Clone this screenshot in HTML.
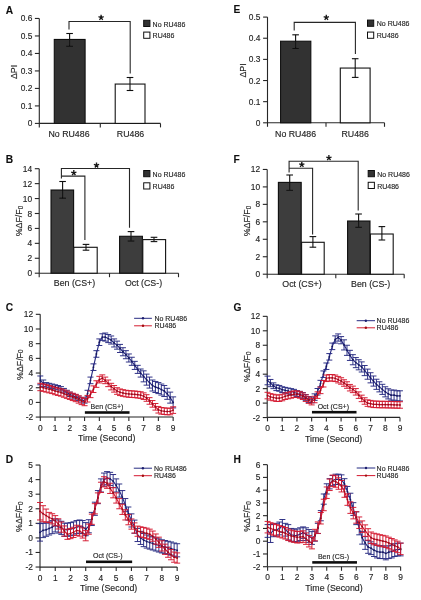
<!DOCTYPE html>
<html><head><meta charset="utf-8"><style>
html,body{margin:0;padding:0;background:#fff;}
svg{display:block;}
text{font-family:"Liberation Sans", sans-serif;stroke:#333;stroke-width:0.15px;}
</style></head><body>
<svg width="421" height="600" viewBox="0 0 421 600">
<defs><filter id="bl" x="0" y="0" width="421" height="600" filterUnits="userSpaceOnUse"><feGaussianBlur stdDeviation="0.32"/></filter></defs>
<rect width="421" height="600" fill="#fff"/>
<g filter="url(#bl)">
<text x="5.8" y="13.6" font-size="10.2" text-anchor="start" font-weight="bold" fill="#111">A</text>
<line x1="39.3" y1="18.46" x2="39.3" y2="127.4" stroke="#262626" stroke-width="1.1"/>
<line x1="34.9" y1="123.4" x2="39.3" y2="123.4" stroke="#262626" stroke-width="1.1"/>
<text x="32.3" y="126.42" font-size="8.4" text-anchor="end" font-weight="normal" fill="#1a1a1a">0</text>
<line x1="34.9" y1="105.91" x2="39.3" y2="105.91" stroke="#262626" stroke-width="1.1"/>
<text x="32.3" y="108.93" font-size="8.4" text-anchor="end" font-weight="normal" fill="#1a1a1a">0.1</text>
<line x1="34.9" y1="88.42" x2="39.3" y2="88.42" stroke="#262626" stroke-width="1.1"/>
<text x="32.3" y="91.44" font-size="8.4" text-anchor="end" font-weight="normal" fill="#1a1a1a">0.2</text>
<line x1="34.9" y1="70.93" x2="39.3" y2="70.93" stroke="#262626" stroke-width="1.1"/>
<text x="32.3" y="73.95" font-size="8.4" text-anchor="end" font-weight="normal" fill="#1a1a1a">0.3</text>
<line x1="34.9" y1="53.44" x2="39.3" y2="53.44" stroke="#262626" stroke-width="1.1"/>
<text x="32.3" y="56.46" font-size="8.4" text-anchor="end" font-weight="normal" fill="#1a1a1a">0.4</text>
<line x1="34.9" y1="35.95" x2="39.3" y2="35.95" stroke="#262626" stroke-width="1.1"/>
<text x="32.3" y="38.97" font-size="8.4" text-anchor="end" font-weight="normal" fill="#1a1a1a">0.5</text>
<line x1="34.9" y1="18.46" x2="39.3" y2="18.46" stroke="#262626" stroke-width="1.1"/>
<text x="32.3" y="21.48" font-size="8.4" text-anchor="end" font-weight="normal" fill="#1a1a1a">0.6</text>
<line x1="39.3" y1="123.4" x2="160.5" y2="123.4" stroke="#262626" stroke-width="1.1"/>
<line x1="100.3" y1="123.4" x2="100.3" y2="127.4" stroke="#262626" stroke-width="1.1"/>
<line x1="160.5" y1="123.4" x2="160.5" y2="127.4" stroke="#262626" stroke-width="1.1"/>
<rect x="54.3" y="39.45" width="30.8" height="83.95" fill="#333333" stroke="#111" stroke-width="1.1"/>
<rect x="115.2" y="84.05" width="29.8" height="39.35" fill="#fff" stroke="#111" stroke-width="1.1"/>
<line x1="69.6" y1="33.5" x2="69.6" y2="46.3" stroke="#111" stroke-width="1.1"/>
<line x1="66.3" y1="33.5" x2="72.9" y2="33.5" stroke="#111" stroke-width="1.1"/>
<line x1="66.3" y1="46.3" x2="72.9" y2="46.3" stroke="#111" stroke-width="1.1"/>
<line x1="130" y1="77.5" x2="130" y2="90.5" stroke="#111" stroke-width="1.1"/>
<line x1="126.7" y1="77.5" x2="133.3" y2="77.5" stroke="#111" stroke-width="1.1"/>
<line x1="126.7" y1="90.5" x2="133.3" y2="90.5" stroke="#111" stroke-width="1.1"/>
<polyline points="69,29.5 69,21.5 130.2,21.5 130.2,73.5" fill="none" stroke="#262626" stroke-width="1.1"/>
<path d="M101.1,17.57L101.1,14.82M101.1,17.57L103.72,16.72M101.1,17.57L102.72,19.79M101.1,17.57L99.48,19.79M101.1,17.57L98.48,16.72" stroke="#1a1a1a" stroke-width="1.35" fill="none"/>
<circle cx="101.1" cy="17.57" r="0.9" fill="#1a1a1a"/>
<rect x="143.7" y="20.3" width="6.2" height="6.2" fill="#333" stroke="#111" stroke-width="1.0"/>
<rect x="143.7" y="32.1" width="6.2" height="6.2" fill="#fff" stroke="#111" stroke-width="1.0"/>
<text x="152.6" y="26.6" font-size="7.0" text-anchor="start" font-weight="normal" fill="#1a1a1a">No RU486</text>
<text x="152.6" y="38.4" font-size="7.0" text-anchor="start" font-weight="normal" fill="#1a1a1a">RU486</text>
<text x="69" y="136.5" font-size="8.8" text-anchor="middle" font-weight="normal" fill="#1a1a1a">No RU486</text>
<text x="130.5" y="136.5" font-size="8.8" text-anchor="middle" font-weight="normal" fill="#1a1a1a">RU486</text>
<text transform="translate(16.9,72) rotate(-90)" x="0" y="0" font-size="8.8" text-anchor="middle" fill="#1a1a1a">ΔPI</text>
<text x="233.4" y="13.1" font-size="10.2" text-anchor="start" font-weight="bold" fill="#111">E</text>
<line x1="267.5" y1="17.1" x2="267.5" y2="126.8" stroke="#262626" stroke-width="1.1"/>
<line x1="263.1" y1="122.8" x2="267.5" y2="122.8" stroke="#262626" stroke-width="1.1"/>
<text x="260.5" y="125.82" font-size="8.4" text-anchor="end" font-weight="normal" fill="#1a1a1a">0</text>
<line x1="263.1" y1="101.66" x2="267.5" y2="101.66" stroke="#262626" stroke-width="1.1"/>
<text x="260.5" y="104.68" font-size="8.4" text-anchor="end" font-weight="normal" fill="#1a1a1a">0.1</text>
<line x1="263.1" y1="80.52" x2="267.5" y2="80.52" stroke="#262626" stroke-width="1.1"/>
<text x="260.5" y="83.54" font-size="8.4" text-anchor="end" font-weight="normal" fill="#1a1a1a">0.2</text>
<line x1="263.1" y1="59.38" x2="267.5" y2="59.38" stroke="#262626" stroke-width="1.1"/>
<text x="260.5" y="62.4" font-size="8.4" text-anchor="end" font-weight="normal" fill="#1a1a1a">0.3</text>
<line x1="263.1" y1="38.24" x2="267.5" y2="38.24" stroke="#262626" stroke-width="1.1"/>
<text x="260.5" y="41.26" font-size="8.4" text-anchor="end" font-weight="normal" fill="#1a1a1a">0.4</text>
<line x1="263.1" y1="17.1" x2="267.5" y2="17.1" stroke="#262626" stroke-width="1.1"/>
<text x="260.5" y="20.12" font-size="8.4" text-anchor="end" font-weight="normal" fill="#1a1a1a">0.5</text>
<line x1="267.5" y1="122.8" x2="384.5" y2="122.8" stroke="#262626" stroke-width="1.1"/>
<line x1="326" y1="122.8" x2="326" y2="126.8" stroke="#262626" stroke-width="1.1"/>
<line x1="384.5" y1="122.8" x2="384.5" y2="126.8" stroke="#262626" stroke-width="1.1"/>
<rect x="280.6" y="41.2" width="30.2" height="81.6" fill="#333333" stroke="#111" stroke-width="1.1"/>
<rect x="340.3" y="68.05" width="29.8" height="54.75" fill="#fff" stroke="#111" stroke-width="1.1"/>
<line x1="295.6" y1="34.8" x2="295.6" y2="48.5" stroke="#111" stroke-width="1.1"/>
<line x1="292.3" y1="34.8" x2="298.9" y2="34.8" stroke="#111" stroke-width="1.1"/>
<line x1="292.3" y1="48.5" x2="298.9" y2="48.5" stroke="#111" stroke-width="1.1"/>
<line x1="355.2" y1="58.7" x2="355.2" y2="77.4" stroke="#111" stroke-width="1.1"/>
<line x1="351.9" y1="58.7" x2="358.5" y2="58.7" stroke="#111" stroke-width="1.1"/>
<line x1="351.9" y1="77.4" x2="358.5" y2="77.4" stroke="#111" stroke-width="1.1"/>
<polyline points="294.2,30.5 294.2,22.4 355.4,22.4 355.4,54" fill="none" stroke="#262626" stroke-width="1.1"/>
<path d="M326.3,17.57L326.3,14.82M326.3,17.57L328.92,16.72M326.3,17.57L327.92,19.79M326.3,17.57L324.68,19.79M326.3,17.57L323.68,16.72" stroke="#1a1a1a" stroke-width="1.35" fill="none"/>
<circle cx="326.3" cy="17.57" r="0.9" fill="#1a1a1a"/>
<rect x="367.5" y="20.1" width="6.2" height="6.2" fill="#333" stroke="#111" stroke-width="1.0"/>
<rect x="367.5" y="32.1" width="6.2" height="6.2" fill="#fff" stroke="#111" stroke-width="1.0"/>
<text x="376.8" y="26.4" font-size="7.0" text-anchor="start" font-weight="normal" fill="#1a1a1a">No RU486</text>
<text x="376.8" y="38.4" font-size="7.0" text-anchor="start" font-weight="normal" fill="#1a1a1a">RU486</text>
<text x="295.6" y="136.6" font-size="8.8" text-anchor="middle" font-weight="normal" fill="#1a1a1a">No RU486</text>
<text x="355.2" y="136.6" font-size="8.8" text-anchor="middle" font-weight="normal" fill="#1a1a1a">RU486</text>
<text transform="translate(246,70.5) rotate(-90)" x="0" y="0" font-size="8.8" text-anchor="middle" fill="#1a1a1a">ΔPI</text>
<text x="5.8" y="163.2" font-size="10.2" text-anchor="start" font-weight="bold" fill="#111">B</text>
<line x1="39.2" y1="168.7" x2="39.2" y2="277.2" stroke="#262626" stroke-width="1.1"/>
<line x1="34.8" y1="273.2" x2="39.2" y2="273.2" stroke="#262626" stroke-width="1.1"/>
<text x="32.2" y="276.22" font-size="8.4" text-anchor="end" font-weight="normal" fill="#1a1a1a">0</text>
<line x1="34.8" y1="258.27" x2="39.2" y2="258.27" stroke="#262626" stroke-width="1.1"/>
<text x="32.2" y="261.3" font-size="8.4" text-anchor="end" font-weight="normal" fill="#1a1a1a">2</text>
<line x1="34.8" y1="243.34" x2="39.2" y2="243.34" stroke="#262626" stroke-width="1.1"/>
<text x="32.2" y="246.37" font-size="8.4" text-anchor="end" font-weight="normal" fill="#1a1a1a">4</text>
<line x1="34.8" y1="228.42" x2="39.2" y2="228.42" stroke="#262626" stroke-width="1.1"/>
<text x="32.2" y="231.44" font-size="8.4" text-anchor="end" font-weight="normal" fill="#1a1a1a">6</text>
<line x1="34.8" y1="213.49" x2="39.2" y2="213.49" stroke="#262626" stroke-width="1.1"/>
<text x="32.2" y="216.51" font-size="8.4" text-anchor="end" font-weight="normal" fill="#1a1a1a">8</text>
<line x1="34.8" y1="198.56" x2="39.2" y2="198.56" stroke="#262626" stroke-width="1.1"/>
<text x="32.2" y="201.58" font-size="8.4" text-anchor="end" font-weight="normal" fill="#1a1a1a">10</text>
<line x1="34.8" y1="183.63" x2="39.2" y2="183.63" stroke="#262626" stroke-width="1.1"/>
<text x="32.2" y="186.66" font-size="8.4" text-anchor="end" font-weight="normal" fill="#1a1a1a">12</text>
<line x1="34.8" y1="168.7" x2="39.2" y2="168.7" stroke="#262626" stroke-width="1.1"/>
<text x="32.2" y="171.73" font-size="8.4" text-anchor="end" font-weight="normal" fill="#1a1a1a">14</text>
<line x1="39.2" y1="273.2" x2="178.5" y2="273.2" stroke="#262626" stroke-width="1.1"/>
<line x1="109.5" y1="273.2" x2="109.5" y2="277.2" stroke="#262626" stroke-width="1.1"/>
<line x1="178.5" y1="273.2" x2="178.5" y2="277.2" stroke="#262626" stroke-width="1.1"/>
<rect x="51" y="190" width="22.6" height="83.2" fill="#3d3d3d" stroke="#111" stroke-width="1.1"/>
<rect x="73.8" y="247.3" width="23.4" height="25.9" fill="#fff" stroke="#111" stroke-width="1.1"/>
<rect x="119.6" y="236.3" width="22.8" height="36.9" fill="#3d3d3d" stroke="#111" stroke-width="1.1"/>
<rect x="142.8" y="239.6" width="22.8" height="33.6" fill="#fff" stroke="#111" stroke-width="1.1"/>
<line x1="62.6" y1="181.5" x2="62.6" y2="198.2" stroke="#111" stroke-width="1.1"/>
<line x1="59.3" y1="181.5" x2="65.9" y2="181.5" stroke="#111" stroke-width="1.1"/>
<line x1="59.3" y1="198.2" x2="65.9" y2="198.2" stroke="#111" stroke-width="1.1"/>
<line x1="86" y1="244.4" x2="86" y2="250.2" stroke="#111" stroke-width="1.1"/>
<line x1="82.7" y1="244.4" x2="89.3" y2="244.4" stroke="#111" stroke-width="1.1"/>
<line x1="82.7" y1="250.2" x2="89.3" y2="250.2" stroke="#111" stroke-width="1.1"/>
<line x1="131" y1="231.6" x2="131" y2="241.1" stroke="#111" stroke-width="1.1"/>
<line x1="127.7" y1="231.6" x2="134.3" y2="231.6" stroke="#111" stroke-width="1.1"/>
<line x1="127.7" y1="241.1" x2="134.3" y2="241.1" stroke="#111" stroke-width="1.1"/>
<line x1="154" y1="237.3" x2="154" y2="241.6" stroke="#111" stroke-width="1.1"/>
<line x1="150.7" y1="237.3" x2="157.3" y2="237.3" stroke="#111" stroke-width="1.1"/>
<line x1="150.7" y1="241.6" x2="157.3" y2="241.6" stroke="#111" stroke-width="1.1"/>
<polyline points="61.4,178.5 61.4,168.5 129.5,168.5 129.5,227.7" fill="none" stroke="#262626" stroke-width="1.1"/>
<polyline points="61.4,176.1 84.9,176.1 84.9,240" fill="none" stroke="#262626" stroke-width="1.1"/>
<path d="M73.8,172.87L73.8,170.12M73.8,172.87L76.42,172.02M73.8,172.87L75.42,175.09M73.8,172.87L72.18,175.09M73.8,172.87L71.18,172.02" stroke="#1a1a1a" stroke-width="1.35" fill="none"/>
<circle cx="73.8" cy="172.87" r="0.9" fill="#1a1a1a"/>
<path d="M96.5,165.27L96.5,162.52M96.5,165.27L99.12,164.42M96.5,165.27L98.12,167.49M96.5,165.27L94.88,167.49M96.5,165.27L93.88,164.42" stroke="#1a1a1a" stroke-width="1.35" fill="none"/>
<circle cx="96.5" cy="165.27" r="0.9" fill="#1a1a1a"/>
<rect x="143.7" y="170.5" width="6.2" height="6.2" fill="#333" stroke="#111" stroke-width="1.0"/>
<rect x="143.7" y="182.8" width="6.2" height="6.2" fill="#fff" stroke="#111" stroke-width="1.0"/>
<text x="152.6" y="176.8" font-size="7.0" text-anchor="start" font-weight="normal" fill="#1a1a1a">No RU486</text>
<text x="152.6" y="189.1" font-size="7.0" text-anchor="start" font-weight="normal" fill="#1a1a1a">RU486</text>
<text x="74.5" y="286.4" font-size="8.8" text-anchor="middle" font-weight="normal" fill="#1a1a1a">Ben (CS+)</text>
<text x="143.5" y="286.4" font-size="8.8" text-anchor="middle" font-weight="normal" fill="#1a1a1a">Oct (CS-)</text>
<text transform="translate(22.3,221) rotate(-90)" x="0" y="0" font-size="8.8" text-anchor="middle" fill="#1a1a1a">%ΔF/F<tspan font-size="6.3" dy="0.5">0</tspan></text>
<text x="233.4" y="163.2" font-size="10.2" text-anchor="start" font-weight="bold" fill="#111">F</text>
<line x1="267.2" y1="169.44" x2="267.2" y2="278.2" stroke="#262626" stroke-width="1.1"/>
<line x1="262.8" y1="274.2" x2="267.2" y2="274.2" stroke="#262626" stroke-width="1.1"/>
<text x="260.2" y="277.22" font-size="8.4" text-anchor="end" font-weight="normal" fill="#1a1a1a">0</text>
<line x1="262.8" y1="256.74" x2="267.2" y2="256.74" stroke="#262626" stroke-width="1.1"/>
<text x="260.2" y="259.76" font-size="8.4" text-anchor="end" font-weight="normal" fill="#1a1a1a">2</text>
<line x1="262.8" y1="239.28" x2="267.2" y2="239.28" stroke="#262626" stroke-width="1.1"/>
<text x="260.2" y="242.3" font-size="8.4" text-anchor="end" font-weight="normal" fill="#1a1a1a">4</text>
<line x1="262.8" y1="221.82" x2="267.2" y2="221.82" stroke="#262626" stroke-width="1.1"/>
<text x="260.2" y="224.84" font-size="8.4" text-anchor="end" font-weight="normal" fill="#1a1a1a">6</text>
<line x1="262.8" y1="204.36" x2="267.2" y2="204.36" stroke="#262626" stroke-width="1.1"/>
<text x="260.2" y="207.38" font-size="8.4" text-anchor="end" font-weight="normal" fill="#1a1a1a">8</text>
<line x1="262.8" y1="186.9" x2="267.2" y2="186.9" stroke="#262626" stroke-width="1.1"/>
<text x="260.2" y="189.92" font-size="8.4" text-anchor="end" font-weight="normal" fill="#1a1a1a">10</text>
<line x1="262.8" y1="169.44" x2="267.2" y2="169.44" stroke="#262626" stroke-width="1.1"/>
<text x="260.2" y="172.46" font-size="8.4" text-anchor="end" font-weight="normal" fill="#1a1a1a">12</text>
<line x1="267.2" y1="274.2" x2="404.2" y2="274.2" stroke="#262626" stroke-width="1.1"/>
<line x1="335.8" y1="274.2" x2="335.8" y2="278.2" stroke="#262626" stroke-width="1.1"/>
<line x1="404.2" y1="274.2" x2="404.2" y2="278.2" stroke="#262626" stroke-width="1.1"/>
<rect x="278.4" y="182.4" width="22.8" height="91.8" fill="#3d3d3d" stroke="#111" stroke-width="1.1"/>
<rect x="301.6" y="242.3" width="22.6" height="31.9" fill="#fff" stroke="#111" stroke-width="1.1"/>
<rect x="347.6" y="221" width="22.4" height="53.2" fill="#3d3d3d" stroke="#111" stroke-width="1.1"/>
<rect x="370.4" y="234" width="22.8" height="40.2" fill="#fff" stroke="#111" stroke-width="1.1"/>
<line x1="289.7" y1="175" x2="289.7" y2="190.4" stroke="#111" stroke-width="1.1"/>
<line x1="286.4" y1="175" x2="293" y2="175" stroke="#111" stroke-width="1.1"/>
<line x1="286.4" y1="190.4" x2="293" y2="190.4" stroke="#111" stroke-width="1.1"/>
<line x1="312.9" y1="236.6" x2="312.9" y2="247.2" stroke="#111" stroke-width="1.1"/>
<line x1="309.6" y1="236.6" x2="316.2" y2="236.6" stroke="#111" stroke-width="1.1"/>
<line x1="309.6" y1="247.2" x2="316.2" y2="247.2" stroke="#111" stroke-width="1.1"/>
<line x1="358.6" y1="214" x2="358.6" y2="227.3" stroke="#111" stroke-width="1.1"/>
<line x1="355.3" y1="214" x2="361.9" y2="214" stroke="#111" stroke-width="1.1"/>
<line x1="355.3" y1="227.3" x2="361.9" y2="227.3" stroke="#111" stroke-width="1.1"/>
<line x1="381.9" y1="226.6" x2="381.9" y2="240" stroke="#111" stroke-width="1.1"/>
<line x1="378.6" y1="226.6" x2="385.2" y2="226.6" stroke="#111" stroke-width="1.1"/>
<line x1="378.6" y1="240" x2="385.2" y2="240" stroke="#111" stroke-width="1.1"/>
<polyline points="289.1,172.5 289.1,161.3 358.2,161.3 358.2,210.5" fill="none" stroke="#262626" stroke-width="1.1"/>
<polyline points="289.1,168.3 312.6,168.3 312.6,234.5" fill="none" stroke="#262626" stroke-width="1.1"/>
<path d="M301.8,164.67L301.8,161.92M301.8,164.67L304.42,163.82M301.8,164.67L303.42,166.89M301.8,164.67L300.18,166.89M301.8,164.67L299.18,163.82" stroke="#1a1a1a" stroke-width="1.35" fill="none"/>
<circle cx="301.8" cy="164.67" r="0.9" fill="#1a1a1a"/>
<path d="M328.9,157.87L328.9,155.12M328.9,157.87L331.52,157.02M328.9,157.87L330.52,160.09M328.9,157.87L327.28,160.09M328.9,157.87L326.28,157.02" stroke="#1a1a1a" stroke-width="1.35" fill="none"/>
<circle cx="328.9" cy="157.87" r="0.9" fill="#1a1a1a"/>
<rect x="368.2" y="170.5" width="6.2" height="6.2" fill="#333" stroke="#111" stroke-width="1.0"/>
<rect x="368.2" y="182.3" width="6.2" height="6.2" fill="#fff" stroke="#111" stroke-width="1.0"/>
<text x="377.2" y="176.8" font-size="7.0" text-anchor="start" font-weight="normal" fill="#1a1a1a">No RU486</text>
<text x="377.2" y="188.6" font-size="7.0" text-anchor="start" font-weight="normal" fill="#1a1a1a">RU486</text>
<text x="302" y="287" font-size="8.8" text-anchor="middle" font-weight="normal" fill="#1a1a1a">Oct (CS+)</text>
<text x="370.6" y="287" font-size="8.8" text-anchor="middle" font-weight="normal" fill="#1a1a1a">Ben (CS-)</text>
<text transform="translate(250.2,221) rotate(-90)" x="0" y="0" font-size="8.8" text-anchor="middle" fill="#1a1a1a">%ΔF/F<tspan font-size="6.3" dy="0.5">0</tspan></text>
<text x="5.8" y="311.1" font-size="10.2" text-anchor="start" font-weight="bold" fill="#111">C</text>
<line x1="40.2" y1="314.32" x2="40.2" y2="417" stroke="#262626" stroke-width="1.1"/>
<line x1="35.8" y1="417.08" x2="40.2" y2="417.08" stroke="#262626" stroke-width="1.1"/>
<text x="33.2" y="420.1" font-size="8.4" text-anchor="end" font-weight="normal" fill="#1a1a1a">-2</text>
<line x1="35.8" y1="402.4" x2="40.2" y2="402.4" stroke="#262626" stroke-width="1.1"/>
<text x="33.2" y="405.42" font-size="8.4" text-anchor="end" font-weight="normal" fill="#1a1a1a">0</text>
<line x1="35.8" y1="387.72" x2="40.2" y2="387.72" stroke="#262626" stroke-width="1.1"/>
<text x="33.2" y="390.74" font-size="8.4" text-anchor="end" font-weight="normal" fill="#1a1a1a">2</text>
<line x1="35.8" y1="373.04" x2="40.2" y2="373.04" stroke="#262626" stroke-width="1.1"/>
<text x="33.2" y="376.06" font-size="8.4" text-anchor="end" font-weight="normal" fill="#1a1a1a">4</text>
<line x1="35.8" y1="358.36" x2="40.2" y2="358.36" stroke="#262626" stroke-width="1.1"/>
<text x="33.2" y="361.38" font-size="8.4" text-anchor="end" font-weight="normal" fill="#1a1a1a">6</text>
<line x1="35.8" y1="343.68" x2="40.2" y2="343.68" stroke="#262626" stroke-width="1.1"/>
<text x="33.2" y="346.7" font-size="8.4" text-anchor="end" font-weight="normal" fill="#1a1a1a">8</text>
<line x1="35.8" y1="329" x2="40.2" y2="329" stroke="#262626" stroke-width="1.1"/>
<text x="33.2" y="332.02" font-size="8.4" text-anchor="end" font-weight="normal" fill="#1a1a1a">10</text>
<line x1="35.8" y1="314.32" x2="40.2" y2="314.32" stroke="#262626" stroke-width="1.1"/>
<text x="33.2" y="317.34" font-size="8.4" text-anchor="end" font-weight="normal" fill="#1a1a1a">12</text>
<line x1="40.2" y1="417" x2="173.14" y2="417" stroke="#262626" stroke-width="1.1"/>
<line x1="40.3" y1="417" x2="40.3" y2="421" stroke="#262626" stroke-width="1.1"/>
<line x1="55.06" y1="417" x2="55.06" y2="421" stroke="#262626" stroke-width="1.1"/>
<line x1="69.82" y1="417" x2="69.82" y2="421" stroke="#262626" stroke-width="1.1"/>
<line x1="84.58" y1="417" x2="84.58" y2="421" stroke="#262626" stroke-width="1.1"/>
<line x1="99.34" y1="417" x2="99.34" y2="421" stroke="#262626" stroke-width="1.1"/>
<line x1="114.1" y1="417" x2="114.1" y2="421" stroke="#262626" stroke-width="1.1"/>
<line x1="128.86" y1="417" x2="128.86" y2="421" stroke="#262626" stroke-width="1.1"/>
<line x1="143.62" y1="417" x2="143.62" y2="421" stroke="#262626" stroke-width="1.1"/>
<line x1="158.38" y1="417" x2="158.38" y2="421" stroke="#262626" stroke-width="1.1"/>
<line x1="173.14" y1="417" x2="173.14" y2="421" stroke="#262626" stroke-width="1.1"/>
<text x="40.3" y="430.5" font-size="8.4" text-anchor="middle" font-weight="normal" fill="#1a1a1a">0</text>
<text x="55.06" y="430.5" font-size="8.4" text-anchor="middle" font-weight="normal" fill="#1a1a1a">1</text>
<text x="69.82" y="430.5" font-size="8.4" text-anchor="middle" font-weight="normal" fill="#1a1a1a">2</text>
<text x="84.58" y="430.5" font-size="8.4" text-anchor="middle" font-weight="normal" fill="#1a1a1a">3</text>
<text x="99.34" y="430.5" font-size="8.4" text-anchor="middle" font-weight="normal" fill="#1a1a1a">4</text>
<text x="114.1" y="430.5" font-size="8.4" text-anchor="middle" font-weight="normal" fill="#1a1a1a">5</text>
<text x="128.86" y="430.5" font-size="8.4" text-anchor="middle" font-weight="normal" fill="#1a1a1a">6</text>
<text x="143.62" y="430.5" font-size="8.4" text-anchor="middle" font-weight="normal" fill="#1a1a1a">7</text>
<text x="158.38" y="430.5" font-size="8.4" text-anchor="middle" font-weight="normal" fill="#1a1a1a">8</text>
<text x="173.14" y="430.5" font-size="8.4" text-anchor="middle" font-weight="normal" fill="#1a1a1a">9</text>
<text x="106.67" y="441.2" font-size="8.8" text-anchor="middle" font-weight="normal" fill="#1a1a1a">Time (Second)</text>
<rect x="84.88" y="411.2" width="44.68" height="2.6" fill="#111"/>
<text x="90.58" y="408.8" font-size="7.0" text-anchor="start" font-weight="normal" fill="#1a1a1a">Ben (CS+)</text>
<line x1="134.1" y1="318.3" x2="151.9" y2="318.3" stroke="#272a82" stroke-width="1.0"/>
<line x1="134.1" y1="325.8" x2="151.9" y2="325.8" stroke="#d4172e" stroke-width="1.0"/>
<circle cx="143" cy="318.3" r="1.2" fill="#1c1f6e"/>
<circle cx="143" cy="325.8" r="1.2" fill="#a01010"/>
<text x="154.4" y="320.8" font-size="7.0" text-anchor="start" font-weight="normal" fill="#1a1a1a">No RU486</text>
<text x="154.4" y="328.3" font-size="7.0" text-anchor="start" font-weight="normal" fill="#1a1a1a">RU486</text>
<text transform="translate(22.5,364.7) rotate(-90)" x="0" y="0" font-size="8.8" text-anchor="middle" fill="#1a1a1a">%ΔF/F<tspan font-size="6.3" dy="0.5">0</tspan></text>
<line x1="40.3" y1="375.98" x2="40.3" y2="384.78" stroke="#272a82" stroke-width="0.95"/>
<line x1="37.3" y1="375.98" x2="43.3" y2="375.98" stroke="#272a82" stroke-width="0.95"/>
<line x1="37.3" y1="384.78" x2="43.3" y2="384.78" stroke="#272a82" stroke-width="0.95"/>
<line x1="43.25" y1="380.01" x2="43.25" y2="386.62" stroke="#272a82" stroke-width="0.95"/>
<line x1="40.25" y1="380.01" x2="46.25" y2="380.01" stroke="#272a82" stroke-width="0.95"/>
<line x1="40.25" y1="386.62" x2="46.25" y2="386.62" stroke="#272a82" stroke-width="0.95"/>
<line x1="46.2" y1="382.58" x2="46.2" y2="386.99" stroke="#272a82" stroke-width="0.95"/>
<line x1="43.2" y1="382.58" x2="49.2" y2="382.58" stroke="#272a82" stroke-width="0.95"/>
<line x1="43.2" y1="386.99" x2="49.2" y2="386.99" stroke="#272a82" stroke-width="0.95"/>
<line x1="49.16" y1="383.32" x2="49.16" y2="387.72" stroke="#272a82" stroke-width="0.95"/>
<line x1="46.16" y1="383.32" x2="52.16" y2="383.32" stroke="#272a82" stroke-width="0.95"/>
<line x1="46.16" y1="387.72" x2="52.16" y2="387.72" stroke="#272a82" stroke-width="0.95"/>
<line x1="52.11" y1="384.05" x2="52.11" y2="388.45" stroke="#272a82" stroke-width="0.95"/>
<line x1="49.11" y1="384.05" x2="55.11" y2="384.05" stroke="#272a82" stroke-width="0.95"/>
<line x1="49.11" y1="388.45" x2="55.11" y2="388.45" stroke="#272a82" stroke-width="0.95"/>
<line x1="55.06" y1="384.78" x2="55.06" y2="389.19" stroke="#272a82" stroke-width="0.95"/>
<line x1="52.06" y1="384.78" x2="58.06" y2="384.78" stroke="#272a82" stroke-width="0.95"/>
<line x1="52.06" y1="389.19" x2="58.06" y2="389.19" stroke="#272a82" stroke-width="0.95"/>
<line x1="58.01" y1="385.52" x2="58.01" y2="389.92" stroke="#272a82" stroke-width="0.95"/>
<line x1="55.01" y1="385.52" x2="61.01" y2="385.52" stroke="#272a82" stroke-width="0.95"/>
<line x1="55.01" y1="389.92" x2="61.01" y2="389.92" stroke="#272a82" stroke-width="0.95"/>
<line x1="60.96" y1="386.62" x2="60.96" y2="391.02" stroke="#272a82" stroke-width="0.95"/>
<line x1="57.96" y1="386.62" x2="63.96" y2="386.62" stroke="#272a82" stroke-width="0.95"/>
<line x1="57.96" y1="391.02" x2="63.96" y2="391.02" stroke="#272a82" stroke-width="0.95"/>
<line x1="63.92" y1="388.45" x2="63.92" y2="392.86" stroke="#272a82" stroke-width="0.95"/>
<line x1="60.92" y1="388.45" x2="66.92" y2="388.45" stroke="#272a82" stroke-width="0.95"/>
<line x1="60.92" y1="392.86" x2="66.92" y2="392.86" stroke="#272a82" stroke-width="0.95"/>
<line x1="66.87" y1="390.29" x2="66.87" y2="394.69" stroke="#272a82" stroke-width="0.95"/>
<line x1="63.87" y1="390.29" x2="69.87" y2="390.29" stroke="#272a82" stroke-width="0.95"/>
<line x1="63.87" y1="394.69" x2="69.87" y2="394.69" stroke="#272a82" stroke-width="0.95"/>
<line x1="69.82" y1="392.12" x2="69.82" y2="396.53" stroke="#272a82" stroke-width="0.95"/>
<line x1="66.82" y1="392.12" x2="72.82" y2="392.12" stroke="#272a82" stroke-width="0.95"/>
<line x1="66.82" y1="396.53" x2="72.82" y2="396.53" stroke="#272a82" stroke-width="0.95"/>
<line x1="72.77" y1="393.59" x2="72.77" y2="398" stroke="#272a82" stroke-width="0.95"/>
<line x1="69.77" y1="393.59" x2="75.77" y2="393.59" stroke="#272a82" stroke-width="0.95"/>
<line x1="69.77" y1="398" x2="75.77" y2="398" stroke="#272a82" stroke-width="0.95"/>
<line x1="75.72" y1="394.69" x2="75.72" y2="399.1" stroke="#272a82" stroke-width="0.95"/>
<line x1="72.72" y1="394.69" x2="78.72" y2="394.69" stroke="#272a82" stroke-width="0.95"/>
<line x1="72.72" y1="399.1" x2="78.72" y2="399.1" stroke="#272a82" stroke-width="0.95"/>
<line x1="78.68" y1="396.16" x2="78.68" y2="400.56" stroke="#272a82" stroke-width="0.95"/>
<line x1="75.68" y1="396.16" x2="81.68" y2="396.16" stroke="#272a82" stroke-width="0.95"/>
<line x1="75.68" y1="400.56" x2="81.68" y2="400.56" stroke="#272a82" stroke-width="0.95"/>
<line x1="81.63" y1="397.63" x2="81.63" y2="402.03" stroke="#272a82" stroke-width="0.95"/>
<line x1="78.63" y1="397.63" x2="84.63" y2="397.63" stroke="#272a82" stroke-width="0.95"/>
<line x1="78.63" y1="402.03" x2="84.63" y2="402.03" stroke="#272a82" stroke-width="0.95"/>
<line x1="84.58" y1="398.73" x2="84.58" y2="403.13" stroke="#272a82" stroke-width="0.95"/>
<line x1="81.58" y1="398.73" x2="87.58" y2="398.73" stroke="#272a82" stroke-width="0.95"/>
<line x1="81.58" y1="403.13" x2="87.58" y2="403.13" stroke="#272a82" stroke-width="0.95"/>
<line x1="87.53" y1="390.29" x2="87.53" y2="396.89" stroke="#272a82" stroke-width="0.95"/>
<line x1="84.53" y1="390.29" x2="90.53" y2="390.29" stroke="#272a82" stroke-width="0.95"/>
<line x1="84.53" y1="396.89" x2="90.53" y2="396.89" stroke="#272a82" stroke-width="0.95"/>
<line x1="90.48" y1="377.08" x2="90.48" y2="383.68" stroke="#272a82" stroke-width="0.95"/>
<line x1="87.48" y1="377.08" x2="93.48" y2="377.08" stroke="#272a82" stroke-width="0.95"/>
<line x1="87.48" y1="383.68" x2="93.48" y2="383.68" stroke="#272a82" stroke-width="0.95"/>
<line x1="93.44" y1="363.87" x2="93.44" y2="370.47" stroke="#272a82" stroke-width="0.95"/>
<line x1="90.44" y1="363.87" x2="96.44" y2="363.87" stroke="#272a82" stroke-width="0.95"/>
<line x1="90.44" y1="370.47" x2="96.44" y2="370.47" stroke="#272a82" stroke-width="0.95"/>
<line x1="96.39" y1="350.65" x2="96.39" y2="357.26" stroke="#272a82" stroke-width="0.95"/>
<line x1="93.39" y1="350.65" x2="99.39" y2="350.65" stroke="#272a82" stroke-width="0.95"/>
<line x1="93.39" y1="357.26" x2="99.39" y2="357.26" stroke="#272a82" stroke-width="0.95"/>
<line x1="99.34" y1="338.91" x2="99.34" y2="345.51" stroke="#272a82" stroke-width="0.95"/>
<line x1="96.34" y1="338.91" x2="102.34" y2="338.91" stroke="#272a82" stroke-width="0.95"/>
<line x1="96.34" y1="345.51" x2="102.34" y2="345.51" stroke="#272a82" stroke-width="0.95"/>
<line x1="102.29" y1="333.77" x2="102.29" y2="340.38" stroke="#272a82" stroke-width="0.95"/>
<line x1="99.29" y1="333.77" x2="105.29" y2="333.77" stroke="#272a82" stroke-width="0.95"/>
<line x1="99.29" y1="340.38" x2="105.29" y2="340.38" stroke="#272a82" stroke-width="0.95"/>
<line x1="105.24" y1="333.04" x2="105.24" y2="341.11" stroke="#272a82" stroke-width="0.95"/>
<line x1="102.24" y1="333.04" x2="108.24" y2="333.04" stroke="#272a82" stroke-width="0.95"/>
<line x1="102.24" y1="341.11" x2="108.24" y2="341.11" stroke="#272a82" stroke-width="0.95"/>
<line x1="108.2" y1="334.5" x2="108.2" y2="342.58" stroke="#272a82" stroke-width="0.95"/>
<line x1="105.2" y1="334.5" x2="111.2" y2="334.5" stroke="#272a82" stroke-width="0.95"/>
<line x1="105.2" y1="342.58" x2="111.2" y2="342.58" stroke="#272a82" stroke-width="0.95"/>
<line x1="111.15" y1="335.97" x2="111.15" y2="344.05" stroke="#272a82" stroke-width="0.95"/>
<line x1="108.15" y1="335.97" x2="114.15" y2="335.97" stroke="#272a82" stroke-width="0.95"/>
<line x1="108.15" y1="344.05" x2="114.15" y2="344.05" stroke="#272a82" stroke-width="0.95"/>
<line x1="114.1" y1="338.91" x2="114.1" y2="346.98" stroke="#272a82" stroke-width="0.95"/>
<line x1="111.1" y1="338.91" x2="117.1" y2="338.91" stroke="#272a82" stroke-width="0.95"/>
<line x1="111.1" y1="346.98" x2="117.1" y2="346.98" stroke="#272a82" stroke-width="0.95"/>
<line x1="117.05" y1="341.11" x2="117.05" y2="349.18" stroke="#272a82" stroke-width="0.95"/>
<line x1="114.05" y1="341.11" x2="120.05" y2="341.11" stroke="#272a82" stroke-width="0.95"/>
<line x1="114.05" y1="349.18" x2="120.05" y2="349.18" stroke="#272a82" stroke-width="0.95"/>
<line x1="120" y1="344.41" x2="120" y2="352.49" stroke="#272a82" stroke-width="0.95"/>
<line x1="117" y1="344.41" x2="123" y2="344.41" stroke="#272a82" stroke-width="0.95"/>
<line x1="117" y1="352.49" x2="123" y2="352.49" stroke="#272a82" stroke-width="0.95"/>
<line x1="122.96" y1="347.72" x2="122.96" y2="355.79" stroke="#272a82" stroke-width="0.95"/>
<line x1="119.96" y1="347.72" x2="125.96" y2="347.72" stroke="#272a82" stroke-width="0.95"/>
<line x1="119.96" y1="355.79" x2="125.96" y2="355.79" stroke="#272a82" stroke-width="0.95"/>
<line x1="125.91" y1="350.65" x2="125.91" y2="358.73" stroke="#272a82" stroke-width="0.95"/>
<line x1="122.91" y1="350.65" x2="128.91" y2="350.65" stroke="#272a82" stroke-width="0.95"/>
<line x1="122.91" y1="358.73" x2="128.91" y2="358.73" stroke="#272a82" stroke-width="0.95"/>
<line x1="128.86" y1="353.96" x2="128.86" y2="362.03" stroke="#272a82" stroke-width="0.95"/>
<line x1="125.86" y1="353.96" x2="131.86" y2="353.96" stroke="#272a82" stroke-width="0.95"/>
<line x1="125.86" y1="362.03" x2="131.86" y2="362.03" stroke="#272a82" stroke-width="0.95"/>
<line x1="131.81" y1="357.26" x2="131.81" y2="365.33" stroke="#272a82" stroke-width="0.95"/>
<line x1="128.81" y1="357.26" x2="134.81" y2="357.26" stroke="#272a82" stroke-width="0.95"/>
<line x1="128.81" y1="365.33" x2="134.81" y2="365.33" stroke="#272a82" stroke-width="0.95"/>
<line x1="134.76" y1="361.37" x2="134.76" y2="369.44" stroke="#272a82" stroke-width="0.95"/>
<line x1="131.76" y1="361.37" x2="137.76" y2="361.37" stroke="#272a82" stroke-width="0.95"/>
<line x1="131.76" y1="369.44" x2="137.76" y2="369.44" stroke="#272a82" stroke-width="0.95"/>
<line x1="137.72" y1="365.33" x2="137.72" y2="373.41" stroke="#272a82" stroke-width="0.95"/>
<line x1="134.72" y1="365.33" x2="140.72" y2="365.33" stroke="#272a82" stroke-width="0.95"/>
<line x1="134.72" y1="373.41" x2="140.72" y2="373.41" stroke="#272a82" stroke-width="0.95"/>
<line x1="140.67" y1="369" x2="140.67" y2="377.08" stroke="#272a82" stroke-width="0.95"/>
<line x1="137.67" y1="369" x2="143.67" y2="369" stroke="#272a82" stroke-width="0.95"/>
<line x1="137.67" y1="377.08" x2="143.67" y2="377.08" stroke="#272a82" stroke-width="0.95"/>
<line x1="143.62" y1="370.84" x2="143.62" y2="381.85" stroke="#272a82" stroke-width="0.95"/>
<line x1="140.62" y1="370.84" x2="146.62" y2="370.84" stroke="#272a82" stroke-width="0.95"/>
<line x1="140.62" y1="381.85" x2="146.62" y2="381.85" stroke="#272a82" stroke-width="0.95"/>
<line x1="146.57" y1="374.14" x2="146.57" y2="385.15" stroke="#272a82" stroke-width="0.95"/>
<line x1="143.57" y1="374.14" x2="149.57" y2="374.14" stroke="#272a82" stroke-width="0.95"/>
<line x1="143.57" y1="385.15" x2="149.57" y2="385.15" stroke="#272a82" stroke-width="0.95"/>
<line x1="149.52" y1="377.08" x2="149.52" y2="388.09" stroke="#272a82" stroke-width="0.95"/>
<line x1="146.52" y1="377.08" x2="152.52" y2="377.08" stroke="#272a82" stroke-width="0.95"/>
<line x1="146.52" y1="388.09" x2="152.52" y2="388.09" stroke="#272a82" stroke-width="0.95"/>
<line x1="152.48" y1="380.01" x2="152.48" y2="391.02" stroke="#272a82" stroke-width="0.95"/>
<line x1="149.48" y1="380.01" x2="155.48" y2="380.01" stroke="#272a82" stroke-width="0.95"/>
<line x1="149.48" y1="391.02" x2="155.48" y2="391.02" stroke="#272a82" stroke-width="0.95"/>
<line x1="155.43" y1="381.48" x2="155.43" y2="392.49" stroke="#272a82" stroke-width="0.95"/>
<line x1="152.43" y1="381.48" x2="158.43" y2="381.48" stroke="#272a82" stroke-width="0.95"/>
<line x1="152.43" y1="392.49" x2="158.43" y2="392.49" stroke="#272a82" stroke-width="0.95"/>
<line x1="158.38" y1="382.58" x2="158.38" y2="393.59" stroke="#272a82" stroke-width="0.95"/>
<line x1="155.38" y1="382.58" x2="161.38" y2="382.58" stroke="#272a82" stroke-width="0.95"/>
<line x1="155.38" y1="393.59" x2="161.38" y2="393.59" stroke="#272a82" stroke-width="0.95"/>
<line x1="161.33" y1="384.05" x2="161.33" y2="395.06" stroke="#272a82" stroke-width="0.95"/>
<line x1="158.33" y1="384.05" x2="164.33" y2="384.05" stroke="#272a82" stroke-width="0.95"/>
<line x1="158.33" y1="395.06" x2="164.33" y2="395.06" stroke="#272a82" stroke-width="0.95"/>
<line x1="164.28" y1="385.52" x2="164.28" y2="396.53" stroke="#272a82" stroke-width="0.95"/>
<line x1="161.28" y1="385.52" x2="167.28" y2="385.52" stroke="#272a82" stroke-width="0.95"/>
<line x1="161.28" y1="396.53" x2="167.28" y2="396.53" stroke="#272a82" stroke-width="0.95"/>
<line x1="167.24" y1="388.31" x2="167.24" y2="399.32" stroke="#272a82" stroke-width="0.95"/>
<line x1="164.24" y1="388.31" x2="170.24" y2="388.31" stroke="#272a82" stroke-width="0.95"/>
<line x1="164.24" y1="399.32" x2="170.24" y2="399.32" stroke="#272a82" stroke-width="0.95"/>
<line x1="170.19" y1="392.12" x2="170.19" y2="403.13" stroke="#272a82" stroke-width="0.95"/>
<line x1="167.19" y1="392.12" x2="173.19" y2="392.12" stroke="#272a82" stroke-width="0.95"/>
<line x1="167.19" y1="403.13" x2="173.19" y2="403.13" stroke="#272a82" stroke-width="0.95"/>
<line x1="173.14" y1="396.89" x2="173.14" y2="407.9" stroke="#272a82" stroke-width="0.95"/>
<line x1="170.14" y1="396.89" x2="176.14" y2="396.89" stroke="#272a82" stroke-width="0.95"/>
<line x1="170.14" y1="407.9" x2="176.14" y2="407.9" stroke="#272a82" stroke-width="0.95"/>
<polyline points="40.3,380.38 43.25,383.32 46.2,384.78 49.16,385.52 52.11,386.25 55.06,386.99 58.01,387.72 60.96,388.82 63.92,390.66 66.87,392.49 69.82,394.33 72.77,395.79 75.72,396.89 78.68,398.36 81.63,399.83 84.58,400.93 87.53,393.59 90.48,380.38 93.44,367.17 96.39,353.96 99.34,342.21 102.29,337.07 105.24,337.07 108.2,338.54 111.15,340.01 114.1,342.95 117.05,345.15 120,348.45 122.96,351.75 125.91,354.69 128.86,357.99 131.81,361.3 134.76,365.41 137.72,369.37 140.67,373.04 143.62,376.34 146.57,379.65 149.52,382.58 152.48,385.52 155.43,386.99 158.38,388.09 161.33,389.55 164.28,391.02 167.24,393.81 170.19,397.63 173.14,402.4" fill="none" stroke="#272a82" stroke-width="1.15"/>
<circle cx="40.3" cy="380.38" r="0.9" fill="#16185a"/>
<circle cx="43.25" cy="383.32" r="0.9" fill="#16185a"/>
<circle cx="46.2" cy="384.78" r="0.9" fill="#16185a"/>
<circle cx="49.16" cy="385.52" r="0.9" fill="#16185a"/>
<circle cx="52.11" cy="386.25" r="0.9" fill="#16185a"/>
<circle cx="55.06" cy="386.99" r="0.9" fill="#16185a"/>
<circle cx="58.01" cy="387.72" r="0.9" fill="#16185a"/>
<circle cx="60.96" cy="388.82" r="0.9" fill="#16185a"/>
<circle cx="63.92" cy="390.66" r="0.9" fill="#16185a"/>
<circle cx="66.87" cy="392.49" r="0.9" fill="#16185a"/>
<circle cx="69.82" cy="394.33" r="0.9" fill="#16185a"/>
<circle cx="72.77" cy="395.79" r="0.9" fill="#16185a"/>
<circle cx="75.72" cy="396.89" r="0.9" fill="#16185a"/>
<circle cx="78.68" cy="398.36" r="0.9" fill="#16185a"/>
<circle cx="81.63" cy="399.83" r="0.9" fill="#16185a"/>
<circle cx="84.58" cy="400.93" r="0.9" fill="#16185a"/>
<circle cx="87.53" cy="393.59" r="0.9" fill="#16185a"/>
<circle cx="90.48" cy="380.38" r="0.9" fill="#16185a"/>
<circle cx="93.44" cy="367.17" r="0.9" fill="#16185a"/>
<circle cx="96.39" cy="353.96" r="0.9" fill="#16185a"/>
<circle cx="99.34" cy="342.21" r="0.9" fill="#16185a"/>
<circle cx="102.29" cy="337.07" r="0.9" fill="#16185a"/>
<circle cx="105.24" cy="337.07" r="0.9" fill="#16185a"/>
<circle cx="108.2" cy="338.54" r="0.9" fill="#16185a"/>
<circle cx="111.15" cy="340.01" r="0.9" fill="#16185a"/>
<circle cx="114.1" cy="342.95" r="0.9" fill="#16185a"/>
<circle cx="117.05" cy="345.15" r="0.9" fill="#16185a"/>
<circle cx="120" cy="348.45" r="0.9" fill="#16185a"/>
<circle cx="122.96" cy="351.75" r="0.9" fill="#16185a"/>
<circle cx="125.91" cy="354.69" r="0.9" fill="#16185a"/>
<circle cx="128.86" cy="357.99" r="0.9" fill="#16185a"/>
<circle cx="131.81" cy="361.3" r="0.9" fill="#16185a"/>
<circle cx="134.76" cy="365.41" r="0.9" fill="#16185a"/>
<circle cx="137.72" cy="369.37" r="0.9" fill="#16185a"/>
<circle cx="140.67" cy="373.04" r="0.9" fill="#16185a"/>
<circle cx="143.62" cy="376.34" r="0.9" fill="#16185a"/>
<circle cx="146.57" cy="379.65" r="0.9" fill="#16185a"/>
<circle cx="149.52" cy="382.58" r="0.9" fill="#16185a"/>
<circle cx="152.48" cy="385.52" r="0.9" fill="#16185a"/>
<circle cx="155.43" cy="386.99" r="0.9" fill="#16185a"/>
<circle cx="158.38" cy="388.09" r="0.9" fill="#16185a"/>
<circle cx="161.33" cy="389.55" r="0.9" fill="#16185a"/>
<circle cx="164.28" cy="391.02" r="0.9" fill="#16185a"/>
<circle cx="167.24" cy="393.81" r="0.9" fill="#16185a"/>
<circle cx="170.19" cy="397.63" r="0.9" fill="#16185a"/>
<circle cx="173.14" cy="402.4" r="0.9" fill="#16185a"/>
<line x1="40.3" y1="383.32" x2="40.3" y2="390.66" stroke="#d4172e" stroke-width="0.95"/>
<line x1="37.3" y1="383.32" x2="43.3" y2="383.32" stroke="#d4172e" stroke-width="0.95"/>
<line x1="37.3" y1="390.66" x2="43.3" y2="390.66" stroke="#d4172e" stroke-width="0.95"/>
<line x1="43.25" y1="384.05" x2="43.25" y2="391.39" stroke="#d4172e" stroke-width="0.95"/>
<line x1="40.25" y1="384.05" x2="46.25" y2="384.05" stroke="#d4172e" stroke-width="0.95"/>
<line x1="40.25" y1="391.39" x2="46.25" y2="391.39" stroke="#d4172e" stroke-width="0.95"/>
<line x1="46.2" y1="384.78" x2="46.2" y2="392.12" stroke="#d4172e" stroke-width="0.95"/>
<line x1="43.2" y1="384.78" x2="49.2" y2="384.78" stroke="#d4172e" stroke-width="0.95"/>
<line x1="43.2" y1="392.12" x2="49.2" y2="392.12" stroke="#d4172e" stroke-width="0.95"/>
<line x1="49.16" y1="385.52" x2="49.16" y2="392.86" stroke="#d4172e" stroke-width="0.95"/>
<line x1="46.16" y1="385.52" x2="52.16" y2="385.52" stroke="#d4172e" stroke-width="0.95"/>
<line x1="46.16" y1="392.86" x2="52.16" y2="392.86" stroke="#d4172e" stroke-width="0.95"/>
<line x1="52.11" y1="386.25" x2="52.11" y2="393.59" stroke="#d4172e" stroke-width="0.95"/>
<line x1="49.11" y1="386.25" x2="55.11" y2="386.25" stroke="#d4172e" stroke-width="0.95"/>
<line x1="49.11" y1="393.59" x2="55.11" y2="393.59" stroke="#d4172e" stroke-width="0.95"/>
<line x1="55.06" y1="387.35" x2="55.06" y2="394.69" stroke="#d4172e" stroke-width="0.95"/>
<line x1="52.06" y1="387.35" x2="58.06" y2="387.35" stroke="#d4172e" stroke-width="0.95"/>
<line x1="52.06" y1="394.69" x2="58.06" y2="394.69" stroke="#d4172e" stroke-width="0.95"/>
<line x1="58.01" y1="388.09" x2="58.01" y2="395.43" stroke="#d4172e" stroke-width="0.95"/>
<line x1="55.01" y1="388.09" x2="61.01" y2="388.09" stroke="#d4172e" stroke-width="0.95"/>
<line x1="55.01" y1="395.43" x2="61.01" y2="395.43" stroke="#d4172e" stroke-width="0.95"/>
<line x1="60.96" y1="388.82" x2="60.96" y2="396.16" stroke="#d4172e" stroke-width="0.95"/>
<line x1="57.96" y1="388.82" x2="63.96" y2="388.82" stroke="#d4172e" stroke-width="0.95"/>
<line x1="57.96" y1="396.16" x2="63.96" y2="396.16" stroke="#d4172e" stroke-width="0.95"/>
<line x1="63.92" y1="389.92" x2="63.92" y2="397.26" stroke="#d4172e" stroke-width="0.95"/>
<line x1="60.92" y1="389.92" x2="66.92" y2="389.92" stroke="#d4172e" stroke-width="0.95"/>
<line x1="60.92" y1="397.26" x2="66.92" y2="397.26" stroke="#d4172e" stroke-width="0.95"/>
<line x1="66.87" y1="391.02" x2="66.87" y2="398.36" stroke="#d4172e" stroke-width="0.95"/>
<line x1="63.87" y1="391.02" x2="69.87" y2="391.02" stroke="#d4172e" stroke-width="0.95"/>
<line x1="63.87" y1="398.36" x2="69.87" y2="398.36" stroke="#d4172e" stroke-width="0.95"/>
<line x1="69.82" y1="392.12" x2="69.82" y2="399.46" stroke="#d4172e" stroke-width="0.95"/>
<line x1="66.82" y1="392.12" x2="72.82" y2="392.12" stroke="#d4172e" stroke-width="0.95"/>
<line x1="66.82" y1="399.46" x2="72.82" y2="399.46" stroke="#d4172e" stroke-width="0.95"/>
<line x1="72.77" y1="393.22" x2="72.77" y2="400.56" stroke="#d4172e" stroke-width="0.95"/>
<line x1="69.77" y1="393.22" x2="75.77" y2="393.22" stroke="#d4172e" stroke-width="0.95"/>
<line x1="69.77" y1="400.56" x2="75.77" y2="400.56" stroke="#d4172e" stroke-width="0.95"/>
<line x1="75.72" y1="394.33" x2="75.72" y2="401.67" stroke="#d4172e" stroke-width="0.95"/>
<line x1="72.72" y1="394.33" x2="78.72" y2="394.33" stroke="#d4172e" stroke-width="0.95"/>
<line x1="72.72" y1="401.67" x2="78.72" y2="401.67" stroke="#d4172e" stroke-width="0.95"/>
<line x1="78.68" y1="395.79" x2="78.68" y2="403.13" stroke="#d4172e" stroke-width="0.95"/>
<line x1="75.68" y1="395.79" x2="81.68" y2="395.79" stroke="#d4172e" stroke-width="0.95"/>
<line x1="75.68" y1="403.13" x2="81.68" y2="403.13" stroke="#d4172e" stroke-width="0.95"/>
<line x1="81.63" y1="397.26" x2="81.63" y2="404.6" stroke="#d4172e" stroke-width="0.95"/>
<line x1="78.63" y1="397.26" x2="84.63" y2="397.26" stroke="#d4172e" stroke-width="0.95"/>
<line x1="78.63" y1="404.6" x2="84.63" y2="404.6" stroke="#d4172e" stroke-width="0.95"/>
<line x1="84.58" y1="398.36" x2="84.58" y2="405.7" stroke="#d4172e" stroke-width="0.95"/>
<line x1="81.58" y1="398.36" x2="87.58" y2="398.36" stroke="#d4172e" stroke-width="0.95"/>
<line x1="81.58" y1="405.7" x2="87.58" y2="405.7" stroke="#d4172e" stroke-width="0.95"/>
<line x1="87.53" y1="395.43" x2="87.53" y2="402.03" stroke="#d4172e" stroke-width="0.95"/>
<line x1="84.53" y1="395.43" x2="90.53" y2="395.43" stroke="#d4172e" stroke-width="0.95"/>
<line x1="84.53" y1="402.03" x2="90.53" y2="402.03" stroke="#d4172e" stroke-width="0.95"/>
<line x1="90.48" y1="391.02" x2="90.48" y2="397.63" stroke="#d4172e" stroke-width="0.95"/>
<line x1="87.48" y1="391.02" x2="93.48" y2="391.02" stroke="#d4172e" stroke-width="0.95"/>
<line x1="87.48" y1="397.63" x2="93.48" y2="397.63" stroke="#d4172e" stroke-width="0.95"/>
<line x1="93.44" y1="385.88" x2="93.44" y2="392.49" stroke="#d4172e" stroke-width="0.95"/>
<line x1="90.44" y1="385.88" x2="96.44" y2="385.88" stroke="#d4172e" stroke-width="0.95"/>
<line x1="90.44" y1="392.49" x2="96.44" y2="392.49" stroke="#d4172e" stroke-width="0.95"/>
<line x1="96.39" y1="380.75" x2="96.39" y2="387.35" stroke="#d4172e" stroke-width="0.95"/>
<line x1="93.39" y1="380.75" x2="99.39" y2="380.75" stroke="#d4172e" stroke-width="0.95"/>
<line x1="93.39" y1="387.35" x2="99.39" y2="387.35" stroke="#d4172e" stroke-width="0.95"/>
<line x1="99.34" y1="376.34" x2="99.34" y2="382.95" stroke="#d4172e" stroke-width="0.95"/>
<line x1="96.34" y1="376.34" x2="102.34" y2="376.34" stroke="#d4172e" stroke-width="0.95"/>
<line x1="96.34" y1="382.95" x2="102.34" y2="382.95" stroke="#d4172e" stroke-width="0.95"/>
<line x1="102.29" y1="374.88" x2="102.29" y2="381.48" stroke="#d4172e" stroke-width="0.95"/>
<line x1="99.29" y1="374.88" x2="105.29" y2="374.88" stroke="#d4172e" stroke-width="0.95"/>
<line x1="99.29" y1="381.48" x2="105.29" y2="381.48" stroke="#d4172e" stroke-width="0.95"/>
<line x1="105.24" y1="377.08" x2="105.24" y2="383.68" stroke="#d4172e" stroke-width="0.95"/>
<line x1="102.24" y1="377.08" x2="108.24" y2="377.08" stroke="#d4172e" stroke-width="0.95"/>
<line x1="102.24" y1="383.68" x2="108.24" y2="383.68" stroke="#d4172e" stroke-width="0.95"/>
<line x1="108.2" y1="380.01" x2="108.2" y2="386.62" stroke="#d4172e" stroke-width="0.95"/>
<line x1="105.2" y1="380.01" x2="111.2" y2="380.01" stroke="#d4172e" stroke-width="0.95"/>
<line x1="105.2" y1="386.62" x2="111.2" y2="386.62" stroke="#d4172e" stroke-width="0.95"/>
<line x1="111.15" y1="383.32" x2="111.15" y2="389.92" stroke="#d4172e" stroke-width="0.95"/>
<line x1="108.15" y1="383.32" x2="114.15" y2="383.32" stroke="#d4172e" stroke-width="0.95"/>
<line x1="108.15" y1="389.92" x2="114.15" y2="389.92" stroke="#d4172e" stroke-width="0.95"/>
<line x1="114.1" y1="385.52" x2="114.1" y2="392.12" stroke="#d4172e" stroke-width="0.95"/>
<line x1="111.1" y1="385.52" x2="117.1" y2="385.52" stroke="#d4172e" stroke-width="0.95"/>
<line x1="111.1" y1="392.12" x2="117.1" y2="392.12" stroke="#d4172e" stroke-width="0.95"/>
<line x1="117.05" y1="387.72" x2="117.05" y2="394.33" stroke="#d4172e" stroke-width="0.95"/>
<line x1="114.05" y1="387.72" x2="120.05" y2="387.72" stroke="#d4172e" stroke-width="0.95"/>
<line x1="114.05" y1="394.33" x2="120.05" y2="394.33" stroke="#d4172e" stroke-width="0.95"/>
<line x1="120" y1="388.97" x2="120" y2="395.57" stroke="#d4172e" stroke-width="0.95"/>
<line x1="117" y1="388.97" x2="123" y2="388.97" stroke="#d4172e" stroke-width="0.95"/>
<line x1="117" y1="395.57" x2="123" y2="395.57" stroke="#d4172e" stroke-width="0.95"/>
<line x1="122.96" y1="389.7" x2="122.96" y2="396.31" stroke="#d4172e" stroke-width="0.95"/>
<line x1="119.96" y1="389.7" x2="125.96" y2="389.7" stroke="#d4172e" stroke-width="0.95"/>
<line x1="119.96" y1="396.31" x2="125.96" y2="396.31" stroke="#d4172e" stroke-width="0.95"/>
<line x1="125.91" y1="390.29" x2="125.91" y2="396.89" stroke="#d4172e" stroke-width="0.95"/>
<line x1="122.91" y1="390.29" x2="128.91" y2="390.29" stroke="#d4172e" stroke-width="0.95"/>
<line x1="122.91" y1="396.89" x2="128.91" y2="396.89" stroke="#d4172e" stroke-width="0.95"/>
<line x1="128.86" y1="390.66" x2="128.86" y2="397.26" stroke="#d4172e" stroke-width="0.95"/>
<line x1="125.86" y1="390.66" x2="131.86" y2="390.66" stroke="#d4172e" stroke-width="0.95"/>
<line x1="125.86" y1="397.26" x2="131.86" y2="397.26" stroke="#d4172e" stroke-width="0.95"/>
<line x1="131.81" y1="390.88" x2="131.81" y2="397.48" stroke="#d4172e" stroke-width="0.95"/>
<line x1="128.81" y1="390.88" x2="134.81" y2="390.88" stroke="#d4172e" stroke-width="0.95"/>
<line x1="128.81" y1="397.48" x2="134.81" y2="397.48" stroke="#d4172e" stroke-width="0.95"/>
<line x1="134.76" y1="391.02" x2="134.76" y2="397.63" stroke="#d4172e" stroke-width="0.95"/>
<line x1="131.76" y1="391.02" x2="137.76" y2="391.02" stroke="#d4172e" stroke-width="0.95"/>
<line x1="131.76" y1="397.63" x2="137.76" y2="397.63" stroke="#d4172e" stroke-width="0.95"/>
<line x1="137.72" y1="391.39" x2="137.72" y2="398" stroke="#d4172e" stroke-width="0.95"/>
<line x1="134.72" y1="391.39" x2="140.72" y2="391.39" stroke="#d4172e" stroke-width="0.95"/>
<line x1="134.72" y1="398" x2="140.72" y2="398" stroke="#d4172e" stroke-width="0.95"/>
<line x1="140.67" y1="391.76" x2="140.67" y2="398.36" stroke="#d4172e" stroke-width="0.95"/>
<line x1="137.67" y1="391.76" x2="143.67" y2="391.76" stroke="#d4172e" stroke-width="0.95"/>
<line x1="137.67" y1="398.36" x2="143.67" y2="398.36" stroke="#d4172e" stroke-width="0.95"/>
<line x1="143.62" y1="392.86" x2="143.62" y2="399.46" stroke="#d4172e" stroke-width="0.95"/>
<line x1="140.62" y1="392.86" x2="146.62" y2="392.86" stroke="#d4172e" stroke-width="0.95"/>
<line x1="140.62" y1="399.46" x2="146.62" y2="399.46" stroke="#d4172e" stroke-width="0.95"/>
<line x1="146.57" y1="394.69" x2="146.57" y2="401.3" stroke="#d4172e" stroke-width="0.95"/>
<line x1="143.57" y1="394.69" x2="149.57" y2="394.69" stroke="#d4172e" stroke-width="0.95"/>
<line x1="143.57" y1="401.3" x2="149.57" y2="401.3" stroke="#d4172e" stroke-width="0.95"/>
<line x1="149.52" y1="397.63" x2="149.52" y2="404.23" stroke="#d4172e" stroke-width="0.95"/>
<line x1="146.52" y1="397.63" x2="152.52" y2="397.63" stroke="#d4172e" stroke-width="0.95"/>
<line x1="146.52" y1="404.23" x2="152.52" y2="404.23" stroke="#d4172e" stroke-width="0.95"/>
<line x1="152.48" y1="400.56" x2="152.48" y2="407.17" stroke="#d4172e" stroke-width="0.95"/>
<line x1="149.48" y1="400.56" x2="155.48" y2="400.56" stroke="#d4172e" stroke-width="0.95"/>
<line x1="149.48" y1="407.17" x2="155.48" y2="407.17" stroke="#d4172e" stroke-width="0.95"/>
<line x1="155.43" y1="403.5" x2="155.43" y2="410.11" stroke="#d4172e" stroke-width="0.95"/>
<line x1="152.43" y1="403.5" x2="158.43" y2="403.5" stroke="#d4172e" stroke-width="0.95"/>
<line x1="152.43" y1="410.11" x2="158.43" y2="410.11" stroke="#d4172e" stroke-width="0.95"/>
<line x1="158.38" y1="406.44" x2="158.38" y2="413.04" stroke="#d4172e" stroke-width="0.95"/>
<line x1="155.38" y1="406.44" x2="161.38" y2="406.44" stroke="#d4172e" stroke-width="0.95"/>
<line x1="155.38" y1="413.04" x2="161.38" y2="413.04" stroke="#d4172e" stroke-width="0.95"/>
<line x1="161.33" y1="407.54" x2="161.33" y2="414.14" stroke="#d4172e" stroke-width="0.95"/>
<line x1="158.33" y1="407.54" x2="164.33" y2="407.54" stroke="#d4172e" stroke-width="0.95"/>
<line x1="158.33" y1="414.14" x2="164.33" y2="414.14" stroke="#d4172e" stroke-width="0.95"/>
<line x1="164.28" y1="407.9" x2="164.28" y2="414.51" stroke="#d4172e" stroke-width="0.95"/>
<line x1="161.28" y1="407.9" x2="167.28" y2="407.9" stroke="#d4172e" stroke-width="0.95"/>
<line x1="161.28" y1="414.51" x2="167.28" y2="414.51" stroke="#d4172e" stroke-width="0.95"/>
<line x1="167.24" y1="408.2" x2="167.24" y2="414.8" stroke="#d4172e" stroke-width="0.95"/>
<line x1="164.24" y1="408.2" x2="170.24" y2="408.2" stroke="#d4172e" stroke-width="0.95"/>
<line x1="164.24" y1="414.8" x2="170.24" y2="414.8" stroke="#d4172e" stroke-width="0.95"/>
<line x1="170.19" y1="408.2" x2="170.19" y2="414.8" stroke="#d4172e" stroke-width="0.95"/>
<line x1="167.19" y1="408.2" x2="173.19" y2="408.2" stroke="#d4172e" stroke-width="0.95"/>
<line x1="167.19" y1="414.8" x2="173.19" y2="414.8" stroke="#d4172e" stroke-width="0.95"/>
<line x1="173.14" y1="406.8" x2="173.14" y2="413.41" stroke="#d4172e" stroke-width="0.95"/>
<line x1="170.14" y1="406.8" x2="176.14" y2="406.8" stroke="#d4172e" stroke-width="0.95"/>
<line x1="170.14" y1="413.41" x2="176.14" y2="413.41" stroke="#d4172e" stroke-width="0.95"/>
<polyline points="40.3,386.99 43.25,387.72 46.2,388.45 49.16,389.19 52.11,389.92 55.06,391.02 58.01,391.76 60.96,392.49 63.92,393.59 66.87,394.69 69.82,395.79 72.77,396.89 75.72,398 78.68,399.46 81.63,400.93 84.58,402.03 87.53,398.73 90.48,394.33 93.44,389.19 96.39,384.05 99.34,379.65 102.29,378.18 105.24,380.38 108.2,383.32 111.15,386.62 114.1,388.82 117.05,391.02 120,392.27 122.96,393 125.91,393.59 128.86,393.96 131.81,394.18 134.76,394.33 137.72,394.69 140.67,395.06 143.62,396.16 146.57,398 149.52,400.93 152.48,403.87 155.43,406.8 158.38,409.74 161.33,410.84 164.28,411.21 167.24,411.5 170.19,411.5 173.14,410.11" fill="none" stroke="#d4172e" stroke-width="1.15"/>
<circle cx="40.3" cy="386.99" r="0.9" fill="#8c0a1c"/>
<circle cx="43.25" cy="387.72" r="0.9" fill="#8c0a1c"/>
<circle cx="46.2" cy="388.45" r="0.9" fill="#8c0a1c"/>
<circle cx="49.16" cy="389.19" r="0.9" fill="#8c0a1c"/>
<circle cx="52.11" cy="389.92" r="0.9" fill="#8c0a1c"/>
<circle cx="55.06" cy="391.02" r="0.9" fill="#8c0a1c"/>
<circle cx="58.01" cy="391.76" r="0.9" fill="#8c0a1c"/>
<circle cx="60.96" cy="392.49" r="0.9" fill="#8c0a1c"/>
<circle cx="63.92" cy="393.59" r="0.9" fill="#8c0a1c"/>
<circle cx="66.87" cy="394.69" r="0.9" fill="#8c0a1c"/>
<circle cx="69.82" cy="395.79" r="0.9" fill="#8c0a1c"/>
<circle cx="72.77" cy="396.89" r="0.9" fill="#8c0a1c"/>
<circle cx="75.72" cy="398" r="0.9" fill="#8c0a1c"/>
<circle cx="78.68" cy="399.46" r="0.9" fill="#8c0a1c"/>
<circle cx="81.63" cy="400.93" r="0.9" fill="#8c0a1c"/>
<circle cx="84.58" cy="402.03" r="0.9" fill="#8c0a1c"/>
<circle cx="87.53" cy="398.73" r="0.9" fill="#8c0a1c"/>
<circle cx="90.48" cy="394.33" r="0.9" fill="#8c0a1c"/>
<circle cx="93.44" cy="389.19" r="0.9" fill="#8c0a1c"/>
<circle cx="96.39" cy="384.05" r="0.9" fill="#8c0a1c"/>
<circle cx="99.34" cy="379.65" r="0.9" fill="#8c0a1c"/>
<circle cx="102.29" cy="378.18" r="0.9" fill="#8c0a1c"/>
<circle cx="105.24" cy="380.38" r="0.9" fill="#8c0a1c"/>
<circle cx="108.2" cy="383.32" r="0.9" fill="#8c0a1c"/>
<circle cx="111.15" cy="386.62" r="0.9" fill="#8c0a1c"/>
<circle cx="114.1" cy="388.82" r="0.9" fill="#8c0a1c"/>
<circle cx="117.05" cy="391.02" r="0.9" fill="#8c0a1c"/>
<circle cx="120" cy="392.27" r="0.9" fill="#8c0a1c"/>
<circle cx="122.96" cy="393" r="0.9" fill="#8c0a1c"/>
<circle cx="125.91" cy="393.59" r="0.9" fill="#8c0a1c"/>
<circle cx="128.86" cy="393.96" r="0.9" fill="#8c0a1c"/>
<circle cx="131.81" cy="394.18" r="0.9" fill="#8c0a1c"/>
<circle cx="134.76" cy="394.33" r="0.9" fill="#8c0a1c"/>
<circle cx="137.72" cy="394.69" r="0.9" fill="#8c0a1c"/>
<circle cx="140.67" cy="395.06" r="0.9" fill="#8c0a1c"/>
<circle cx="143.62" cy="396.16" r="0.9" fill="#8c0a1c"/>
<circle cx="146.57" cy="398" r="0.9" fill="#8c0a1c"/>
<circle cx="149.52" cy="400.93" r="0.9" fill="#8c0a1c"/>
<circle cx="152.48" cy="403.87" r="0.9" fill="#8c0a1c"/>
<circle cx="155.43" cy="406.8" r="0.9" fill="#8c0a1c"/>
<circle cx="158.38" cy="409.74" r="0.9" fill="#8c0a1c"/>
<circle cx="161.33" cy="410.84" r="0.9" fill="#8c0a1c"/>
<circle cx="164.28" cy="411.21" r="0.9" fill="#8c0a1c"/>
<circle cx="167.24" cy="411.5" r="0.9" fill="#8c0a1c"/>
<circle cx="170.19" cy="411.5" r="0.9" fill="#8c0a1c"/>
<circle cx="173.14" cy="410.11" r="0.9" fill="#8c0a1c"/>
<text x="5.8" y="462.6" font-size="10.2" text-anchor="start" font-weight="bold" fill="#111">D</text>
<line x1="40" y1="465.05" x2="40" y2="567.1" stroke="#262626" stroke-width="1.1"/>
<line x1="35.6" y1="567.04" x2="40" y2="567.04" stroke="#262626" stroke-width="1.1"/>
<text x="33" y="570.06" font-size="8.4" text-anchor="end" font-weight="normal" fill="#1a1a1a">-2</text>
<line x1="35.6" y1="552.47" x2="40" y2="552.47" stroke="#262626" stroke-width="1.1"/>
<text x="33" y="555.49" font-size="8.4" text-anchor="end" font-weight="normal" fill="#1a1a1a">-1</text>
<line x1="35.6" y1="537.9" x2="40" y2="537.9" stroke="#262626" stroke-width="1.1"/>
<text x="33" y="540.92" font-size="8.4" text-anchor="end" font-weight="normal" fill="#1a1a1a">0</text>
<line x1="35.6" y1="523.33" x2="40" y2="523.33" stroke="#262626" stroke-width="1.1"/>
<text x="33" y="526.35" font-size="8.4" text-anchor="end" font-weight="normal" fill="#1a1a1a">1</text>
<line x1="35.6" y1="508.76" x2="40" y2="508.76" stroke="#262626" stroke-width="1.1"/>
<text x="33" y="511.78" font-size="8.4" text-anchor="end" font-weight="normal" fill="#1a1a1a">2</text>
<line x1="35.6" y1="494.19" x2="40" y2="494.19" stroke="#262626" stroke-width="1.1"/>
<text x="33" y="497.21" font-size="8.4" text-anchor="end" font-weight="normal" fill="#1a1a1a">3</text>
<line x1="35.6" y1="479.62" x2="40" y2="479.62" stroke="#262626" stroke-width="1.1"/>
<text x="33" y="482.64" font-size="8.4" text-anchor="end" font-weight="normal" fill="#1a1a1a">4</text>
<line x1="35.6" y1="465.05" x2="40" y2="465.05" stroke="#262626" stroke-width="1.1"/>
<text x="33" y="468.07" font-size="8.4" text-anchor="end" font-weight="normal" fill="#1a1a1a">5</text>
<line x1="40" y1="567.1" x2="177.16" y2="567.1" stroke="#262626" stroke-width="1.1"/>
<line x1="40" y1="567.1" x2="40" y2="571.1" stroke="#262626" stroke-width="1.1"/>
<line x1="55.24" y1="567.1" x2="55.24" y2="571.1" stroke="#262626" stroke-width="1.1"/>
<line x1="70.48" y1="567.1" x2="70.48" y2="571.1" stroke="#262626" stroke-width="1.1"/>
<line x1="85.72" y1="567.1" x2="85.72" y2="571.1" stroke="#262626" stroke-width="1.1"/>
<line x1="100.96" y1="567.1" x2="100.96" y2="571.1" stroke="#262626" stroke-width="1.1"/>
<line x1="116.2" y1="567.1" x2="116.2" y2="571.1" stroke="#262626" stroke-width="1.1"/>
<line x1="131.44" y1="567.1" x2="131.44" y2="571.1" stroke="#262626" stroke-width="1.1"/>
<line x1="146.68" y1="567.1" x2="146.68" y2="571.1" stroke="#262626" stroke-width="1.1"/>
<line x1="161.92" y1="567.1" x2="161.92" y2="571.1" stroke="#262626" stroke-width="1.1"/>
<line x1="177.16" y1="567.1" x2="177.16" y2="571.1" stroke="#262626" stroke-width="1.1"/>
<text x="40" y="580.6" font-size="8.4" text-anchor="middle" font-weight="normal" fill="#1a1a1a">0</text>
<text x="55.24" y="580.6" font-size="8.4" text-anchor="middle" font-weight="normal" fill="#1a1a1a">1</text>
<text x="70.48" y="580.6" font-size="8.4" text-anchor="middle" font-weight="normal" fill="#1a1a1a">2</text>
<text x="85.72" y="580.6" font-size="8.4" text-anchor="middle" font-weight="normal" fill="#1a1a1a">3</text>
<text x="100.96" y="580.6" font-size="8.4" text-anchor="middle" font-weight="normal" fill="#1a1a1a">4</text>
<text x="116.2" y="580.6" font-size="8.4" text-anchor="middle" font-weight="normal" fill="#1a1a1a">5</text>
<text x="131.44" y="580.6" font-size="8.4" text-anchor="middle" font-weight="normal" fill="#1a1a1a">6</text>
<text x="146.68" y="580.6" font-size="8.4" text-anchor="middle" font-weight="normal" fill="#1a1a1a">7</text>
<text x="161.92" y="580.6" font-size="8.4" text-anchor="middle" font-weight="normal" fill="#1a1a1a">8</text>
<text x="177.16" y="580.6" font-size="8.4" text-anchor="middle" font-weight="normal" fill="#1a1a1a">9</text>
<text x="108.58" y="591.3" font-size="8.8" text-anchor="middle" font-weight="normal" fill="#1a1a1a">Time (Second)</text>
<rect x="86.02" y="560.5" width="46.12" height="2.6" fill="#111"/>
<text x="93.12" y="558.1" font-size="7.0" text-anchor="start" font-weight="normal" fill="#1a1a1a">Oct (CS-)</text>
<line x1="133.8" y1="468.2" x2="152" y2="468.2" stroke="#272a82" stroke-width="1.0"/>
<line x1="133.8" y1="475.7" x2="152" y2="475.7" stroke="#d4172e" stroke-width="1.0"/>
<circle cx="142.9" cy="468.2" r="1.2" fill="#1c1f6e"/>
<circle cx="142.9" cy="475.7" r="1.2" fill="#a01010"/>
<text x="154" y="470.7" font-size="7.0" text-anchor="start" font-weight="normal" fill="#1a1a1a">No RU486</text>
<text x="154" y="478.2" font-size="7.0" text-anchor="start" font-weight="normal" fill="#1a1a1a">RU486</text>
<text transform="translate(22.3,516.7) rotate(-90)" x="0" y="0" font-size="8.8" text-anchor="middle" fill="#1a1a1a">%ΔF/F<tspan font-size="6.3" dy="0.5">0</tspan></text>
<line x1="40" y1="523.62" x2="40" y2="541.11" stroke="#272a82" stroke-width="0.95"/>
<line x1="37" y1="523.62" x2="43" y2="523.62" stroke="#272a82" stroke-width="0.95"/>
<line x1="37" y1="541.11" x2="43" y2="541.11" stroke="#272a82" stroke-width="0.95"/>
<line x1="43.05" y1="523.04" x2="43.05" y2="537.61" stroke="#272a82" stroke-width="0.95"/>
<line x1="40.05" y1="523.04" x2="46.05" y2="523.04" stroke="#272a82" stroke-width="0.95"/>
<line x1="40.05" y1="537.61" x2="46.05" y2="537.61" stroke="#272a82" stroke-width="0.95"/>
<line x1="46.1" y1="523.18" x2="46.1" y2="536.3" stroke="#272a82" stroke-width="0.95"/>
<line x1="43.1" y1="523.18" x2="49.1" y2="523.18" stroke="#272a82" stroke-width="0.95"/>
<line x1="43.1" y1="536.3" x2="49.1" y2="536.3" stroke="#272a82" stroke-width="0.95"/>
<line x1="49.14" y1="521.87" x2="49.14" y2="534.99" stroke="#272a82" stroke-width="0.95"/>
<line x1="46.14" y1="521.87" x2="52.14" y2="521.87" stroke="#272a82" stroke-width="0.95"/>
<line x1="46.14" y1="534.99" x2="52.14" y2="534.99" stroke="#272a82" stroke-width="0.95"/>
<line x1="52.19" y1="520.56" x2="52.19" y2="533.67" stroke="#272a82" stroke-width="0.95"/>
<line x1="49.19" y1="520.56" x2="55.19" y2="520.56" stroke="#272a82" stroke-width="0.95"/>
<line x1="49.19" y1="533.67" x2="55.19" y2="533.67" stroke="#272a82" stroke-width="0.95"/>
<line x1="55.24" y1="518.81" x2="55.24" y2="531.93" stroke="#272a82" stroke-width="0.95"/>
<line x1="52.24" y1="518.81" x2="58.24" y2="518.81" stroke="#272a82" stroke-width="0.95"/>
<line x1="52.24" y1="531.93" x2="58.24" y2="531.93" stroke="#272a82" stroke-width="0.95"/>
<line x1="58.29" y1="519.98" x2="58.29" y2="533.09" stroke="#272a82" stroke-width="0.95"/>
<line x1="55.29" y1="519.98" x2="61.29" y2="519.98" stroke="#272a82" stroke-width="0.95"/>
<line x1="55.29" y1="533.09" x2="61.29" y2="533.09" stroke="#272a82" stroke-width="0.95"/>
<line x1="61.34" y1="521.29" x2="61.34" y2="534.4" stroke="#272a82" stroke-width="0.95"/>
<line x1="58.34" y1="521.29" x2="64.34" y2="521.29" stroke="#272a82" stroke-width="0.95"/>
<line x1="58.34" y1="534.4" x2="64.34" y2="534.4" stroke="#272a82" stroke-width="0.95"/>
<line x1="64.38" y1="523.18" x2="64.38" y2="536.3" stroke="#272a82" stroke-width="0.95"/>
<line x1="61.38" y1="523.18" x2="67.38" y2="523.18" stroke="#272a82" stroke-width="0.95"/>
<line x1="61.38" y1="536.3" x2="67.38" y2="536.3" stroke="#272a82" stroke-width="0.95"/>
<line x1="67.43" y1="523.18" x2="67.43" y2="536.3" stroke="#272a82" stroke-width="0.95"/>
<line x1="64.43" y1="523.18" x2="70.43" y2="523.18" stroke="#272a82" stroke-width="0.95"/>
<line x1="64.43" y1="536.3" x2="70.43" y2="536.3" stroke="#272a82" stroke-width="0.95"/>
<line x1="70.48" y1="522.6" x2="70.48" y2="535.71" stroke="#272a82" stroke-width="0.95"/>
<line x1="67.48" y1="522.6" x2="73.48" y2="522.6" stroke="#272a82" stroke-width="0.95"/>
<line x1="67.48" y1="535.71" x2="73.48" y2="535.71" stroke="#272a82" stroke-width="0.95"/>
<line x1="73.53" y1="521.87" x2="73.53" y2="534.99" stroke="#272a82" stroke-width="0.95"/>
<line x1="70.53" y1="521.87" x2="76.53" y2="521.87" stroke="#272a82" stroke-width="0.95"/>
<line x1="70.53" y1="534.99" x2="76.53" y2="534.99" stroke="#272a82" stroke-width="0.95"/>
<line x1="76.58" y1="520.56" x2="76.58" y2="533.67" stroke="#272a82" stroke-width="0.95"/>
<line x1="73.58" y1="520.56" x2="79.58" y2="520.56" stroke="#272a82" stroke-width="0.95"/>
<line x1="73.58" y1="533.67" x2="79.58" y2="533.67" stroke="#272a82" stroke-width="0.95"/>
<line x1="79.62" y1="519.98" x2="79.62" y2="533.09" stroke="#272a82" stroke-width="0.95"/>
<line x1="76.62" y1="519.98" x2="82.62" y2="519.98" stroke="#272a82" stroke-width="0.95"/>
<line x1="76.62" y1="533.09" x2="82.62" y2="533.09" stroke="#272a82" stroke-width="0.95"/>
<line x1="82.67" y1="520.56" x2="82.67" y2="533.67" stroke="#272a82" stroke-width="0.95"/>
<line x1="79.67" y1="520.56" x2="85.67" y2="520.56" stroke="#272a82" stroke-width="0.95"/>
<line x1="79.67" y1="533.67" x2="85.67" y2="533.67" stroke="#272a82" stroke-width="0.95"/>
<line x1="85.72" y1="522.6" x2="85.72" y2="535.71" stroke="#272a82" stroke-width="0.95"/>
<line x1="82.72" y1="522.6" x2="88.72" y2="522.6" stroke="#272a82" stroke-width="0.95"/>
<line x1="82.72" y1="535.71" x2="88.72" y2="535.71" stroke="#272a82" stroke-width="0.95"/>
<line x1="88.77" y1="519.69" x2="88.77" y2="532.8" stroke="#272a82" stroke-width="0.95"/>
<line x1="85.77" y1="519.69" x2="91.77" y2="519.69" stroke="#272a82" stroke-width="0.95"/>
<line x1="85.77" y1="532.8" x2="91.77" y2="532.8" stroke="#272a82" stroke-width="0.95"/>
<line x1="91.82" y1="512.4" x2="91.82" y2="525.52" stroke="#272a82" stroke-width="0.95"/>
<line x1="88.82" y1="512.4" x2="94.82" y2="512.4" stroke="#272a82" stroke-width="0.95"/>
<line x1="88.82" y1="525.52" x2="94.82" y2="525.52" stroke="#272a82" stroke-width="0.95"/>
<line x1="94.86" y1="502.2" x2="94.86" y2="515.32" stroke="#272a82" stroke-width="0.95"/>
<line x1="91.86" y1="502.2" x2="97.86" y2="502.2" stroke="#272a82" stroke-width="0.95"/>
<line x1="91.86" y1="515.32" x2="97.86" y2="515.32" stroke="#272a82" stroke-width="0.95"/>
<line x1="97.91" y1="490.55" x2="97.91" y2="503.66" stroke="#272a82" stroke-width="0.95"/>
<line x1="94.91" y1="490.55" x2="100.91" y2="490.55" stroke="#272a82" stroke-width="0.95"/>
<line x1="94.91" y1="503.66" x2="100.91" y2="503.66" stroke="#272a82" stroke-width="0.95"/>
<line x1="100.96" y1="478.89" x2="100.96" y2="492" stroke="#272a82" stroke-width="0.95"/>
<line x1="97.96" y1="478.89" x2="103.96" y2="478.89" stroke="#272a82" stroke-width="0.95"/>
<line x1="97.96" y1="492" x2="103.96" y2="492" stroke="#272a82" stroke-width="0.95"/>
<line x1="104.01" y1="473.06" x2="104.01" y2="486.18" stroke="#272a82" stroke-width="0.95"/>
<line x1="101.01" y1="473.06" x2="107.01" y2="473.06" stroke="#272a82" stroke-width="0.95"/>
<line x1="101.01" y1="486.18" x2="107.01" y2="486.18" stroke="#272a82" stroke-width="0.95"/>
<line x1="107.06" y1="471.61" x2="107.06" y2="484.72" stroke="#272a82" stroke-width="0.95"/>
<line x1="104.06" y1="471.61" x2="110.06" y2="471.61" stroke="#272a82" stroke-width="0.95"/>
<line x1="104.06" y1="484.72" x2="110.06" y2="484.72" stroke="#272a82" stroke-width="0.95"/>
<line x1="110.1" y1="472.33" x2="110.1" y2="485.45" stroke="#272a82" stroke-width="0.95"/>
<line x1="107.1" y1="472.33" x2="113.1" y2="472.33" stroke="#272a82" stroke-width="0.95"/>
<line x1="107.1" y1="485.45" x2="113.1" y2="485.45" stroke="#272a82" stroke-width="0.95"/>
<line x1="113.15" y1="474.52" x2="113.15" y2="487.63" stroke="#272a82" stroke-width="0.95"/>
<line x1="110.15" y1="474.52" x2="116.15" y2="474.52" stroke="#272a82" stroke-width="0.95"/>
<line x1="110.15" y1="487.63" x2="116.15" y2="487.63" stroke="#272a82" stroke-width="0.95"/>
<line x1="116.2" y1="478.89" x2="116.2" y2="492" stroke="#272a82" stroke-width="0.95"/>
<line x1="113.2" y1="478.89" x2="119.2" y2="478.89" stroke="#272a82" stroke-width="0.95"/>
<line x1="113.2" y1="492" x2="119.2" y2="492" stroke="#272a82" stroke-width="0.95"/>
<line x1="119.25" y1="483.99" x2="119.25" y2="497.1" stroke="#272a82" stroke-width="0.95"/>
<line x1="116.25" y1="483.99" x2="122.25" y2="483.99" stroke="#272a82" stroke-width="0.95"/>
<line x1="116.25" y1="497.1" x2="122.25" y2="497.1" stroke="#272a82" stroke-width="0.95"/>
<line x1="122.3" y1="490.55" x2="122.3" y2="503.66" stroke="#272a82" stroke-width="0.95"/>
<line x1="119.3" y1="490.55" x2="125.3" y2="490.55" stroke="#272a82" stroke-width="0.95"/>
<line x1="119.3" y1="503.66" x2="125.3" y2="503.66" stroke="#272a82" stroke-width="0.95"/>
<line x1="125.34" y1="498.56" x2="125.34" y2="511.67" stroke="#272a82" stroke-width="0.95"/>
<line x1="122.34" y1="498.56" x2="128.34" y2="498.56" stroke="#272a82" stroke-width="0.95"/>
<line x1="122.34" y1="511.67" x2="128.34" y2="511.67" stroke="#272a82" stroke-width="0.95"/>
<line x1="128.39" y1="507.01" x2="128.39" y2="520.12" stroke="#272a82" stroke-width="0.95"/>
<line x1="125.39" y1="507.01" x2="131.39" y2="507.01" stroke="#272a82" stroke-width="0.95"/>
<line x1="125.39" y1="520.12" x2="131.39" y2="520.12" stroke="#272a82" stroke-width="0.95"/>
<line x1="131.44" y1="513.86" x2="131.44" y2="526.97" stroke="#272a82" stroke-width="0.95"/>
<line x1="128.44" y1="513.86" x2="134.44" y2="513.86" stroke="#272a82" stroke-width="0.95"/>
<line x1="128.44" y1="526.97" x2="134.44" y2="526.97" stroke="#272a82" stroke-width="0.95"/>
<line x1="134.49" y1="520.12" x2="134.49" y2="533.24" stroke="#272a82" stroke-width="0.95"/>
<line x1="131.49" y1="520.12" x2="137.49" y2="520.12" stroke="#272a82" stroke-width="0.95"/>
<line x1="131.49" y1="533.24" x2="137.49" y2="533.24" stroke="#272a82" stroke-width="0.95"/>
<line x1="137.54" y1="528.43" x2="137.54" y2="541.54" stroke="#272a82" stroke-width="0.95"/>
<line x1="134.54" y1="528.43" x2="140.54" y2="528.43" stroke="#272a82" stroke-width="0.95"/>
<line x1="134.54" y1="541.54" x2="140.54" y2="541.54" stroke="#272a82" stroke-width="0.95"/>
<line x1="140.58" y1="531.34" x2="140.58" y2="544.46" stroke="#272a82" stroke-width="0.95"/>
<line x1="137.58" y1="531.34" x2="143.58" y2="531.34" stroke="#272a82" stroke-width="0.95"/>
<line x1="137.58" y1="544.46" x2="143.58" y2="544.46" stroke="#272a82" stroke-width="0.95"/>
<line x1="143.63" y1="533.53" x2="143.63" y2="546.64" stroke="#272a82" stroke-width="0.95"/>
<line x1="140.63" y1="533.53" x2="146.63" y2="533.53" stroke="#272a82" stroke-width="0.95"/>
<line x1="140.63" y1="546.64" x2="146.63" y2="546.64" stroke="#272a82" stroke-width="0.95"/>
<line x1="146.68" y1="534.99" x2="146.68" y2="548.1" stroke="#272a82" stroke-width="0.95"/>
<line x1="143.68" y1="534.99" x2="149.68" y2="534.99" stroke="#272a82" stroke-width="0.95"/>
<line x1="143.68" y1="548.1" x2="149.68" y2="548.1" stroke="#272a82" stroke-width="0.95"/>
<line x1="149.73" y1="536.01" x2="149.73" y2="549.12" stroke="#272a82" stroke-width="0.95"/>
<line x1="146.73" y1="536.01" x2="152.73" y2="536.01" stroke="#272a82" stroke-width="0.95"/>
<line x1="146.73" y1="549.12" x2="152.73" y2="549.12" stroke="#272a82" stroke-width="0.95"/>
<line x1="152.78" y1="536.88" x2="152.78" y2="549.99" stroke="#272a82" stroke-width="0.95"/>
<line x1="149.78" y1="536.88" x2="155.78" y2="536.88" stroke="#272a82" stroke-width="0.95"/>
<line x1="149.78" y1="549.99" x2="155.78" y2="549.99" stroke="#272a82" stroke-width="0.95"/>
<line x1="155.82" y1="537.9" x2="155.82" y2="551.01" stroke="#272a82" stroke-width="0.95"/>
<line x1="152.82" y1="537.9" x2="158.82" y2="537.9" stroke="#272a82" stroke-width="0.95"/>
<line x1="152.82" y1="551.01" x2="158.82" y2="551.01" stroke="#272a82" stroke-width="0.95"/>
<line x1="158.87" y1="538.92" x2="158.87" y2="552.03" stroke="#272a82" stroke-width="0.95"/>
<line x1="155.87" y1="538.92" x2="161.87" y2="538.92" stroke="#272a82" stroke-width="0.95"/>
<line x1="155.87" y1="552.03" x2="161.87" y2="552.03" stroke="#272a82" stroke-width="0.95"/>
<line x1="161.92" y1="539.79" x2="161.92" y2="552.91" stroke="#272a82" stroke-width="0.95"/>
<line x1="158.92" y1="539.79" x2="164.92" y2="539.79" stroke="#272a82" stroke-width="0.95"/>
<line x1="158.92" y1="552.91" x2="164.92" y2="552.91" stroke="#272a82" stroke-width="0.95"/>
<line x1="164.97" y1="540.52" x2="164.97" y2="553.64" stroke="#272a82" stroke-width="0.95"/>
<line x1="161.97" y1="540.52" x2="167.97" y2="540.52" stroke="#272a82" stroke-width="0.95"/>
<line x1="161.97" y1="553.64" x2="167.97" y2="553.64" stroke="#272a82" stroke-width="0.95"/>
<line x1="168.02" y1="541.25" x2="168.02" y2="554.36" stroke="#272a82" stroke-width="0.95"/>
<line x1="165.02" y1="541.25" x2="171.02" y2="541.25" stroke="#272a82" stroke-width="0.95"/>
<line x1="165.02" y1="554.36" x2="171.02" y2="554.36" stroke="#272a82" stroke-width="0.95"/>
<line x1="171.06" y1="541.98" x2="171.06" y2="555.09" stroke="#272a82" stroke-width="0.95"/>
<line x1="168.06" y1="541.98" x2="174.06" y2="541.98" stroke="#272a82" stroke-width="0.95"/>
<line x1="168.06" y1="555.09" x2="174.06" y2="555.09" stroke="#272a82" stroke-width="0.95"/>
<line x1="174.11" y1="543" x2="174.11" y2="556.11" stroke="#272a82" stroke-width="0.95"/>
<line x1="171.11" y1="543" x2="177.11" y2="543" stroke="#272a82" stroke-width="0.95"/>
<line x1="171.11" y1="556.11" x2="177.11" y2="556.11" stroke="#272a82" stroke-width="0.95"/>
<line x1="177.16" y1="543.73" x2="177.16" y2="556.84" stroke="#272a82" stroke-width="0.95"/>
<line x1="174.16" y1="543.73" x2="180.16" y2="543.73" stroke="#272a82" stroke-width="0.95"/>
<line x1="174.16" y1="556.84" x2="180.16" y2="556.84" stroke="#272a82" stroke-width="0.95"/>
<polyline points="40,532.36 43.05,530.32 46.1,529.74 49.14,528.43 52.19,527.12 55.24,525.37 58.29,526.54 61.34,527.85 64.38,529.74 67.43,529.74 70.48,529.16 73.53,528.43 76.58,527.12 79.62,526.54 82.67,527.12 85.72,529.16 88.77,526.24 91.82,518.96 94.86,508.76 97.91,497.1 100.96,485.45 104.01,479.62 107.06,478.16 110.1,478.89 113.15,481.08 116.2,485.45 119.25,490.55 122.3,497.1 125.34,505.12 128.39,513.57 131.44,520.42 134.49,526.68 137.54,534.99 140.58,537.9 143.63,540.09 146.68,541.54 149.73,542.56 152.78,543.44 155.82,544.46 158.87,545.48 161.92,546.35 164.97,547.08 168.02,547.81 171.06,548.54 174.11,549.56 177.16,550.28" fill="none" stroke="#272a82" stroke-width="1.15"/>
<circle cx="40" cy="532.36" r="0.9" fill="#16185a"/>
<circle cx="43.05" cy="530.32" r="0.9" fill="#16185a"/>
<circle cx="46.1" cy="529.74" r="0.9" fill="#16185a"/>
<circle cx="49.14" cy="528.43" r="0.9" fill="#16185a"/>
<circle cx="52.19" cy="527.12" r="0.9" fill="#16185a"/>
<circle cx="55.24" cy="525.37" r="0.9" fill="#16185a"/>
<circle cx="58.29" cy="526.54" r="0.9" fill="#16185a"/>
<circle cx="61.34" cy="527.85" r="0.9" fill="#16185a"/>
<circle cx="64.38" cy="529.74" r="0.9" fill="#16185a"/>
<circle cx="67.43" cy="529.74" r="0.9" fill="#16185a"/>
<circle cx="70.48" cy="529.16" r="0.9" fill="#16185a"/>
<circle cx="73.53" cy="528.43" r="0.9" fill="#16185a"/>
<circle cx="76.58" cy="527.12" r="0.9" fill="#16185a"/>
<circle cx="79.62" cy="526.54" r="0.9" fill="#16185a"/>
<circle cx="82.67" cy="527.12" r="0.9" fill="#16185a"/>
<circle cx="85.72" cy="529.16" r="0.9" fill="#16185a"/>
<circle cx="88.77" cy="526.24" r="0.9" fill="#16185a"/>
<circle cx="91.82" cy="518.96" r="0.9" fill="#16185a"/>
<circle cx="94.86" cy="508.76" r="0.9" fill="#16185a"/>
<circle cx="97.91" cy="497.1" r="0.9" fill="#16185a"/>
<circle cx="100.96" cy="485.45" r="0.9" fill="#16185a"/>
<circle cx="104.01" cy="479.62" r="0.9" fill="#16185a"/>
<circle cx="107.06" cy="478.16" r="0.9" fill="#16185a"/>
<circle cx="110.1" cy="478.89" r="0.9" fill="#16185a"/>
<circle cx="113.15" cy="481.08" r="0.9" fill="#16185a"/>
<circle cx="116.2" cy="485.45" r="0.9" fill="#16185a"/>
<circle cx="119.25" cy="490.55" r="0.9" fill="#16185a"/>
<circle cx="122.3" cy="497.1" r="0.9" fill="#16185a"/>
<circle cx="125.34" cy="505.12" r="0.9" fill="#16185a"/>
<circle cx="128.39" cy="513.57" r="0.9" fill="#16185a"/>
<circle cx="131.44" cy="520.42" r="0.9" fill="#16185a"/>
<circle cx="134.49" cy="526.68" r="0.9" fill="#16185a"/>
<circle cx="137.54" cy="534.99" r="0.9" fill="#16185a"/>
<circle cx="140.58" cy="537.9" r="0.9" fill="#16185a"/>
<circle cx="143.63" cy="540.09" r="0.9" fill="#16185a"/>
<circle cx="146.68" cy="541.54" r="0.9" fill="#16185a"/>
<circle cx="149.73" cy="542.56" r="0.9" fill="#16185a"/>
<circle cx="152.78" cy="543.44" r="0.9" fill="#16185a"/>
<circle cx="155.82" cy="544.46" r="0.9" fill="#16185a"/>
<circle cx="158.87" cy="545.48" r="0.9" fill="#16185a"/>
<circle cx="161.92" cy="546.35" r="0.9" fill="#16185a"/>
<circle cx="164.97" cy="547.08" r="0.9" fill="#16185a"/>
<circle cx="168.02" cy="547.81" r="0.9" fill="#16185a"/>
<circle cx="171.06" cy="548.54" r="0.9" fill="#16185a"/>
<circle cx="174.11" cy="549.56" r="0.9" fill="#16185a"/>
<circle cx="177.16" cy="550.28" r="0.9" fill="#16185a"/>
<line x1="40" y1="502.49" x2="40" y2="519.98" stroke="#d4172e" stroke-width="0.95"/>
<line x1="37" y1="502.49" x2="43" y2="502.49" stroke="#d4172e" stroke-width="0.95"/>
<line x1="37" y1="519.98" x2="43" y2="519.98" stroke="#d4172e" stroke-width="0.95"/>
<line x1="43.05" y1="505.7" x2="43.05" y2="521.73" stroke="#d4172e" stroke-width="0.95"/>
<line x1="40.05" y1="505.7" x2="46.05" y2="505.7" stroke="#d4172e" stroke-width="0.95"/>
<line x1="40.05" y1="521.73" x2="46.05" y2="521.73" stroke="#d4172e" stroke-width="0.95"/>
<line x1="46.1" y1="509.05" x2="46.1" y2="522.16" stroke="#d4172e" stroke-width="0.95"/>
<line x1="43.1" y1="509.05" x2="49.1" y2="509.05" stroke="#d4172e" stroke-width="0.95"/>
<line x1="43.1" y1="522.16" x2="49.1" y2="522.16" stroke="#d4172e" stroke-width="0.95"/>
<line x1="49.14" y1="512.4" x2="49.14" y2="522.6" stroke="#d4172e" stroke-width="0.95"/>
<line x1="46.14" y1="512.4" x2="52.14" y2="512.4" stroke="#d4172e" stroke-width="0.95"/>
<line x1="46.14" y1="522.6" x2="52.14" y2="522.6" stroke="#d4172e" stroke-width="0.95"/>
<line x1="52.19" y1="513.71" x2="52.19" y2="523.91" stroke="#d4172e" stroke-width="0.95"/>
<line x1="49.19" y1="513.71" x2="55.19" y2="513.71" stroke="#d4172e" stroke-width="0.95"/>
<line x1="49.19" y1="523.91" x2="55.19" y2="523.91" stroke="#d4172e" stroke-width="0.95"/>
<line x1="55.24" y1="515.61" x2="55.24" y2="525.81" stroke="#d4172e" stroke-width="0.95"/>
<line x1="52.24" y1="515.61" x2="58.24" y2="515.61" stroke="#d4172e" stroke-width="0.95"/>
<line x1="52.24" y1="525.81" x2="58.24" y2="525.81" stroke="#d4172e" stroke-width="0.95"/>
<line x1="58.29" y1="518.81" x2="58.29" y2="529.01" stroke="#d4172e" stroke-width="0.95"/>
<line x1="55.29" y1="518.81" x2="61.29" y2="518.81" stroke="#d4172e" stroke-width="0.95"/>
<line x1="55.29" y1="529.01" x2="61.29" y2="529.01" stroke="#d4172e" stroke-width="0.95"/>
<line x1="61.34" y1="522.02" x2="61.34" y2="532.22" stroke="#d4172e" stroke-width="0.95"/>
<line x1="58.34" y1="522.02" x2="64.34" y2="522.02" stroke="#d4172e" stroke-width="0.95"/>
<line x1="58.34" y1="532.22" x2="64.34" y2="532.22" stroke="#d4172e" stroke-width="0.95"/>
<line x1="64.38" y1="525.95" x2="64.38" y2="536.15" stroke="#d4172e" stroke-width="0.95"/>
<line x1="61.38" y1="525.95" x2="67.38" y2="525.95" stroke="#d4172e" stroke-width="0.95"/>
<line x1="61.38" y1="536.15" x2="67.38" y2="536.15" stroke="#d4172e" stroke-width="0.95"/>
<line x1="67.43" y1="529.16" x2="67.43" y2="539.36" stroke="#d4172e" stroke-width="0.95"/>
<line x1="64.43" y1="529.16" x2="70.43" y2="529.16" stroke="#d4172e" stroke-width="0.95"/>
<line x1="64.43" y1="539.36" x2="70.43" y2="539.36" stroke="#d4172e" stroke-width="0.95"/>
<line x1="70.48" y1="528.43" x2="70.48" y2="538.63" stroke="#d4172e" stroke-width="0.95"/>
<line x1="67.48" y1="528.43" x2="73.48" y2="528.43" stroke="#d4172e" stroke-width="0.95"/>
<line x1="67.48" y1="538.63" x2="73.48" y2="538.63" stroke="#d4172e" stroke-width="0.95"/>
<line x1="73.53" y1="527.26" x2="73.53" y2="537.46" stroke="#d4172e" stroke-width="0.95"/>
<line x1="70.53" y1="527.26" x2="76.53" y2="527.26" stroke="#d4172e" stroke-width="0.95"/>
<line x1="70.53" y1="537.46" x2="76.53" y2="537.46" stroke="#d4172e" stroke-width="0.95"/>
<line x1="76.58" y1="525.22" x2="76.58" y2="535.42" stroke="#d4172e" stroke-width="0.95"/>
<line x1="73.58" y1="525.22" x2="79.58" y2="525.22" stroke="#d4172e" stroke-width="0.95"/>
<line x1="73.58" y1="535.42" x2="79.58" y2="535.42" stroke="#d4172e" stroke-width="0.95"/>
<line x1="79.62" y1="525.95" x2="79.62" y2="536.15" stroke="#d4172e" stroke-width="0.95"/>
<line x1="76.62" y1="525.95" x2="82.62" y2="525.95" stroke="#d4172e" stroke-width="0.95"/>
<line x1="76.62" y1="536.15" x2="82.62" y2="536.15" stroke="#d4172e" stroke-width="0.95"/>
<line x1="82.67" y1="527.85" x2="82.67" y2="538.05" stroke="#d4172e" stroke-width="0.95"/>
<line x1="79.67" y1="527.85" x2="85.67" y2="527.85" stroke="#d4172e" stroke-width="0.95"/>
<line x1="79.67" y1="538.05" x2="85.67" y2="538.05" stroke="#d4172e" stroke-width="0.95"/>
<line x1="85.72" y1="530.61" x2="85.72" y2="540.81" stroke="#d4172e" stroke-width="0.95"/>
<line x1="82.72" y1="530.61" x2="88.72" y2="530.61" stroke="#d4172e" stroke-width="0.95"/>
<line x1="82.72" y1="540.81" x2="88.72" y2="540.81" stroke="#d4172e" stroke-width="0.95"/>
<line x1="88.77" y1="524.06" x2="88.77" y2="534.26" stroke="#d4172e" stroke-width="0.95"/>
<line x1="85.77" y1="524.06" x2="91.77" y2="524.06" stroke="#d4172e" stroke-width="0.95"/>
<line x1="85.77" y1="534.26" x2="91.77" y2="534.26" stroke="#d4172e" stroke-width="0.95"/>
<line x1="91.82" y1="514.15" x2="91.82" y2="524.35" stroke="#d4172e" stroke-width="0.95"/>
<line x1="88.82" y1="514.15" x2="94.82" y2="514.15" stroke="#d4172e" stroke-width="0.95"/>
<line x1="88.82" y1="524.35" x2="94.82" y2="524.35" stroke="#d4172e" stroke-width="0.95"/>
<line x1="94.86" y1="503.66" x2="94.86" y2="513.86" stroke="#d4172e" stroke-width="0.95"/>
<line x1="91.86" y1="503.66" x2="97.86" y2="503.66" stroke="#d4172e" stroke-width="0.95"/>
<line x1="91.86" y1="513.86" x2="97.86" y2="513.86" stroke="#d4172e" stroke-width="0.95"/>
<line x1="97.91" y1="492.88" x2="97.91" y2="503.08" stroke="#d4172e" stroke-width="0.95"/>
<line x1="94.91" y1="492.88" x2="100.91" y2="492.88" stroke="#d4172e" stroke-width="0.95"/>
<line x1="94.91" y1="503.08" x2="100.91" y2="503.08" stroke="#d4172e" stroke-width="0.95"/>
<line x1="100.96" y1="482.24" x2="100.96" y2="492.44" stroke="#d4172e" stroke-width="0.95"/>
<line x1="97.96" y1="482.24" x2="103.96" y2="482.24" stroke="#d4172e" stroke-width="0.95"/>
<line x1="97.96" y1="492.44" x2="103.96" y2="492.44" stroke="#d4172e" stroke-width="0.95"/>
<line x1="104.01" y1="476.71" x2="104.01" y2="486.9" stroke="#d4172e" stroke-width="0.95"/>
<line x1="101.01" y1="476.71" x2="107.01" y2="476.71" stroke="#d4172e" stroke-width="0.95"/>
<line x1="101.01" y1="486.9" x2="107.01" y2="486.9" stroke="#d4172e" stroke-width="0.95"/>
<line x1="107.06" y1="478.16" x2="107.06" y2="488.36" stroke="#d4172e" stroke-width="0.95"/>
<line x1="104.06" y1="478.16" x2="110.06" y2="478.16" stroke="#d4172e" stroke-width="0.95"/>
<line x1="104.06" y1="488.36" x2="110.06" y2="488.36" stroke="#d4172e" stroke-width="0.95"/>
<line x1="110.1" y1="483.26" x2="110.1" y2="493.46" stroke="#d4172e" stroke-width="0.95"/>
<line x1="107.1" y1="483.26" x2="113.1" y2="483.26" stroke="#d4172e" stroke-width="0.95"/>
<line x1="107.1" y1="493.46" x2="113.1" y2="493.46" stroke="#d4172e" stroke-width="0.95"/>
<line x1="113.15" y1="487.63" x2="113.15" y2="497.83" stroke="#d4172e" stroke-width="0.95"/>
<line x1="110.15" y1="487.63" x2="116.15" y2="487.63" stroke="#d4172e" stroke-width="0.95"/>
<line x1="110.15" y1="497.83" x2="116.15" y2="497.83" stroke="#d4172e" stroke-width="0.95"/>
<line x1="116.2" y1="492.88" x2="116.2" y2="503.08" stroke="#d4172e" stroke-width="0.95"/>
<line x1="113.2" y1="492.88" x2="119.2" y2="492.88" stroke="#d4172e" stroke-width="0.95"/>
<line x1="113.2" y1="503.08" x2="119.2" y2="503.08" stroke="#d4172e" stroke-width="0.95"/>
<line x1="119.25" y1="498.56" x2="119.25" y2="508.76" stroke="#d4172e" stroke-width="0.95"/>
<line x1="116.25" y1="498.56" x2="122.25" y2="498.56" stroke="#d4172e" stroke-width="0.95"/>
<line x1="116.25" y1="508.76" x2="122.25" y2="508.76" stroke="#d4172e" stroke-width="0.95"/>
<line x1="122.3" y1="504.24" x2="122.3" y2="514.44" stroke="#d4172e" stroke-width="0.95"/>
<line x1="119.3" y1="504.24" x2="125.3" y2="504.24" stroke="#d4172e" stroke-width="0.95"/>
<line x1="119.3" y1="514.44" x2="125.3" y2="514.44" stroke="#d4172e" stroke-width="0.95"/>
<line x1="125.34" y1="509.78" x2="125.34" y2="519.98" stroke="#d4172e" stroke-width="0.95"/>
<line x1="122.34" y1="509.78" x2="128.34" y2="509.78" stroke="#d4172e" stroke-width="0.95"/>
<line x1="122.34" y1="519.98" x2="128.34" y2="519.98" stroke="#d4172e" stroke-width="0.95"/>
<line x1="128.39" y1="514.59" x2="128.39" y2="524.79" stroke="#d4172e" stroke-width="0.95"/>
<line x1="125.39" y1="514.59" x2="131.39" y2="514.59" stroke="#d4172e" stroke-width="0.95"/>
<line x1="125.39" y1="524.79" x2="131.39" y2="524.79" stroke="#d4172e" stroke-width="0.95"/>
<line x1="131.44" y1="518.96" x2="131.44" y2="529.16" stroke="#d4172e" stroke-width="0.95"/>
<line x1="128.44" y1="518.96" x2="134.44" y2="518.96" stroke="#d4172e" stroke-width="0.95"/>
<line x1="128.44" y1="529.16" x2="134.44" y2="529.16" stroke="#d4172e" stroke-width="0.95"/>
<line x1="134.49" y1="522.89" x2="134.49" y2="533.09" stroke="#d4172e" stroke-width="0.95"/>
<line x1="131.49" y1="522.89" x2="137.49" y2="522.89" stroke="#d4172e" stroke-width="0.95"/>
<line x1="131.49" y1="533.09" x2="137.49" y2="533.09" stroke="#d4172e" stroke-width="0.95"/>
<line x1="137.54" y1="526.1" x2="137.54" y2="536.3" stroke="#d4172e" stroke-width="0.95"/>
<line x1="134.54" y1="526.1" x2="140.54" y2="526.1" stroke="#d4172e" stroke-width="0.95"/>
<line x1="134.54" y1="536.3" x2="140.54" y2="536.3" stroke="#d4172e" stroke-width="0.95"/>
<line x1="140.58" y1="526.83" x2="140.58" y2="537.03" stroke="#d4172e" stroke-width="0.95"/>
<line x1="137.58" y1="526.83" x2="143.58" y2="526.83" stroke="#d4172e" stroke-width="0.95"/>
<line x1="137.58" y1="537.03" x2="143.58" y2="537.03" stroke="#d4172e" stroke-width="0.95"/>
<line x1="143.63" y1="527.41" x2="143.63" y2="537.61" stroke="#d4172e" stroke-width="0.95"/>
<line x1="140.63" y1="527.41" x2="146.63" y2="527.41" stroke="#d4172e" stroke-width="0.95"/>
<line x1="140.63" y1="537.61" x2="146.63" y2="537.61" stroke="#d4172e" stroke-width="0.95"/>
<line x1="146.68" y1="528.14" x2="146.68" y2="538.34" stroke="#d4172e" stroke-width="0.95"/>
<line x1="143.68" y1="528.14" x2="149.68" y2="528.14" stroke="#d4172e" stroke-width="0.95"/>
<line x1="143.68" y1="538.34" x2="149.68" y2="538.34" stroke="#d4172e" stroke-width="0.95"/>
<line x1="149.73" y1="529.16" x2="149.73" y2="539.36" stroke="#d4172e" stroke-width="0.95"/>
<line x1="146.73" y1="529.16" x2="152.73" y2="529.16" stroke="#d4172e" stroke-width="0.95"/>
<line x1="146.73" y1="539.36" x2="152.73" y2="539.36" stroke="#d4172e" stroke-width="0.95"/>
<line x1="152.78" y1="531.05" x2="152.78" y2="541.25" stroke="#d4172e" stroke-width="0.95"/>
<line x1="149.78" y1="531.05" x2="155.78" y2="531.05" stroke="#d4172e" stroke-width="0.95"/>
<line x1="149.78" y1="541.25" x2="155.78" y2="541.25" stroke="#d4172e" stroke-width="0.95"/>
<line x1="155.82" y1="533.97" x2="155.82" y2="544.17" stroke="#d4172e" stroke-width="0.95"/>
<line x1="152.82" y1="533.97" x2="158.82" y2="533.97" stroke="#d4172e" stroke-width="0.95"/>
<line x1="152.82" y1="544.17" x2="158.82" y2="544.17" stroke="#d4172e" stroke-width="0.95"/>
<line x1="158.87" y1="537.17" x2="158.87" y2="547.37" stroke="#d4172e" stroke-width="0.95"/>
<line x1="155.87" y1="537.17" x2="161.87" y2="537.17" stroke="#d4172e" stroke-width="0.95"/>
<line x1="155.87" y1="547.37" x2="161.87" y2="547.37" stroke="#d4172e" stroke-width="0.95"/>
<line x1="161.92" y1="540.81" x2="161.92" y2="551.01" stroke="#d4172e" stroke-width="0.95"/>
<line x1="158.92" y1="540.81" x2="164.92" y2="540.81" stroke="#d4172e" stroke-width="0.95"/>
<line x1="158.92" y1="551.01" x2="164.92" y2="551.01" stroke="#d4172e" stroke-width="0.95"/>
<line x1="164.97" y1="544.17" x2="164.97" y2="554.36" stroke="#d4172e" stroke-width="0.95"/>
<line x1="161.97" y1="544.17" x2="167.97" y2="544.17" stroke="#d4172e" stroke-width="0.95"/>
<line x1="161.97" y1="554.36" x2="167.97" y2="554.36" stroke="#d4172e" stroke-width="0.95"/>
<line x1="168.02" y1="547.08" x2="168.02" y2="557.28" stroke="#d4172e" stroke-width="0.95"/>
<line x1="165.02" y1="547.08" x2="171.02" y2="547.08" stroke="#d4172e" stroke-width="0.95"/>
<line x1="165.02" y1="557.28" x2="171.02" y2="557.28" stroke="#d4172e" stroke-width="0.95"/>
<line x1="171.06" y1="549.56" x2="171.06" y2="559.75" stroke="#d4172e" stroke-width="0.95"/>
<line x1="168.06" y1="549.56" x2="174.06" y2="549.56" stroke="#d4172e" stroke-width="0.95"/>
<line x1="168.06" y1="559.75" x2="174.06" y2="559.75" stroke="#d4172e" stroke-width="0.95"/>
<line x1="174.11" y1="552.03" x2="174.11" y2="562.23" stroke="#d4172e" stroke-width="0.95"/>
<line x1="171.11" y1="552.03" x2="177.11" y2="552.03" stroke="#d4172e" stroke-width="0.95"/>
<line x1="171.11" y1="562.23" x2="177.11" y2="562.23" stroke="#d4172e" stroke-width="0.95"/>
<line x1="177.16" y1="552.91" x2="177.16" y2="563.11" stroke="#d4172e" stroke-width="0.95"/>
<line x1="174.16" y1="552.91" x2="180.16" y2="552.91" stroke="#d4172e" stroke-width="0.95"/>
<line x1="174.16" y1="563.11" x2="180.16" y2="563.11" stroke="#d4172e" stroke-width="0.95"/>
<polyline points="40,511.24 43.05,513.71 46.1,515.61 49.14,517.5 52.19,518.81 55.24,520.71 58.29,523.91 61.34,527.12 64.38,531.05 67.43,534.26 70.48,533.53 73.53,532.36 76.58,530.32 79.62,531.05 82.67,532.95 85.72,535.71 88.77,529.16 91.82,519.25 94.86,508.76 97.91,497.98 100.96,487.34 104.01,481.81 107.06,483.26 110.1,488.36 113.15,492.73 116.2,497.98 119.25,503.66 122.3,509.34 125.34,514.88 128.39,519.69 131.44,524.06 134.49,527.99 137.54,531.2 140.58,531.93 143.63,532.51 146.68,533.24 149.73,534.26 152.78,536.15 155.82,539.07 158.87,542.27 161.92,545.91 164.97,549.26 168.02,552.18 171.06,554.66 174.11,557.13 177.16,558.01" fill="none" stroke="#d4172e" stroke-width="1.15"/>
<circle cx="40" cy="511.24" r="0.9" fill="#8c0a1c"/>
<circle cx="43.05" cy="513.71" r="0.9" fill="#8c0a1c"/>
<circle cx="46.1" cy="515.61" r="0.9" fill="#8c0a1c"/>
<circle cx="49.14" cy="517.5" r="0.9" fill="#8c0a1c"/>
<circle cx="52.19" cy="518.81" r="0.9" fill="#8c0a1c"/>
<circle cx="55.24" cy="520.71" r="0.9" fill="#8c0a1c"/>
<circle cx="58.29" cy="523.91" r="0.9" fill="#8c0a1c"/>
<circle cx="61.34" cy="527.12" r="0.9" fill="#8c0a1c"/>
<circle cx="64.38" cy="531.05" r="0.9" fill="#8c0a1c"/>
<circle cx="67.43" cy="534.26" r="0.9" fill="#8c0a1c"/>
<circle cx="70.48" cy="533.53" r="0.9" fill="#8c0a1c"/>
<circle cx="73.53" cy="532.36" r="0.9" fill="#8c0a1c"/>
<circle cx="76.58" cy="530.32" r="0.9" fill="#8c0a1c"/>
<circle cx="79.62" cy="531.05" r="0.9" fill="#8c0a1c"/>
<circle cx="82.67" cy="532.95" r="0.9" fill="#8c0a1c"/>
<circle cx="85.72" cy="535.71" r="0.9" fill="#8c0a1c"/>
<circle cx="88.77" cy="529.16" r="0.9" fill="#8c0a1c"/>
<circle cx="91.82" cy="519.25" r="0.9" fill="#8c0a1c"/>
<circle cx="94.86" cy="508.76" r="0.9" fill="#8c0a1c"/>
<circle cx="97.91" cy="497.98" r="0.9" fill="#8c0a1c"/>
<circle cx="100.96" cy="487.34" r="0.9" fill="#8c0a1c"/>
<circle cx="104.01" cy="481.81" r="0.9" fill="#8c0a1c"/>
<circle cx="107.06" cy="483.26" r="0.9" fill="#8c0a1c"/>
<circle cx="110.1" cy="488.36" r="0.9" fill="#8c0a1c"/>
<circle cx="113.15" cy="492.73" r="0.9" fill="#8c0a1c"/>
<circle cx="116.2" cy="497.98" r="0.9" fill="#8c0a1c"/>
<circle cx="119.25" cy="503.66" r="0.9" fill="#8c0a1c"/>
<circle cx="122.3" cy="509.34" r="0.9" fill="#8c0a1c"/>
<circle cx="125.34" cy="514.88" r="0.9" fill="#8c0a1c"/>
<circle cx="128.39" cy="519.69" r="0.9" fill="#8c0a1c"/>
<circle cx="131.44" cy="524.06" r="0.9" fill="#8c0a1c"/>
<circle cx="134.49" cy="527.99" r="0.9" fill="#8c0a1c"/>
<circle cx="137.54" cy="531.2" r="0.9" fill="#8c0a1c"/>
<circle cx="140.58" cy="531.93" r="0.9" fill="#8c0a1c"/>
<circle cx="143.63" cy="532.51" r="0.9" fill="#8c0a1c"/>
<circle cx="146.68" cy="533.24" r="0.9" fill="#8c0a1c"/>
<circle cx="149.73" cy="534.26" r="0.9" fill="#8c0a1c"/>
<circle cx="152.78" cy="536.15" r="0.9" fill="#8c0a1c"/>
<circle cx="155.82" cy="539.07" r="0.9" fill="#8c0a1c"/>
<circle cx="158.87" cy="542.27" r="0.9" fill="#8c0a1c"/>
<circle cx="161.92" cy="545.91" r="0.9" fill="#8c0a1c"/>
<circle cx="164.97" cy="549.26" r="0.9" fill="#8c0a1c"/>
<circle cx="168.02" cy="552.18" r="0.9" fill="#8c0a1c"/>
<circle cx="171.06" cy="554.66" r="0.9" fill="#8c0a1c"/>
<circle cx="174.11" cy="557.13" r="0.9" fill="#8c0a1c"/>
<circle cx="177.16" cy="558.01" r="0.9" fill="#8c0a1c"/>
<text x="233.4" y="311.1" font-size="10.2" text-anchor="start" font-weight="bold" fill="#111">G</text>
<line x1="267.2" y1="316.34" x2="267.2" y2="417.4" stroke="#262626" stroke-width="1.1"/>
<line x1="262.8" y1="417.56" x2="267.2" y2="417.56" stroke="#262626" stroke-width="1.1"/>
<text x="260.2" y="420.58" font-size="8.4" text-anchor="end" font-weight="normal" fill="#1a1a1a">-2</text>
<line x1="262.8" y1="403.1" x2="267.2" y2="403.1" stroke="#262626" stroke-width="1.1"/>
<text x="260.2" y="406.12" font-size="8.4" text-anchor="end" font-weight="normal" fill="#1a1a1a">0</text>
<line x1="262.8" y1="388.64" x2="267.2" y2="388.64" stroke="#262626" stroke-width="1.1"/>
<text x="260.2" y="391.66" font-size="8.4" text-anchor="end" font-weight="normal" fill="#1a1a1a">2</text>
<line x1="262.8" y1="374.18" x2="267.2" y2="374.18" stroke="#262626" stroke-width="1.1"/>
<text x="260.2" y="377.2" font-size="8.4" text-anchor="end" font-weight="normal" fill="#1a1a1a">4</text>
<line x1="262.8" y1="359.72" x2="267.2" y2="359.72" stroke="#262626" stroke-width="1.1"/>
<text x="260.2" y="362.74" font-size="8.4" text-anchor="end" font-weight="normal" fill="#1a1a1a">6</text>
<line x1="262.8" y1="345.26" x2="267.2" y2="345.26" stroke="#262626" stroke-width="1.1"/>
<text x="260.2" y="348.28" font-size="8.4" text-anchor="end" font-weight="normal" fill="#1a1a1a">8</text>
<line x1="262.8" y1="330.8" x2="267.2" y2="330.8" stroke="#262626" stroke-width="1.1"/>
<text x="260.2" y="333.82" font-size="8.4" text-anchor="end" font-weight="normal" fill="#1a1a1a">10</text>
<line x1="262.8" y1="316.34" x2="267.2" y2="316.34" stroke="#262626" stroke-width="1.1"/>
<text x="260.2" y="319.36" font-size="8.4" text-anchor="end" font-weight="normal" fill="#1a1a1a">12</text>
<line x1="267.2" y1="417.4" x2="399.98" y2="417.4" stroke="#262626" stroke-width="1.1"/>
<line x1="267.5" y1="417.4" x2="267.5" y2="421.4" stroke="#262626" stroke-width="1.1"/>
<line x1="282.22" y1="417.4" x2="282.22" y2="421.4" stroke="#262626" stroke-width="1.1"/>
<line x1="296.94" y1="417.4" x2="296.94" y2="421.4" stroke="#262626" stroke-width="1.1"/>
<line x1="311.66" y1="417.4" x2="311.66" y2="421.4" stroke="#262626" stroke-width="1.1"/>
<line x1="326.38" y1="417.4" x2="326.38" y2="421.4" stroke="#262626" stroke-width="1.1"/>
<line x1="341.1" y1="417.4" x2="341.1" y2="421.4" stroke="#262626" stroke-width="1.1"/>
<line x1="355.82" y1="417.4" x2="355.82" y2="421.4" stroke="#262626" stroke-width="1.1"/>
<line x1="370.54" y1="417.4" x2="370.54" y2="421.4" stroke="#262626" stroke-width="1.1"/>
<line x1="385.26" y1="417.4" x2="385.26" y2="421.4" stroke="#262626" stroke-width="1.1"/>
<line x1="399.98" y1="417.4" x2="399.98" y2="421.4" stroke="#262626" stroke-width="1.1"/>
<text x="267.5" y="430.9" font-size="8.4" text-anchor="middle" font-weight="normal" fill="#1a1a1a">0</text>
<text x="282.22" y="430.9" font-size="8.4" text-anchor="middle" font-weight="normal" fill="#1a1a1a">1</text>
<text x="296.94" y="430.9" font-size="8.4" text-anchor="middle" font-weight="normal" fill="#1a1a1a">2</text>
<text x="311.66" y="430.9" font-size="8.4" text-anchor="middle" font-weight="normal" fill="#1a1a1a">3</text>
<text x="326.38" y="430.9" font-size="8.4" text-anchor="middle" font-weight="normal" fill="#1a1a1a">4</text>
<text x="341.1" y="430.9" font-size="8.4" text-anchor="middle" font-weight="normal" fill="#1a1a1a">5</text>
<text x="355.82" y="430.9" font-size="8.4" text-anchor="middle" font-weight="normal" fill="#1a1a1a">6</text>
<text x="370.54" y="430.9" font-size="8.4" text-anchor="middle" font-weight="normal" fill="#1a1a1a">7</text>
<text x="385.26" y="430.9" font-size="8.4" text-anchor="middle" font-weight="normal" fill="#1a1a1a">8</text>
<text x="399.98" y="430.9" font-size="8.4" text-anchor="middle" font-weight="normal" fill="#1a1a1a">9</text>
<text x="333.59" y="441.6" font-size="8.8" text-anchor="middle" font-weight="normal" fill="#1a1a1a">Time (Second)</text>
<rect x="311.96" y="410.9" width="44.56" height="2.6" fill="#111"/>
<text x="317.66" y="408.5" font-size="7.0" text-anchor="start" font-weight="normal" fill="#1a1a1a">Oct (CS+)</text>
<line x1="356.7" y1="320.7" x2="375" y2="320.7" stroke="#272a82" stroke-width="1.0"/>
<line x1="356.7" y1="327.8" x2="375" y2="327.8" stroke="#d4172e" stroke-width="1.0"/>
<circle cx="365.85" cy="320.7" r="1.2" fill="#1c1f6e"/>
<circle cx="365.85" cy="327.8" r="1.2" fill="#a01010"/>
<text x="376.6" y="323.2" font-size="7.0" text-anchor="start" font-weight="normal" fill="#1a1a1a">No RU486</text>
<text x="376.6" y="330.3" font-size="7.0" text-anchor="start" font-weight="normal" fill="#1a1a1a">RU486</text>
<text transform="translate(250.2,366.7) rotate(-90)" x="0" y="0" font-size="8.8" text-anchor="middle" fill="#1a1a1a">%ΔF/F<tspan font-size="6.3" dy="0.5">0</tspan></text>
<line x1="267.5" y1="376.13" x2="267.5" y2="384.81" stroke="#272a82" stroke-width="0.95"/>
<line x1="264.5" y1="376.13" x2="270.5" y2="376.13" stroke="#272a82" stroke-width="0.95"/>
<line x1="264.5" y1="384.81" x2="270.5" y2="384.81" stroke="#272a82" stroke-width="0.95"/>
<line x1="270.44" y1="379.46" x2="270.44" y2="386.69" stroke="#272a82" stroke-width="0.95"/>
<line x1="267.44" y1="379.46" x2="273.44" y2="379.46" stroke="#272a82" stroke-width="0.95"/>
<line x1="267.44" y1="386.69" x2="273.44" y2="386.69" stroke="#272a82" stroke-width="0.95"/>
<line x1="273.39" y1="382.86" x2="273.39" y2="388.64" stroke="#272a82" stroke-width="0.95"/>
<line x1="270.39" y1="382.86" x2="276.39" y2="382.86" stroke="#272a82" stroke-width="0.95"/>
<line x1="270.39" y1="388.64" x2="276.39" y2="388.64" stroke="#272a82" stroke-width="0.95"/>
<line x1="276.33" y1="384.81" x2="276.33" y2="390.59" stroke="#272a82" stroke-width="0.95"/>
<line x1="273.33" y1="384.81" x2="279.33" y2="384.81" stroke="#272a82" stroke-width="0.95"/>
<line x1="273.33" y1="390.59" x2="279.33" y2="390.59" stroke="#272a82" stroke-width="0.95"/>
<line x1="279.28" y1="385.46" x2="279.28" y2="391.24" stroke="#272a82" stroke-width="0.95"/>
<line x1="276.28" y1="385.46" x2="282.28" y2="385.46" stroke="#272a82" stroke-width="0.95"/>
<line x1="276.28" y1="391.24" x2="282.28" y2="391.24" stroke="#272a82" stroke-width="0.95"/>
<line x1="282.22" y1="386.76" x2="282.22" y2="392.54" stroke="#272a82" stroke-width="0.95"/>
<line x1="279.22" y1="386.76" x2="285.22" y2="386.76" stroke="#272a82" stroke-width="0.95"/>
<line x1="279.22" y1="392.54" x2="285.22" y2="392.54" stroke="#272a82" stroke-width="0.95"/>
<line x1="285.16" y1="387.41" x2="285.16" y2="393.19" stroke="#272a82" stroke-width="0.95"/>
<line x1="282.16" y1="387.41" x2="288.16" y2="387.41" stroke="#272a82" stroke-width="0.95"/>
<line x1="282.16" y1="393.19" x2="288.16" y2="393.19" stroke="#272a82" stroke-width="0.95"/>
<line x1="288.11" y1="388.06" x2="288.11" y2="393.85" stroke="#272a82" stroke-width="0.95"/>
<line x1="285.11" y1="388.06" x2="291.11" y2="388.06" stroke="#272a82" stroke-width="0.95"/>
<line x1="285.11" y1="393.85" x2="291.11" y2="393.85" stroke="#272a82" stroke-width="0.95"/>
<line x1="291.05" y1="388.64" x2="291.05" y2="394.42" stroke="#272a82" stroke-width="0.95"/>
<line x1="288.05" y1="388.64" x2="294.05" y2="388.64" stroke="#272a82" stroke-width="0.95"/>
<line x1="288.05" y1="394.42" x2="294.05" y2="394.42" stroke="#272a82" stroke-width="0.95"/>
<line x1="294" y1="389.36" x2="294" y2="395.15" stroke="#272a82" stroke-width="0.95"/>
<line x1="291" y1="389.36" x2="297" y2="389.36" stroke="#272a82" stroke-width="0.95"/>
<line x1="291" y1="395.15" x2="297" y2="395.15" stroke="#272a82" stroke-width="0.95"/>
<line x1="296.94" y1="390.66" x2="296.94" y2="396.45" stroke="#272a82" stroke-width="0.95"/>
<line x1="293.94" y1="390.66" x2="299.94" y2="390.66" stroke="#272a82" stroke-width="0.95"/>
<line x1="293.94" y1="396.45" x2="299.94" y2="396.45" stroke="#272a82" stroke-width="0.95"/>
<line x1="299.88" y1="391.32" x2="299.88" y2="397.1" stroke="#272a82" stroke-width="0.95"/>
<line x1="296.88" y1="391.32" x2="302.88" y2="391.32" stroke="#272a82" stroke-width="0.95"/>
<line x1="296.88" y1="397.1" x2="302.88" y2="397.1" stroke="#272a82" stroke-width="0.95"/>
<line x1="302.83" y1="392.62" x2="302.83" y2="398.4" stroke="#272a82" stroke-width="0.95"/>
<line x1="299.83" y1="392.62" x2="305.83" y2="392.62" stroke="#272a82" stroke-width="0.95"/>
<line x1="299.83" y1="398.4" x2="305.83" y2="398.4" stroke="#272a82" stroke-width="0.95"/>
<line x1="305.77" y1="394.57" x2="305.77" y2="400.35" stroke="#272a82" stroke-width="0.95"/>
<line x1="302.77" y1="394.57" x2="308.77" y2="394.57" stroke="#272a82" stroke-width="0.95"/>
<line x1="302.77" y1="400.35" x2="308.77" y2="400.35" stroke="#272a82" stroke-width="0.95"/>
<line x1="308.72" y1="396.59" x2="308.72" y2="402.38" stroke="#272a82" stroke-width="0.95"/>
<line x1="305.72" y1="396.59" x2="311.72" y2="396.59" stroke="#272a82" stroke-width="0.95"/>
<line x1="305.72" y1="402.38" x2="311.72" y2="402.38" stroke="#272a82" stroke-width="0.95"/>
<line x1="311.66" y1="397.1" x2="311.66" y2="402.88" stroke="#272a82" stroke-width="0.95"/>
<line x1="308.66" y1="397.1" x2="314.66" y2="397.1" stroke="#272a82" stroke-width="0.95"/>
<line x1="308.66" y1="402.88" x2="314.66" y2="402.88" stroke="#272a82" stroke-width="0.95"/>
<line x1="314.6" y1="393.85" x2="314.6" y2="400.35" stroke="#272a82" stroke-width="0.95"/>
<line x1="311.6" y1="393.85" x2="317.6" y2="393.85" stroke="#272a82" stroke-width="0.95"/>
<line x1="311.6" y1="400.35" x2="317.6" y2="400.35" stroke="#272a82" stroke-width="0.95"/>
<line x1="317.55" y1="388.5" x2="317.55" y2="395" stroke="#272a82" stroke-width="0.95"/>
<line x1="314.55" y1="388.5" x2="320.55" y2="388.5" stroke="#272a82" stroke-width="0.95"/>
<line x1="314.55" y1="395" x2="320.55" y2="395" stroke="#272a82" stroke-width="0.95"/>
<line x1="320.49" y1="380.33" x2="320.49" y2="386.83" stroke="#272a82" stroke-width="0.95"/>
<line x1="317.49" y1="380.33" x2="323.49" y2="380.33" stroke="#272a82" stroke-width="0.95"/>
<line x1="317.49" y1="386.83" x2="323.49" y2="386.83" stroke="#272a82" stroke-width="0.95"/>
<line x1="323.44" y1="370.93" x2="323.44" y2="377.43" stroke="#272a82" stroke-width="0.95"/>
<line x1="320.44" y1="370.93" x2="326.44" y2="370.93" stroke="#272a82" stroke-width="0.95"/>
<line x1="320.44" y1="377.43" x2="326.44" y2="377.43" stroke="#272a82" stroke-width="0.95"/>
<line x1="326.38" y1="362.97" x2="326.38" y2="369.48" stroke="#272a82" stroke-width="0.95"/>
<line x1="323.38" y1="362.97" x2="329.38" y2="362.97" stroke="#272a82" stroke-width="0.95"/>
<line x1="323.38" y1="369.48" x2="329.38" y2="369.48" stroke="#272a82" stroke-width="0.95"/>
<line x1="329.32" y1="353.57" x2="329.32" y2="360.08" stroke="#272a82" stroke-width="0.95"/>
<line x1="326.32" y1="353.57" x2="332.32" y2="353.57" stroke="#272a82" stroke-width="0.95"/>
<line x1="326.32" y1="360.08" x2="332.32" y2="360.08" stroke="#272a82" stroke-width="0.95"/>
<line x1="332.27" y1="343.09" x2="332.27" y2="349.6" stroke="#272a82" stroke-width="0.95"/>
<line x1="329.27" y1="343.09" x2="335.27" y2="343.09" stroke="#272a82" stroke-width="0.95"/>
<line x1="329.27" y1="349.6" x2="335.27" y2="349.6" stroke="#272a82" stroke-width="0.95"/>
<line x1="335.21" y1="335.86" x2="335.21" y2="343.09" stroke="#272a82" stroke-width="0.95"/>
<line x1="332.21" y1="335.86" x2="338.21" y2="335.86" stroke="#272a82" stroke-width="0.95"/>
<line x1="332.21" y1="343.09" x2="338.21" y2="343.09" stroke="#272a82" stroke-width="0.95"/>
<line x1="338.16" y1="333.91" x2="338.16" y2="341.14" stroke="#272a82" stroke-width="0.95"/>
<line x1="335.16" y1="333.91" x2="341.16" y2="333.91" stroke="#272a82" stroke-width="0.95"/>
<line x1="335.16" y1="341.14" x2="341.16" y2="341.14" stroke="#272a82" stroke-width="0.95"/>
<line x1="341.1" y1="336.58" x2="341.1" y2="343.81" stroke="#272a82" stroke-width="0.95"/>
<line x1="338.1" y1="336.58" x2="344.1" y2="336.58" stroke="#272a82" stroke-width="0.95"/>
<line x1="338.1" y1="343.81" x2="344.1" y2="343.81" stroke="#272a82" stroke-width="0.95"/>
<line x1="344.04" y1="339.84" x2="344.04" y2="349.96" stroke="#272a82" stroke-width="0.95"/>
<line x1="341.04" y1="339.84" x2="347.04" y2="339.84" stroke="#272a82" stroke-width="0.95"/>
<line x1="341.04" y1="349.96" x2="347.04" y2="349.96" stroke="#272a82" stroke-width="0.95"/>
<line x1="346.99" y1="345.26" x2="346.99" y2="355.38" stroke="#272a82" stroke-width="0.95"/>
<line x1="343.99" y1="345.26" x2="349.99" y2="345.26" stroke="#272a82" stroke-width="0.95"/>
<line x1="343.99" y1="355.38" x2="349.99" y2="355.38" stroke="#272a82" stroke-width="0.95"/>
<line x1="349.93" y1="350.32" x2="349.93" y2="360.44" stroke="#272a82" stroke-width="0.95"/>
<line x1="346.93" y1="350.32" x2="352.93" y2="350.32" stroke="#272a82" stroke-width="0.95"/>
<line x1="346.93" y1="360.44" x2="352.93" y2="360.44" stroke="#272a82" stroke-width="0.95"/>
<line x1="352.88" y1="354.66" x2="352.88" y2="364.78" stroke="#272a82" stroke-width="0.95"/>
<line x1="349.88" y1="354.66" x2="355.88" y2="354.66" stroke="#272a82" stroke-width="0.95"/>
<line x1="349.88" y1="364.78" x2="355.88" y2="364.78" stroke="#272a82" stroke-width="0.95"/>
<line x1="355.82" y1="357.55" x2="355.82" y2="367.67" stroke="#272a82" stroke-width="0.95"/>
<line x1="352.82" y1="357.55" x2="358.82" y2="357.55" stroke="#272a82" stroke-width="0.95"/>
<line x1="352.82" y1="367.67" x2="358.82" y2="367.67" stroke="#272a82" stroke-width="0.95"/>
<line x1="358.76" y1="359.72" x2="358.76" y2="369.84" stroke="#272a82" stroke-width="0.95"/>
<line x1="355.76" y1="359.72" x2="361.76" y2="359.72" stroke="#272a82" stroke-width="0.95"/>
<line x1="355.76" y1="369.84" x2="361.76" y2="369.84" stroke="#272a82" stroke-width="0.95"/>
<line x1="361.71" y1="361.89" x2="361.71" y2="372.01" stroke="#272a82" stroke-width="0.95"/>
<line x1="358.71" y1="361.89" x2="364.71" y2="361.89" stroke="#272a82" stroke-width="0.95"/>
<line x1="358.71" y1="372.01" x2="364.71" y2="372.01" stroke="#272a82" stroke-width="0.95"/>
<line x1="364.65" y1="365.5" x2="364.65" y2="375.63" stroke="#272a82" stroke-width="0.95"/>
<line x1="361.65" y1="365.5" x2="367.65" y2="365.5" stroke="#272a82" stroke-width="0.95"/>
<line x1="361.65" y1="375.63" x2="367.65" y2="375.63" stroke="#272a82" stroke-width="0.95"/>
<line x1="367.6" y1="369.12" x2="367.6" y2="379.24" stroke="#272a82" stroke-width="0.95"/>
<line x1="364.6" y1="369.12" x2="370.6" y2="369.12" stroke="#272a82" stroke-width="0.95"/>
<line x1="364.6" y1="379.24" x2="370.6" y2="379.24" stroke="#272a82" stroke-width="0.95"/>
<line x1="370.54" y1="372.73" x2="370.54" y2="382.86" stroke="#272a82" stroke-width="0.95"/>
<line x1="367.54" y1="372.73" x2="373.54" y2="372.73" stroke="#272a82" stroke-width="0.95"/>
<line x1="367.54" y1="382.86" x2="373.54" y2="382.86" stroke="#272a82" stroke-width="0.95"/>
<line x1="373.48" y1="375.99" x2="373.48" y2="386.11" stroke="#272a82" stroke-width="0.95"/>
<line x1="370.48" y1="375.99" x2="376.48" y2="375.99" stroke="#272a82" stroke-width="0.95"/>
<line x1="370.48" y1="386.11" x2="376.48" y2="386.11" stroke="#272a82" stroke-width="0.95"/>
<line x1="376.43" y1="379.24" x2="376.43" y2="389.36" stroke="#272a82" stroke-width="0.95"/>
<line x1="373.43" y1="379.24" x2="379.43" y2="379.24" stroke="#272a82" stroke-width="0.95"/>
<line x1="373.43" y1="389.36" x2="379.43" y2="389.36" stroke="#272a82" stroke-width="0.95"/>
<line x1="379.37" y1="381.77" x2="379.37" y2="391.89" stroke="#272a82" stroke-width="0.95"/>
<line x1="376.37" y1="381.77" x2="382.37" y2="381.77" stroke="#272a82" stroke-width="0.95"/>
<line x1="376.37" y1="391.89" x2="382.37" y2="391.89" stroke="#272a82" stroke-width="0.95"/>
<line x1="382.32" y1="384.3" x2="382.32" y2="394.42" stroke="#272a82" stroke-width="0.95"/>
<line x1="379.32" y1="384.3" x2="385.32" y2="384.3" stroke="#272a82" stroke-width="0.95"/>
<line x1="379.32" y1="394.42" x2="385.32" y2="394.42" stroke="#272a82" stroke-width="0.95"/>
<line x1="385.26" y1="386.76" x2="385.26" y2="396.88" stroke="#272a82" stroke-width="0.95"/>
<line x1="382.26" y1="386.76" x2="388.26" y2="386.76" stroke="#272a82" stroke-width="0.95"/>
<line x1="382.26" y1="396.88" x2="388.26" y2="396.88" stroke="#272a82" stroke-width="0.95"/>
<line x1="388.2" y1="388.78" x2="388.2" y2="398.91" stroke="#272a82" stroke-width="0.95"/>
<line x1="385.2" y1="388.78" x2="391.2" y2="388.78" stroke="#272a82" stroke-width="0.95"/>
<line x1="385.2" y1="398.91" x2="391.2" y2="398.91" stroke="#272a82" stroke-width="0.95"/>
<line x1="391.15" y1="390.09" x2="391.15" y2="400.21" stroke="#272a82" stroke-width="0.95"/>
<line x1="388.15" y1="390.09" x2="394.15" y2="390.09" stroke="#272a82" stroke-width="0.95"/>
<line x1="388.15" y1="400.21" x2="394.15" y2="400.21" stroke="#272a82" stroke-width="0.95"/>
<line x1="394.09" y1="390.09" x2="394.09" y2="400.21" stroke="#272a82" stroke-width="0.95"/>
<line x1="391.09" y1="390.09" x2="397.09" y2="390.09" stroke="#272a82" stroke-width="0.95"/>
<line x1="391.09" y1="400.21" x2="397.09" y2="400.21" stroke="#272a82" stroke-width="0.95"/>
<line x1="397.04" y1="390.81" x2="397.04" y2="400.93" stroke="#272a82" stroke-width="0.95"/>
<line x1="394.04" y1="390.81" x2="400.04" y2="390.81" stroke="#272a82" stroke-width="0.95"/>
<line x1="394.04" y1="400.93" x2="400.04" y2="400.93" stroke="#272a82" stroke-width="0.95"/>
<line x1="399.98" y1="390.81" x2="399.98" y2="400.93" stroke="#272a82" stroke-width="0.95"/>
<line x1="396.98" y1="390.81" x2="402.98" y2="390.81" stroke="#272a82" stroke-width="0.95"/>
<line x1="396.98" y1="400.93" x2="402.98" y2="400.93" stroke="#272a82" stroke-width="0.95"/>
<polyline points="267.5,380.47 270.44,383.07 273.39,385.75 276.33,387.7 279.28,388.35 282.22,389.65 285.16,390.3 288.11,390.95 291.05,391.53 294,392.25 296.94,393.56 299.88,394.21 302.83,395.51 305.77,397.46 308.72,399.49 311.66,399.99 314.6,397.1 317.55,391.75 320.49,383.58 323.44,374.18 326.38,366.23 329.32,356.83 332.27,346.34 335.21,339.48 338.16,337.52 341.1,340.2 344.04,344.9 346.99,350.32 349.93,355.38 352.88,359.72 355.82,362.61 358.76,364.78 361.71,366.95 364.65,370.56 367.6,374.18 370.54,377.8 373.48,381.05 376.43,384.3 379.37,386.83 382.32,389.36 385.26,391.82 388.2,393.85 391.15,395.15 394.09,395.15 397.04,395.87 399.98,395.87" fill="none" stroke="#272a82" stroke-width="1.15"/>
<circle cx="267.5" cy="380.47" r="0.9" fill="#16185a"/>
<circle cx="270.44" cy="383.07" r="0.9" fill="#16185a"/>
<circle cx="273.39" cy="385.75" r="0.9" fill="#16185a"/>
<circle cx="276.33" cy="387.7" r="0.9" fill="#16185a"/>
<circle cx="279.28" cy="388.35" r="0.9" fill="#16185a"/>
<circle cx="282.22" cy="389.65" r="0.9" fill="#16185a"/>
<circle cx="285.16" cy="390.3" r="0.9" fill="#16185a"/>
<circle cx="288.11" cy="390.95" r="0.9" fill="#16185a"/>
<circle cx="291.05" cy="391.53" r="0.9" fill="#16185a"/>
<circle cx="294" cy="392.25" r="0.9" fill="#16185a"/>
<circle cx="296.94" cy="393.56" r="0.9" fill="#16185a"/>
<circle cx="299.88" cy="394.21" r="0.9" fill="#16185a"/>
<circle cx="302.83" cy="395.51" r="0.9" fill="#16185a"/>
<circle cx="305.77" cy="397.46" r="0.9" fill="#16185a"/>
<circle cx="308.72" cy="399.49" r="0.9" fill="#16185a"/>
<circle cx="311.66" cy="399.99" r="0.9" fill="#16185a"/>
<circle cx="314.6" cy="397.1" r="0.9" fill="#16185a"/>
<circle cx="317.55" cy="391.75" r="0.9" fill="#16185a"/>
<circle cx="320.49" cy="383.58" r="0.9" fill="#16185a"/>
<circle cx="323.44" cy="374.18" r="0.9" fill="#16185a"/>
<circle cx="326.38" cy="366.23" r="0.9" fill="#16185a"/>
<circle cx="329.32" cy="356.83" r="0.9" fill="#16185a"/>
<circle cx="332.27" cy="346.34" r="0.9" fill="#16185a"/>
<circle cx="335.21" cy="339.48" r="0.9" fill="#16185a"/>
<circle cx="338.16" cy="337.52" r="0.9" fill="#16185a"/>
<circle cx="341.1" cy="340.2" r="0.9" fill="#16185a"/>
<circle cx="344.04" cy="344.9" r="0.9" fill="#16185a"/>
<circle cx="346.99" cy="350.32" r="0.9" fill="#16185a"/>
<circle cx="349.93" cy="355.38" r="0.9" fill="#16185a"/>
<circle cx="352.88" cy="359.72" r="0.9" fill="#16185a"/>
<circle cx="355.82" cy="362.61" r="0.9" fill="#16185a"/>
<circle cx="358.76" cy="364.78" r="0.9" fill="#16185a"/>
<circle cx="361.71" cy="366.95" r="0.9" fill="#16185a"/>
<circle cx="364.65" cy="370.56" r="0.9" fill="#16185a"/>
<circle cx="367.6" cy="374.18" r="0.9" fill="#16185a"/>
<circle cx="370.54" cy="377.8" r="0.9" fill="#16185a"/>
<circle cx="373.48" cy="381.05" r="0.9" fill="#16185a"/>
<circle cx="376.43" cy="384.3" r="0.9" fill="#16185a"/>
<circle cx="379.37" cy="386.83" r="0.9" fill="#16185a"/>
<circle cx="382.32" cy="389.36" r="0.9" fill="#16185a"/>
<circle cx="385.26" cy="391.82" r="0.9" fill="#16185a"/>
<circle cx="388.2" cy="393.85" r="0.9" fill="#16185a"/>
<circle cx="391.15" cy="395.15" r="0.9" fill="#16185a"/>
<circle cx="394.09" cy="395.15" r="0.9" fill="#16185a"/>
<circle cx="397.04" cy="395.87" r="0.9" fill="#16185a"/>
<circle cx="399.98" cy="395.87" r="0.9" fill="#16185a"/>
<line x1="267.5" y1="392.33" x2="267.5" y2="398.83" stroke="#d4172e" stroke-width="0.95"/>
<line x1="264.5" y1="392.33" x2="270.5" y2="392.33" stroke="#d4172e" stroke-width="0.95"/>
<line x1="264.5" y1="398.83" x2="270.5" y2="398.83" stroke="#d4172e" stroke-width="0.95"/>
<line x1="270.44" y1="393.63" x2="270.44" y2="400.14" stroke="#d4172e" stroke-width="0.95"/>
<line x1="267.44" y1="393.63" x2="273.44" y2="393.63" stroke="#d4172e" stroke-width="0.95"/>
<line x1="267.44" y1="400.14" x2="273.44" y2="400.14" stroke="#d4172e" stroke-width="0.95"/>
<line x1="273.39" y1="394.28" x2="273.39" y2="400.79" stroke="#d4172e" stroke-width="0.95"/>
<line x1="270.39" y1="394.28" x2="276.39" y2="394.28" stroke="#d4172e" stroke-width="0.95"/>
<line x1="270.39" y1="400.79" x2="276.39" y2="400.79" stroke="#d4172e" stroke-width="0.95"/>
<line x1="276.33" y1="394.93" x2="276.33" y2="401.44" stroke="#d4172e" stroke-width="0.95"/>
<line x1="273.33" y1="394.93" x2="279.33" y2="394.93" stroke="#d4172e" stroke-width="0.95"/>
<line x1="273.33" y1="401.44" x2="279.33" y2="401.44" stroke="#d4172e" stroke-width="0.95"/>
<line x1="279.28" y1="394.93" x2="279.28" y2="401.44" stroke="#d4172e" stroke-width="0.95"/>
<line x1="276.28" y1="394.93" x2="282.28" y2="394.93" stroke="#d4172e" stroke-width="0.95"/>
<line x1="276.28" y1="401.44" x2="282.28" y2="401.44" stroke="#d4172e" stroke-width="0.95"/>
<line x1="282.22" y1="394.28" x2="282.22" y2="400.79" stroke="#d4172e" stroke-width="0.95"/>
<line x1="279.22" y1="394.28" x2="285.22" y2="394.28" stroke="#d4172e" stroke-width="0.95"/>
<line x1="279.22" y1="400.79" x2="285.22" y2="400.79" stroke="#d4172e" stroke-width="0.95"/>
<line x1="285.16" y1="392.98" x2="285.16" y2="399.49" stroke="#d4172e" stroke-width="0.95"/>
<line x1="282.16" y1="392.98" x2="288.16" y2="392.98" stroke="#d4172e" stroke-width="0.95"/>
<line x1="282.16" y1="399.49" x2="288.16" y2="399.49" stroke="#d4172e" stroke-width="0.95"/>
<line x1="288.11" y1="392.33" x2="288.11" y2="398.83" stroke="#d4172e" stroke-width="0.95"/>
<line x1="285.11" y1="392.33" x2="291.11" y2="392.33" stroke="#d4172e" stroke-width="0.95"/>
<line x1="285.11" y1="398.83" x2="291.11" y2="398.83" stroke="#d4172e" stroke-width="0.95"/>
<line x1="291.05" y1="391.68" x2="291.05" y2="398.18" stroke="#d4172e" stroke-width="0.95"/>
<line x1="288.05" y1="391.68" x2="294.05" y2="391.68" stroke="#d4172e" stroke-width="0.95"/>
<line x1="288.05" y1="398.18" x2="294.05" y2="398.18" stroke="#d4172e" stroke-width="0.95"/>
<line x1="294" y1="390.95" x2="294" y2="397.46" stroke="#d4172e" stroke-width="0.95"/>
<line x1="291" y1="390.95" x2="297" y2="390.95" stroke="#d4172e" stroke-width="0.95"/>
<line x1="291" y1="397.46" x2="297" y2="397.46" stroke="#d4172e" stroke-width="0.95"/>
<line x1="296.94" y1="390.95" x2="296.94" y2="397.46" stroke="#d4172e" stroke-width="0.95"/>
<line x1="293.94" y1="390.95" x2="299.94" y2="390.95" stroke="#d4172e" stroke-width="0.95"/>
<line x1="293.94" y1="397.46" x2="299.94" y2="397.46" stroke="#d4172e" stroke-width="0.95"/>
<line x1="299.88" y1="391.68" x2="299.88" y2="398.18" stroke="#d4172e" stroke-width="0.95"/>
<line x1="296.88" y1="391.68" x2="302.88" y2="391.68" stroke="#d4172e" stroke-width="0.95"/>
<line x1="296.88" y1="398.18" x2="302.88" y2="398.18" stroke="#d4172e" stroke-width="0.95"/>
<line x1="302.83" y1="392.98" x2="302.83" y2="399.49" stroke="#d4172e" stroke-width="0.95"/>
<line x1="299.83" y1="392.98" x2="305.83" y2="392.98" stroke="#d4172e" stroke-width="0.95"/>
<line x1="299.83" y1="399.49" x2="305.83" y2="399.49" stroke="#d4172e" stroke-width="0.95"/>
<line x1="305.77" y1="394.93" x2="305.77" y2="401.44" stroke="#d4172e" stroke-width="0.95"/>
<line x1="302.77" y1="394.93" x2="308.77" y2="394.93" stroke="#d4172e" stroke-width="0.95"/>
<line x1="302.77" y1="401.44" x2="308.77" y2="401.44" stroke="#d4172e" stroke-width="0.95"/>
<line x1="308.72" y1="396.88" x2="308.72" y2="403.39" stroke="#d4172e" stroke-width="0.95"/>
<line x1="305.72" y1="396.88" x2="311.72" y2="396.88" stroke="#d4172e" stroke-width="0.95"/>
<line x1="305.72" y1="403.39" x2="311.72" y2="403.39" stroke="#d4172e" stroke-width="0.95"/>
<line x1="311.66" y1="398.4" x2="311.66" y2="404.91" stroke="#d4172e" stroke-width="0.95"/>
<line x1="308.66" y1="398.4" x2="314.66" y2="398.4" stroke="#d4172e" stroke-width="0.95"/>
<line x1="308.66" y1="404.91" x2="314.66" y2="404.91" stroke="#d4172e" stroke-width="0.95"/>
<line x1="314.6" y1="396.23" x2="314.6" y2="402.74" stroke="#d4172e" stroke-width="0.95"/>
<line x1="311.6" y1="396.23" x2="317.6" y2="396.23" stroke="#d4172e" stroke-width="0.95"/>
<line x1="311.6" y1="402.74" x2="317.6" y2="402.74" stroke="#d4172e" stroke-width="0.95"/>
<line x1="317.55" y1="391.89" x2="317.55" y2="398.4" stroke="#d4172e" stroke-width="0.95"/>
<line x1="314.55" y1="391.89" x2="320.55" y2="391.89" stroke="#d4172e" stroke-width="0.95"/>
<line x1="314.55" y1="398.4" x2="320.55" y2="398.4" stroke="#d4172e" stroke-width="0.95"/>
<line x1="320.49" y1="387.12" x2="320.49" y2="393.63" stroke="#d4172e" stroke-width="0.95"/>
<line x1="317.49" y1="387.12" x2="323.49" y2="387.12" stroke="#d4172e" stroke-width="0.95"/>
<line x1="317.49" y1="393.63" x2="323.49" y2="393.63" stroke="#d4172e" stroke-width="0.95"/>
<line x1="323.44" y1="380.47" x2="323.44" y2="386.98" stroke="#d4172e" stroke-width="0.95"/>
<line x1="320.44" y1="380.47" x2="326.44" y2="380.47" stroke="#d4172e" stroke-width="0.95"/>
<line x1="320.44" y1="386.98" x2="326.44" y2="386.98" stroke="#d4172e" stroke-width="0.95"/>
<line x1="326.38" y1="375.05" x2="326.38" y2="381.55" stroke="#d4172e" stroke-width="0.95"/>
<line x1="323.38" y1="375.05" x2="329.38" y2="375.05" stroke="#d4172e" stroke-width="0.95"/>
<line x1="323.38" y1="381.55" x2="329.38" y2="381.55" stroke="#d4172e" stroke-width="0.95"/>
<line x1="329.32" y1="374.54" x2="329.32" y2="381.05" stroke="#d4172e" stroke-width="0.95"/>
<line x1="326.32" y1="374.54" x2="332.32" y2="374.54" stroke="#d4172e" stroke-width="0.95"/>
<line x1="326.32" y1="381.05" x2="332.32" y2="381.05" stroke="#d4172e" stroke-width="0.95"/>
<line x1="332.27" y1="374.54" x2="332.27" y2="381.05" stroke="#d4172e" stroke-width="0.95"/>
<line x1="329.27" y1="374.54" x2="335.27" y2="374.54" stroke="#d4172e" stroke-width="0.95"/>
<line x1="329.27" y1="381.05" x2="335.27" y2="381.05" stroke="#d4172e" stroke-width="0.95"/>
<line x1="335.21" y1="375.05" x2="335.21" y2="381.55" stroke="#d4172e" stroke-width="0.95"/>
<line x1="332.21" y1="375.05" x2="338.21" y2="375.05" stroke="#d4172e" stroke-width="0.95"/>
<line x1="332.21" y1="381.55" x2="338.21" y2="381.55" stroke="#d4172e" stroke-width="0.95"/>
<line x1="338.16" y1="376.42" x2="338.16" y2="382.93" stroke="#d4172e" stroke-width="0.95"/>
<line x1="335.16" y1="376.42" x2="341.16" y2="376.42" stroke="#d4172e" stroke-width="0.95"/>
<line x1="335.16" y1="382.93" x2="341.16" y2="382.93" stroke="#d4172e" stroke-width="0.95"/>
<line x1="341.1" y1="377.72" x2="341.1" y2="384.23" stroke="#d4172e" stroke-width="0.95"/>
<line x1="338.1" y1="377.72" x2="344.1" y2="377.72" stroke="#d4172e" stroke-width="0.95"/>
<line x1="338.1" y1="384.23" x2="344.1" y2="384.23" stroke="#d4172e" stroke-width="0.95"/>
<line x1="344.04" y1="379.75" x2="344.04" y2="386.25" stroke="#d4172e" stroke-width="0.95"/>
<line x1="341.04" y1="379.75" x2="347.04" y2="379.75" stroke="#d4172e" stroke-width="0.95"/>
<line x1="341.04" y1="386.25" x2="347.04" y2="386.25" stroke="#d4172e" stroke-width="0.95"/>
<line x1="346.99" y1="381.77" x2="346.99" y2="388.28" stroke="#d4172e" stroke-width="0.95"/>
<line x1="343.99" y1="381.77" x2="349.99" y2="381.77" stroke="#d4172e" stroke-width="0.95"/>
<line x1="343.99" y1="388.28" x2="349.99" y2="388.28" stroke="#d4172e" stroke-width="0.95"/>
<line x1="349.93" y1="384.45" x2="349.93" y2="390.95" stroke="#d4172e" stroke-width="0.95"/>
<line x1="346.93" y1="384.45" x2="352.93" y2="384.45" stroke="#d4172e" stroke-width="0.95"/>
<line x1="346.93" y1="390.95" x2="352.93" y2="390.95" stroke="#d4172e" stroke-width="0.95"/>
<line x1="352.88" y1="386.11" x2="352.88" y2="392.62" stroke="#d4172e" stroke-width="0.95"/>
<line x1="349.88" y1="386.11" x2="355.88" y2="386.11" stroke="#d4172e" stroke-width="0.95"/>
<line x1="349.88" y1="392.62" x2="355.88" y2="392.62" stroke="#d4172e" stroke-width="0.95"/>
<line x1="355.82" y1="388.57" x2="355.82" y2="395.07" stroke="#d4172e" stroke-width="0.95"/>
<line x1="352.82" y1="388.57" x2="358.82" y2="388.57" stroke="#d4172e" stroke-width="0.95"/>
<line x1="352.82" y1="395.07" x2="358.82" y2="395.07" stroke="#d4172e" stroke-width="0.95"/>
<line x1="358.76" y1="391.89" x2="358.76" y2="398.4" stroke="#d4172e" stroke-width="0.95"/>
<line x1="355.76" y1="391.89" x2="361.76" y2="391.89" stroke="#d4172e" stroke-width="0.95"/>
<line x1="355.76" y1="398.4" x2="361.76" y2="398.4" stroke="#d4172e" stroke-width="0.95"/>
<line x1="361.71" y1="395.15" x2="361.71" y2="401.65" stroke="#d4172e" stroke-width="0.95"/>
<line x1="358.71" y1="395.15" x2="364.71" y2="395.15" stroke="#d4172e" stroke-width="0.95"/>
<line x1="358.71" y1="401.65" x2="364.71" y2="401.65" stroke="#d4172e" stroke-width="0.95"/>
<line x1="364.65" y1="397.75" x2="364.65" y2="404.26" stroke="#d4172e" stroke-width="0.95"/>
<line x1="361.65" y1="397.75" x2="367.65" y2="397.75" stroke="#d4172e" stroke-width="0.95"/>
<line x1="361.65" y1="404.26" x2="367.65" y2="404.26" stroke="#d4172e" stroke-width="0.95"/>
<line x1="367.6" y1="399.85" x2="367.6" y2="406.35" stroke="#d4172e" stroke-width="0.95"/>
<line x1="364.6" y1="399.85" x2="370.6" y2="399.85" stroke="#d4172e" stroke-width="0.95"/>
<line x1="364.6" y1="406.35" x2="370.6" y2="406.35" stroke="#d4172e" stroke-width="0.95"/>
<line x1="370.54" y1="400.42" x2="370.54" y2="406.93" stroke="#d4172e" stroke-width="0.95"/>
<line x1="367.54" y1="400.42" x2="373.54" y2="400.42" stroke="#d4172e" stroke-width="0.95"/>
<line x1="367.54" y1="406.93" x2="373.54" y2="406.93" stroke="#d4172e" stroke-width="0.95"/>
<line x1="373.48" y1="401.08" x2="373.48" y2="407.58" stroke="#d4172e" stroke-width="0.95"/>
<line x1="370.48" y1="401.08" x2="376.48" y2="401.08" stroke="#d4172e" stroke-width="0.95"/>
<line x1="370.48" y1="407.58" x2="376.48" y2="407.58" stroke="#d4172e" stroke-width="0.95"/>
<line x1="376.43" y1="401.08" x2="376.43" y2="407.58" stroke="#d4172e" stroke-width="0.95"/>
<line x1="373.43" y1="401.08" x2="379.43" y2="401.08" stroke="#d4172e" stroke-width="0.95"/>
<line x1="373.43" y1="407.58" x2="379.43" y2="407.58" stroke="#d4172e" stroke-width="0.95"/>
<line x1="379.37" y1="401.29" x2="379.37" y2="407.8" stroke="#d4172e" stroke-width="0.95"/>
<line x1="376.37" y1="401.29" x2="382.37" y2="401.29" stroke="#d4172e" stroke-width="0.95"/>
<line x1="376.37" y1="407.8" x2="382.37" y2="407.8" stroke="#d4172e" stroke-width="0.95"/>
<line x1="382.32" y1="401.29" x2="382.32" y2="407.8" stroke="#d4172e" stroke-width="0.95"/>
<line x1="379.32" y1="401.29" x2="385.32" y2="401.29" stroke="#d4172e" stroke-width="0.95"/>
<line x1="379.32" y1="407.8" x2="385.32" y2="407.8" stroke="#d4172e" stroke-width="0.95"/>
<line x1="385.26" y1="401.29" x2="385.26" y2="407.8" stroke="#d4172e" stroke-width="0.95"/>
<line x1="382.26" y1="401.29" x2="388.26" y2="401.29" stroke="#d4172e" stroke-width="0.95"/>
<line x1="382.26" y1="407.8" x2="388.26" y2="407.8" stroke="#d4172e" stroke-width="0.95"/>
<line x1="388.2" y1="401.44" x2="388.2" y2="407.94" stroke="#d4172e" stroke-width="0.95"/>
<line x1="385.2" y1="401.44" x2="391.2" y2="401.44" stroke="#d4172e" stroke-width="0.95"/>
<line x1="385.2" y1="407.94" x2="391.2" y2="407.94" stroke="#d4172e" stroke-width="0.95"/>
<line x1="391.15" y1="401.44" x2="391.15" y2="407.94" stroke="#d4172e" stroke-width="0.95"/>
<line x1="388.15" y1="401.44" x2="394.15" y2="401.44" stroke="#d4172e" stroke-width="0.95"/>
<line x1="388.15" y1="407.94" x2="394.15" y2="407.94" stroke="#d4172e" stroke-width="0.95"/>
<line x1="394.09" y1="401.58" x2="394.09" y2="408.09" stroke="#d4172e" stroke-width="0.95"/>
<line x1="391.09" y1="401.58" x2="397.09" y2="401.58" stroke="#d4172e" stroke-width="0.95"/>
<line x1="391.09" y1="408.09" x2="397.09" y2="408.09" stroke="#d4172e" stroke-width="0.95"/>
<line x1="397.04" y1="401.65" x2="397.04" y2="408.16" stroke="#d4172e" stroke-width="0.95"/>
<line x1="394.04" y1="401.65" x2="400.04" y2="401.65" stroke="#d4172e" stroke-width="0.95"/>
<line x1="394.04" y1="408.16" x2="400.04" y2="408.16" stroke="#d4172e" stroke-width="0.95"/>
<line x1="399.98" y1="401.73" x2="399.98" y2="408.23" stroke="#d4172e" stroke-width="0.95"/>
<line x1="396.98" y1="401.73" x2="402.98" y2="401.73" stroke="#d4172e" stroke-width="0.95"/>
<line x1="396.98" y1="408.23" x2="402.98" y2="408.23" stroke="#d4172e" stroke-width="0.95"/>
<polyline points="267.5,395.58 270.44,396.88 273.39,397.53 276.33,398.18 279.28,398.18 282.22,397.53 285.16,396.23 288.11,395.58 291.05,394.93 294,394.21 296.94,394.21 299.88,394.93 302.83,396.23 305.77,398.18 308.72,400.14 311.66,401.65 314.6,399.49 317.55,395.15 320.49,390.38 323.44,383.72 326.38,378.3 329.32,377.8 332.27,377.8 335.21,378.3 338.16,379.67 341.1,380.98 344.04,383 346.99,385.03 349.93,387.7 352.88,389.36 355.82,391.82 358.76,395.15 361.71,398.4 364.65,401 367.6,403.1 370.54,403.68 373.48,404.33 376.43,404.33 379.37,404.55 382.32,404.55 385.26,404.55 388.2,404.69 391.15,404.69 394.09,404.84 397.04,404.91 399.98,404.98" fill="none" stroke="#d4172e" stroke-width="1.15"/>
<circle cx="267.5" cy="395.58" r="0.9" fill="#8c0a1c"/>
<circle cx="270.44" cy="396.88" r="0.9" fill="#8c0a1c"/>
<circle cx="273.39" cy="397.53" r="0.9" fill="#8c0a1c"/>
<circle cx="276.33" cy="398.18" r="0.9" fill="#8c0a1c"/>
<circle cx="279.28" cy="398.18" r="0.9" fill="#8c0a1c"/>
<circle cx="282.22" cy="397.53" r="0.9" fill="#8c0a1c"/>
<circle cx="285.16" cy="396.23" r="0.9" fill="#8c0a1c"/>
<circle cx="288.11" cy="395.58" r="0.9" fill="#8c0a1c"/>
<circle cx="291.05" cy="394.93" r="0.9" fill="#8c0a1c"/>
<circle cx="294" cy="394.21" r="0.9" fill="#8c0a1c"/>
<circle cx="296.94" cy="394.21" r="0.9" fill="#8c0a1c"/>
<circle cx="299.88" cy="394.93" r="0.9" fill="#8c0a1c"/>
<circle cx="302.83" cy="396.23" r="0.9" fill="#8c0a1c"/>
<circle cx="305.77" cy="398.18" r="0.9" fill="#8c0a1c"/>
<circle cx="308.72" cy="400.14" r="0.9" fill="#8c0a1c"/>
<circle cx="311.66" cy="401.65" r="0.9" fill="#8c0a1c"/>
<circle cx="314.6" cy="399.49" r="0.9" fill="#8c0a1c"/>
<circle cx="317.55" cy="395.15" r="0.9" fill="#8c0a1c"/>
<circle cx="320.49" cy="390.38" r="0.9" fill="#8c0a1c"/>
<circle cx="323.44" cy="383.72" r="0.9" fill="#8c0a1c"/>
<circle cx="326.38" cy="378.3" r="0.9" fill="#8c0a1c"/>
<circle cx="329.32" cy="377.8" r="0.9" fill="#8c0a1c"/>
<circle cx="332.27" cy="377.8" r="0.9" fill="#8c0a1c"/>
<circle cx="335.21" cy="378.3" r="0.9" fill="#8c0a1c"/>
<circle cx="338.16" cy="379.67" r="0.9" fill="#8c0a1c"/>
<circle cx="341.1" cy="380.98" r="0.9" fill="#8c0a1c"/>
<circle cx="344.04" cy="383" r="0.9" fill="#8c0a1c"/>
<circle cx="346.99" cy="385.03" r="0.9" fill="#8c0a1c"/>
<circle cx="349.93" cy="387.7" r="0.9" fill="#8c0a1c"/>
<circle cx="352.88" cy="389.36" r="0.9" fill="#8c0a1c"/>
<circle cx="355.82" cy="391.82" r="0.9" fill="#8c0a1c"/>
<circle cx="358.76" cy="395.15" r="0.9" fill="#8c0a1c"/>
<circle cx="361.71" cy="398.4" r="0.9" fill="#8c0a1c"/>
<circle cx="364.65" cy="401" r="0.9" fill="#8c0a1c"/>
<circle cx="367.6" cy="403.1" r="0.9" fill="#8c0a1c"/>
<circle cx="370.54" cy="403.68" r="0.9" fill="#8c0a1c"/>
<circle cx="373.48" cy="404.33" r="0.9" fill="#8c0a1c"/>
<circle cx="376.43" cy="404.33" r="0.9" fill="#8c0a1c"/>
<circle cx="379.37" cy="404.55" r="0.9" fill="#8c0a1c"/>
<circle cx="382.32" cy="404.55" r="0.9" fill="#8c0a1c"/>
<circle cx="385.26" cy="404.55" r="0.9" fill="#8c0a1c"/>
<circle cx="388.2" cy="404.69" r="0.9" fill="#8c0a1c"/>
<circle cx="391.15" cy="404.69" r="0.9" fill="#8c0a1c"/>
<circle cx="394.09" cy="404.84" r="0.9" fill="#8c0a1c"/>
<circle cx="397.04" cy="404.91" r="0.9" fill="#8c0a1c"/>
<circle cx="399.98" cy="404.98" r="0.9" fill="#8c0a1c"/>
<text x="233.4" y="462.6" font-size="10.2" text-anchor="start" font-weight="bold" fill="#111">H</text>
<line x1="267.4" y1="464.64" x2="267.4" y2="566.8" stroke="#262626" stroke-width="1.1"/>
<line x1="263" y1="566.72" x2="267.4" y2="566.72" stroke="#262626" stroke-width="1.1"/>
<text x="260.4" y="569.74" font-size="8.4" text-anchor="end" font-weight="normal" fill="#1a1a1a">-2</text>
<line x1="263" y1="553.96" x2="267.4" y2="553.96" stroke="#262626" stroke-width="1.1"/>
<text x="260.4" y="556.98" font-size="8.4" text-anchor="end" font-weight="normal" fill="#1a1a1a">-1</text>
<line x1="263" y1="541.2" x2="267.4" y2="541.2" stroke="#262626" stroke-width="1.1"/>
<text x="260.4" y="544.22" font-size="8.4" text-anchor="end" font-weight="normal" fill="#1a1a1a">0</text>
<line x1="263" y1="528.44" x2="267.4" y2="528.44" stroke="#262626" stroke-width="1.1"/>
<text x="260.4" y="531.46" font-size="8.4" text-anchor="end" font-weight="normal" fill="#1a1a1a">1</text>
<line x1="263" y1="515.68" x2="267.4" y2="515.68" stroke="#262626" stroke-width="1.1"/>
<text x="260.4" y="518.7" font-size="8.4" text-anchor="end" font-weight="normal" fill="#1a1a1a">2</text>
<line x1="263" y1="502.92" x2="267.4" y2="502.92" stroke="#262626" stroke-width="1.1"/>
<text x="260.4" y="505.94" font-size="8.4" text-anchor="end" font-weight="normal" fill="#1a1a1a">3</text>
<line x1="263" y1="490.16" x2="267.4" y2="490.16" stroke="#262626" stroke-width="1.1"/>
<text x="260.4" y="493.18" font-size="8.4" text-anchor="end" font-weight="normal" fill="#1a1a1a">4</text>
<line x1="263" y1="477.4" x2="267.4" y2="477.4" stroke="#262626" stroke-width="1.1"/>
<text x="260.4" y="480.42" font-size="8.4" text-anchor="end" font-weight="normal" fill="#1a1a1a">5</text>
<line x1="263" y1="464.64" x2="267.4" y2="464.64" stroke="#262626" stroke-width="1.1"/>
<text x="260.4" y="467.66" font-size="8.4" text-anchor="end" font-weight="normal" fill="#1a1a1a">6</text>
<line x1="267.4" y1="566.8" x2="400.62" y2="566.8" stroke="#262626" stroke-width="1.1"/>
<line x1="267.6" y1="566.8" x2="267.6" y2="570.8" stroke="#262626" stroke-width="1.1"/>
<line x1="282.38" y1="566.8" x2="282.38" y2="570.8" stroke="#262626" stroke-width="1.1"/>
<line x1="297.16" y1="566.8" x2="297.16" y2="570.8" stroke="#262626" stroke-width="1.1"/>
<line x1="311.94" y1="566.8" x2="311.94" y2="570.8" stroke="#262626" stroke-width="1.1"/>
<line x1="326.72" y1="566.8" x2="326.72" y2="570.8" stroke="#262626" stroke-width="1.1"/>
<line x1="341.5" y1="566.8" x2="341.5" y2="570.8" stroke="#262626" stroke-width="1.1"/>
<line x1="356.28" y1="566.8" x2="356.28" y2="570.8" stroke="#262626" stroke-width="1.1"/>
<line x1="371.06" y1="566.8" x2="371.06" y2="570.8" stroke="#262626" stroke-width="1.1"/>
<line x1="385.84" y1="566.8" x2="385.84" y2="570.8" stroke="#262626" stroke-width="1.1"/>
<line x1="400.62" y1="566.8" x2="400.62" y2="570.8" stroke="#262626" stroke-width="1.1"/>
<text x="267.6" y="580.3" font-size="8.4" text-anchor="middle" font-weight="normal" fill="#1a1a1a">0</text>
<text x="282.38" y="580.3" font-size="8.4" text-anchor="middle" font-weight="normal" fill="#1a1a1a">1</text>
<text x="297.16" y="580.3" font-size="8.4" text-anchor="middle" font-weight="normal" fill="#1a1a1a">2</text>
<text x="311.94" y="580.3" font-size="8.4" text-anchor="middle" font-weight="normal" fill="#1a1a1a">3</text>
<text x="326.72" y="580.3" font-size="8.4" text-anchor="middle" font-weight="normal" fill="#1a1a1a">4</text>
<text x="341.5" y="580.3" font-size="8.4" text-anchor="middle" font-weight="normal" fill="#1a1a1a">5</text>
<text x="356.28" y="580.3" font-size="8.4" text-anchor="middle" font-weight="normal" fill="#1a1a1a">6</text>
<text x="371.06" y="580.3" font-size="8.4" text-anchor="middle" font-weight="normal" fill="#1a1a1a">7</text>
<text x="385.84" y="580.3" font-size="8.4" text-anchor="middle" font-weight="normal" fill="#1a1a1a">8</text>
<text x="400.62" y="580.3" font-size="8.4" text-anchor="middle" font-weight="normal" fill="#1a1a1a">9</text>
<text x="334.01" y="591" font-size="8.8" text-anchor="middle" font-weight="normal" fill="#1a1a1a">Time (Second)</text>
<rect x="312.24" y="561.1" width="44.74" height="2.6" fill="#111"/>
<text x="317.94" y="558.7" font-size="7.0" text-anchor="start" font-weight="normal" fill="#1a1a1a">Ben (CS-)</text>
<line x1="356.7" y1="468" x2="375.3" y2="468" stroke="#272a82" stroke-width="1.0"/>
<line x1="356.7" y1="475.6" x2="375.3" y2="475.6" stroke="#d4172e" stroke-width="1.0"/>
<circle cx="366" cy="468" r="1.2" fill="#1c1f6e"/>
<circle cx="366" cy="475.6" r="1.2" fill="#a01010"/>
<text x="376.6" y="470.5" font-size="7.0" text-anchor="start" font-weight="normal" fill="#1a1a1a">No RU486</text>
<text x="376.6" y="478.1" font-size="7.0" text-anchor="start" font-weight="normal" fill="#1a1a1a">RU486</text>
<text transform="translate(250.2,516.5) rotate(-90)" x="0" y="0" font-size="8.8" text-anchor="middle" fill="#1a1a1a">%ΔF/F<tspan font-size="6.3" dy="0.5">0</tspan></text>
<line x1="267.6" y1="524.61" x2="267.6" y2="537.37" stroke="#272a82" stroke-width="0.95"/>
<line x1="264.6" y1="524.61" x2="270.6" y2="524.61" stroke="#272a82" stroke-width="0.95"/>
<line x1="264.6" y1="537.37" x2="270.6" y2="537.37" stroke="#272a82" stroke-width="0.95"/>
<line x1="270.56" y1="524.61" x2="270.56" y2="542.48" stroke="#272a82" stroke-width="0.95"/>
<line x1="267.56" y1="524.61" x2="273.56" y2="524.61" stroke="#272a82" stroke-width="0.95"/>
<line x1="267.56" y1="542.48" x2="273.56" y2="542.48" stroke="#272a82" stroke-width="0.95"/>
<line x1="273.51" y1="523.97" x2="273.51" y2="536.73" stroke="#272a82" stroke-width="0.95"/>
<line x1="270.51" y1="523.97" x2="276.51" y2="523.97" stroke="#272a82" stroke-width="0.95"/>
<line x1="270.51" y1="536.73" x2="276.51" y2="536.73" stroke="#272a82" stroke-width="0.95"/>
<line x1="276.47" y1="523.34" x2="276.47" y2="536.1" stroke="#272a82" stroke-width="0.95"/>
<line x1="273.47" y1="523.34" x2="279.47" y2="523.34" stroke="#272a82" stroke-width="0.95"/>
<line x1="273.47" y1="536.1" x2="279.47" y2="536.1" stroke="#272a82" stroke-width="0.95"/>
<line x1="279.42" y1="522.06" x2="279.42" y2="534.82" stroke="#272a82" stroke-width="0.95"/>
<line x1="276.42" y1="522.06" x2="282.42" y2="522.06" stroke="#272a82" stroke-width="0.95"/>
<line x1="276.42" y1="534.82" x2="282.42" y2="534.82" stroke="#272a82" stroke-width="0.95"/>
<line x1="282.38" y1="519.51" x2="282.38" y2="532.27" stroke="#272a82" stroke-width="0.95"/>
<line x1="279.38" y1="519.51" x2="285.38" y2="519.51" stroke="#272a82" stroke-width="0.95"/>
<line x1="279.38" y1="532.27" x2="285.38" y2="532.27" stroke="#272a82" stroke-width="0.95"/>
<line x1="285.34" y1="523.34" x2="285.34" y2="536.1" stroke="#272a82" stroke-width="0.95"/>
<line x1="282.34" y1="523.34" x2="288.34" y2="523.34" stroke="#272a82" stroke-width="0.95"/>
<line x1="282.34" y1="536.1" x2="288.34" y2="536.1" stroke="#272a82" stroke-width="0.95"/>
<line x1="288.29" y1="524.61" x2="288.29" y2="539.92" stroke="#272a82" stroke-width="0.95"/>
<line x1="285.29" y1="524.61" x2="291.29" y2="524.61" stroke="#272a82" stroke-width="0.95"/>
<line x1="285.29" y1="539.92" x2="291.29" y2="539.92" stroke="#272a82" stroke-width="0.95"/>
<line x1="291.25" y1="528.44" x2="291.25" y2="541.2" stroke="#272a82" stroke-width="0.95"/>
<line x1="288.25" y1="528.44" x2="294.25" y2="528.44" stroke="#272a82" stroke-width="0.95"/>
<line x1="288.25" y1="541.2" x2="294.25" y2="541.2" stroke="#272a82" stroke-width="0.95"/>
<line x1="294.2" y1="529.08" x2="294.2" y2="541.84" stroke="#272a82" stroke-width="0.95"/>
<line x1="291.2" y1="529.08" x2="297.2" y2="529.08" stroke="#272a82" stroke-width="0.95"/>
<line x1="291.2" y1="541.84" x2="297.2" y2="541.84" stroke="#272a82" stroke-width="0.95"/>
<line x1="297.16" y1="528.95" x2="297.16" y2="541.71" stroke="#272a82" stroke-width="0.95"/>
<line x1="294.16" y1="528.95" x2="300.16" y2="528.95" stroke="#272a82" stroke-width="0.95"/>
<line x1="294.16" y1="541.71" x2="300.16" y2="541.71" stroke="#272a82" stroke-width="0.95"/>
<line x1="300.12" y1="527.8" x2="300.12" y2="540.56" stroke="#272a82" stroke-width="0.95"/>
<line x1="297.12" y1="527.8" x2="303.12" y2="527.8" stroke="#272a82" stroke-width="0.95"/>
<line x1="297.12" y1="540.56" x2="303.12" y2="540.56" stroke="#272a82" stroke-width="0.95"/>
<line x1="303.07" y1="526.91" x2="303.07" y2="538.39" stroke="#272a82" stroke-width="0.95"/>
<line x1="300.07" y1="526.91" x2="306.07" y2="526.91" stroke="#272a82" stroke-width="0.95"/>
<line x1="300.07" y1="538.39" x2="306.07" y2="538.39" stroke="#272a82" stroke-width="0.95"/>
<line x1="306.03" y1="527.8" x2="306.03" y2="540.56" stroke="#272a82" stroke-width="0.95"/>
<line x1="303.03" y1="527.8" x2="309.03" y2="527.8" stroke="#272a82" stroke-width="0.95"/>
<line x1="303.03" y1="540.56" x2="309.03" y2="540.56" stroke="#272a82" stroke-width="0.95"/>
<line x1="308.98" y1="529.59" x2="308.98" y2="542.35" stroke="#272a82" stroke-width="0.95"/>
<line x1="305.98" y1="529.59" x2="311.98" y2="529.59" stroke="#272a82" stroke-width="0.95"/>
<line x1="305.98" y1="542.35" x2="311.98" y2="542.35" stroke="#272a82" stroke-width="0.95"/>
<line x1="311.94" y1="531.63" x2="311.94" y2="544.39" stroke="#272a82" stroke-width="0.95"/>
<line x1="308.94" y1="531.63" x2="314.94" y2="531.63" stroke="#272a82" stroke-width="0.95"/>
<line x1="308.94" y1="544.39" x2="314.94" y2="544.39" stroke="#272a82" stroke-width="0.95"/>
<line x1="314.9" y1="530.99" x2="314.9" y2="541.2" stroke="#272a82" stroke-width="0.95"/>
<line x1="311.9" y1="530.99" x2="317.9" y2="530.99" stroke="#272a82" stroke-width="0.95"/>
<line x1="311.9" y1="541.2" x2="317.9" y2="541.2" stroke="#272a82" stroke-width="0.95"/>
<line x1="317.85" y1="523.34" x2="317.85" y2="533.54" stroke="#272a82" stroke-width="0.95"/>
<line x1="314.85" y1="523.34" x2="320.85" y2="523.34" stroke="#272a82" stroke-width="0.95"/>
<line x1="314.85" y1="533.54" x2="320.85" y2="533.54" stroke="#272a82" stroke-width="0.95"/>
<line x1="320.81" y1="510.58" x2="320.81" y2="520.78" stroke="#272a82" stroke-width="0.95"/>
<line x1="317.81" y1="510.58" x2="323.81" y2="510.58" stroke="#272a82" stroke-width="0.95"/>
<line x1="317.81" y1="520.78" x2="323.81" y2="520.78" stroke="#272a82" stroke-width="0.95"/>
<line x1="323.76" y1="493.99" x2="323.76" y2="504.2" stroke="#272a82" stroke-width="0.95"/>
<line x1="320.76" y1="493.99" x2="326.76" y2="493.99" stroke="#272a82" stroke-width="0.95"/>
<line x1="320.76" y1="504.2" x2="326.76" y2="504.2" stroke="#272a82" stroke-width="0.95"/>
<line x1="326.72" y1="483.78" x2="326.72" y2="493.99" stroke="#272a82" stroke-width="0.95"/>
<line x1="323.72" y1="483.78" x2="329.72" y2="483.78" stroke="#272a82" stroke-width="0.95"/>
<line x1="323.72" y1="493.99" x2="329.72" y2="493.99" stroke="#272a82" stroke-width="0.95"/>
<line x1="329.68" y1="478.68" x2="329.68" y2="488.88" stroke="#272a82" stroke-width="0.95"/>
<line x1="326.68" y1="478.68" x2="332.68" y2="478.68" stroke="#272a82" stroke-width="0.95"/>
<line x1="326.68" y1="488.88" x2="332.68" y2="488.88" stroke="#272a82" stroke-width="0.95"/>
<line x1="332.63" y1="475.49" x2="332.63" y2="485.69" stroke="#272a82" stroke-width="0.95"/>
<line x1="329.63" y1="475.49" x2="335.63" y2="475.49" stroke="#272a82" stroke-width="0.95"/>
<line x1="329.63" y1="485.69" x2="335.63" y2="485.69" stroke="#272a82" stroke-width="0.95"/>
<line x1="335.59" y1="474.21" x2="335.59" y2="484.42" stroke="#272a82" stroke-width="0.95"/>
<line x1="332.59" y1="474.21" x2="338.59" y2="474.21" stroke="#272a82" stroke-width="0.95"/>
<line x1="332.59" y1="484.42" x2="338.59" y2="484.42" stroke="#272a82" stroke-width="0.95"/>
<line x1="338.54" y1="474.21" x2="338.54" y2="484.42" stroke="#272a82" stroke-width="0.95"/>
<line x1="335.54" y1="474.21" x2="341.54" y2="474.21" stroke="#272a82" stroke-width="0.95"/>
<line x1="335.54" y1="484.42" x2="341.54" y2="484.42" stroke="#272a82" stroke-width="0.95"/>
<line x1="341.5" y1="474.85" x2="341.5" y2="485.06" stroke="#272a82" stroke-width="0.95"/>
<line x1="338.5" y1="474.85" x2="344.5" y2="474.85" stroke="#272a82" stroke-width="0.95"/>
<line x1="338.5" y1="485.06" x2="344.5" y2="485.06" stroke="#272a82" stroke-width="0.95"/>
<line x1="344.46" y1="478.68" x2="344.46" y2="488.88" stroke="#272a82" stroke-width="0.95"/>
<line x1="341.46" y1="478.68" x2="347.46" y2="478.68" stroke="#272a82" stroke-width="0.95"/>
<line x1="341.46" y1="488.88" x2="347.46" y2="488.88" stroke="#272a82" stroke-width="0.95"/>
<line x1="347.41" y1="486.46" x2="347.41" y2="496.67" stroke="#272a82" stroke-width="0.95"/>
<line x1="344.41" y1="486.46" x2="350.41" y2="486.46" stroke="#272a82" stroke-width="0.95"/>
<line x1="344.41" y1="496.67" x2="350.41" y2="496.67" stroke="#272a82" stroke-width="0.95"/>
<line x1="350.37" y1="493.22" x2="350.37" y2="505.98" stroke="#272a82" stroke-width="0.95"/>
<line x1="347.37" y1="493.22" x2="353.37" y2="493.22" stroke="#272a82" stroke-width="0.95"/>
<line x1="347.37" y1="505.98" x2="353.37" y2="505.98" stroke="#272a82" stroke-width="0.95"/>
<line x1="353.32" y1="502.66" x2="353.32" y2="515.42" stroke="#272a82" stroke-width="0.95"/>
<line x1="350.32" y1="502.66" x2="356.32" y2="502.66" stroke="#272a82" stroke-width="0.95"/>
<line x1="350.32" y1="515.42" x2="356.32" y2="515.42" stroke="#272a82" stroke-width="0.95"/>
<line x1="356.28" y1="511.85" x2="356.28" y2="524.61" stroke="#272a82" stroke-width="0.95"/>
<line x1="353.28" y1="511.85" x2="359.28" y2="511.85" stroke="#272a82" stroke-width="0.95"/>
<line x1="353.28" y1="524.61" x2="359.28" y2="524.61" stroke="#272a82" stroke-width="0.95"/>
<line x1="359.24" y1="522.06" x2="359.24" y2="534.82" stroke="#272a82" stroke-width="0.95"/>
<line x1="356.24" y1="522.06" x2="362.24" y2="522.06" stroke="#272a82" stroke-width="0.95"/>
<line x1="356.24" y1="534.82" x2="362.24" y2="534.82" stroke="#272a82" stroke-width="0.95"/>
<line x1="362.19" y1="531.37" x2="362.19" y2="544.13" stroke="#272a82" stroke-width="0.95"/>
<line x1="359.19" y1="531.37" x2="365.19" y2="531.37" stroke="#272a82" stroke-width="0.95"/>
<line x1="359.19" y1="544.13" x2="365.19" y2="544.13" stroke="#272a82" stroke-width="0.95"/>
<line x1="365.15" y1="536.61" x2="365.15" y2="549.37" stroke="#272a82" stroke-width="0.95"/>
<line x1="362.15" y1="536.61" x2="368.15" y2="536.61" stroke="#272a82" stroke-width="0.95"/>
<line x1="362.15" y1="549.37" x2="368.15" y2="549.37" stroke="#272a82" stroke-width="0.95"/>
<line x1="368.1" y1="540.56" x2="368.1" y2="553.32" stroke="#272a82" stroke-width="0.95"/>
<line x1="365.1" y1="540.56" x2="371.1" y2="540.56" stroke="#272a82" stroke-width="0.95"/>
<line x1="365.1" y1="553.32" x2="371.1" y2="553.32" stroke="#272a82" stroke-width="0.95"/>
<line x1="371.06" y1="541.84" x2="371.06" y2="554.6" stroke="#272a82" stroke-width="0.95"/>
<line x1="368.06" y1="541.84" x2="374.06" y2="541.84" stroke="#272a82" stroke-width="0.95"/>
<line x1="368.06" y1="554.6" x2="374.06" y2="554.6" stroke="#272a82" stroke-width="0.95"/>
<line x1="374.02" y1="543.75" x2="374.02" y2="556.51" stroke="#272a82" stroke-width="0.95"/>
<line x1="371.02" y1="543.75" x2="377.02" y2="543.75" stroke="#272a82" stroke-width="0.95"/>
<line x1="371.02" y1="556.51" x2="377.02" y2="556.51" stroke="#272a82" stroke-width="0.95"/>
<line x1="376.97" y1="545.16" x2="376.97" y2="557.92" stroke="#272a82" stroke-width="0.95"/>
<line x1="373.97" y1="545.16" x2="379.97" y2="545.16" stroke="#272a82" stroke-width="0.95"/>
<line x1="373.97" y1="557.92" x2="379.97" y2="557.92" stroke="#272a82" stroke-width="0.95"/>
<line x1="379.93" y1="545.79" x2="379.93" y2="558.55" stroke="#272a82" stroke-width="0.95"/>
<line x1="376.93" y1="545.79" x2="382.93" y2="545.79" stroke="#272a82" stroke-width="0.95"/>
<line x1="376.93" y1="558.55" x2="382.93" y2="558.55" stroke="#272a82" stroke-width="0.95"/>
<line x1="382.88" y1="545.79" x2="382.88" y2="558.55" stroke="#272a82" stroke-width="0.95"/>
<line x1="379.88" y1="545.79" x2="385.88" y2="545.79" stroke="#272a82" stroke-width="0.95"/>
<line x1="379.88" y1="558.55" x2="385.88" y2="558.55" stroke="#272a82" stroke-width="0.95"/>
<line x1="385.84" y1="547.07" x2="385.84" y2="559.83" stroke="#272a82" stroke-width="0.95"/>
<line x1="382.84" y1="547.07" x2="388.84" y2="547.07" stroke="#272a82" stroke-width="0.95"/>
<line x1="382.84" y1="559.83" x2="388.84" y2="559.83" stroke="#272a82" stroke-width="0.95"/>
<line x1="388.8" y1="545.79" x2="388.8" y2="558.55" stroke="#272a82" stroke-width="0.95"/>
<line x1="385.8" y1="545.79" x2="391.8" y2="545.79" stroke="#272a82" stroke-width="0.95"/>
<line x1="385.8" y1="558.55" x2="391.8" y2="558.55" stroke="#272a82" stroke-width="0.95"/>
<line x1="391.75" y1="545.16" x2="391.75" y2="557.92" stroke="#272a82" stroke-width="0.95"/>
<line x1="388.75" y1="545.16" x2="394.75" y2="545.16" stroke="#272a82" stroke-width="0.95"/>
<line x1="388.75" y1="557.92" x2="394.75" y2="557.92" stroke="#272a82" stroke-width="0.95"/>
<line x1="394.71" y1="543.75" x2="394.71" y2="556.51" stroke="#272a82" stroke-width="0.95"/>
<line x1="391.71" y1="543.75" x2="397.71" y2="543.75" stroke="#272a82" stroke-width="0.95"/>
<line x1="391.71" y1="556.51" x2="397.71" y2="556.51" stroke="#272a82" stroke-width="0.95"/>
<line x1="397.66" y1="543.11" x2="397.66" y2="555.87" stroke="#272a82" stroke-width="0.95"/>
<line x1="394.66" y1="543.11" x2="400.66" y2="543.11" stroke="#272a82" stroke-width="0.95"/>
<line x1="394.66" y1="555.87" x2="400.66" y2="555.87" stroke="#272a82" stroke-width="0.95"/>
<line x1="400.62" y1="543.11" x2="400.62" y2="555.87" stroke="#272a82" stroke-width="0.95"/>
<line x1="397.62" y1="543.11" x2="403.62" y2="543.11" stroke="#272a82" stroke-width="0.95"/>
<line x1="397.62" y1="555.87" x2="403.62" y2="555.87" stroke="#272a82" stroke-width="0.95"/>
<polyline points="267.6,530.99 270.56,533.54 273.51,530.35 276.47,529.72 279.42,528.44 282.38,525.89 285.34,529.72 288.29,532.27 291.25,534.82 294.2,535.46 297.16,535.33 300.12,534.18 303.07,532.65 306.03,534.18 308.98,535.97 311.94,538.01 314.9,536.1 317.85,528.44 320.81,515.68 323.76,499.09 326.72,488.88 329.68,483.78 332.63,480.59 335.59,479.31 338.54,479.31 341.5,479.95 344.46,483.78 347.41,491.56 350.37,499.6 353.32,509.04 356.28,518.23 359.24,528.44 362.19,537.75 365.15,542.99 368.1,546.94 371.06,548.22 374.02,550.13 376.97,551.54 379.93,552.17 382.88,552.17 385.84,553.45 388.8,552.17 391.75,551.54 394.71,550.13 397.66,549.49 400.62,549.49" fill="none" stroke="#272a82" stroke-width="1.15"/>
<circle cx="267.6" cy="530.99" r="0.9" fill="#16185a"/>
<circle cx="270.56" cy="533.54" r="0.9" fill="#16185a"/>
<circle cx="273.51" cy="530.35" r="0.9" fill="#16185a"/>
<circle cx="276.47" cy="529.72" r="0.9" fill="#16185a"/>
<circle cx="279.42" cy="528.44" r="0.9" fill="#16185a"/>
<circle cx="282.38" cy="525.89" r="0.9" fill="#16185a"/>
<circle cx="285.34" cy="529.72" r="0.9" fill="#16185a"/>
<circle cx="288.29" cy="532.27" r="0.9" fill="#16185a"/>
<circle cx="291.25" cy="534.82" r="0.9" fill="#16185a"/>
<circle cx="294.2" cy="535.46" r="0.9" fill="#16185a"/>
<circle cx="297.16" cy="535.33" r="0.9" fill="#16185a"/>
<circle cx="300.12" cy="534.18" r="0.9" fill="#16185a"/>
<circle cx="303.07" cy="532.65" r="0.9" fill="#16185a"/>
<circle cx="306.03" cy="534.18" r="0.9" fill="#16185a"/>
<circle cx="308.98" cy="535.97" r="0.9" fill="#16185a"/>
<circle cx="311.94" cy="538.01" r="0.9" fill="#16185a"/>
<circle cx="314.9" cy="536.1" r="0.9" fill="#16185a"/>
<circle cx="317.85" cy="528.44" r="0.9" fill="#16185a"/>
<circle cx="320.81" cy="515.68" r="0.9" fill="#16185a"/>
<circle cx="323.76" cy="499.09" r="0.9" fill="#16185a"/>
<circle cx="326.72" cy="488.88" r="0.9" fill="#16185a"/>
<circle cx="329.68" cy="483.78" r="0.9" fill="#16185a"/>
<circle cx="332.63" cy="480.59" r="0.9" fill="#16185a"/>
<circle cx="335.59" cy="479.31" r="0.9" fill="#16185a"/>
<circle cx="338.54" cy="479.31" r="0.9" fill="#16185a"/>
<circle cx="341.5" cy="479.95" r="0.9" fill="#16185a"/>
<circle cx="344.46" cy="483.78" r="0.9" fill="#16185a"/>
<circle cx="347.41" cy="491.56" r="0.9" fill="#16185a"/>
<circle cx="350.37" cy="499.6" r="0.9" fill="#16185a"/>
<circle cx="353.32" cy="509.04" r="0.9" fill="#16185a"/>
<circle cx="356.28" cy="518.23" r="0.9" fill="#16185a"/>
<circle cx="359.24" cy="528.44" r="0.9" fill="#16185a"/>
<circle cx="362.19" cy="537.75" r="0.9" fill="#16185a"/>
<circle cx="365.15" cy="542.99" r="0.9" fill="#16185a"/>
<circle cx="368.1" cy="546.94" r="0.9" fill="#16185a"/>
<circle cx="371.06" cy="548.22" r="0.9" fill="#16185a"/>
<circle cx="374.02" cy="550.13" r="0.9" fill="#16185a"/>
<circle cx="376.97" cy="551.54" r="0.9" fill="#16185a"/>
<circle cx="379.93" cy="552.17" r="0.9" fill="#16185a"/>
<circle cx="382.88" cy="552.17" r="0.9" fill="#16185a"/>
<circle cx="385.84" cy="553.45" r="0.9" fill="#16185a"/>
<circle cx="388.8" cy="552.17" r="0.9" fill="#16185a"/>
<circle cx="391.75" cy="551.54" r="0.9" fill="#16185a"/>
<circle cx="394.71" cy="550.13" r="0.9" fill="#16185a"/>
<circle cx="397.66" cy="549.49" r="0.9" fill="#16185a"/>
<circle cx="400.62" cy="549.49" r="0.9" fill="#16185a"/>
<line x1="267.6" y1="521.42" x2="267.6" y2="532.91" stroke="#d4172e" stroke-width="0.95"/>
<line x1="264.6" y1="521.42" x2="270.6" y2="521.42" stroke="#d4172e" stroke-width="0.95"/>
<line x1="264.6" y1="532.91" x2="270.6" y2="532.91" stroke="#d4172e" stroke-width="0.95"/>
<line x1="270.56" y1="522.7" x2="270.56" y2="534.18" stroke="#d4172e" stroke-width="0.95"/>
<line x1="267.56" y1="522.7" x2="273.56" y2="522.7" stroke="#d4172e" stroke-width="0.95"/>
<line x1="267.56" y1="534.18" x2="273.56" y2="534.18" stroke="#d4172e" stroke-width="0.95"/>
<line x1="273.51" y1="523.72" x2="273.51" y2="535.2" stroke="#d4172e" stroke-width="0.95"/>
<line x1="270.51" y1="523.72" x2="276.51" y2="523.72" stroke="#d4172e" stroke-width="0.95"/>
<line x1="270.51" y1="535.2" x2="276.51" y2="535.2" stroke="#d4172e" stroke-width="0.95"/>
<line x1="276.47" y1="524.61" x2="276.47" y2="536.1" stroke="#d4172e" stroke-width="0.95"/>
<line x1="273.47" y1="524.61" x2="279.47" y2="524.61" stroke="#d4172e" stroke-width="0.95"/>
<line x1="273.47" y1="536.1" x2="279.47" y2="536.1" stroke="#d4172e" stroke-width="0.95"/>
<line x1="279.42" y1="525.63" x2="279.42" y2="537.12" stroke="#d4172e" stroke-width="0.95"/>
<line x1="276.42" y1="525.63" x2="282.42" y2="525.63" stroke="#d4172e" stroke-width="0.95"/>
<line x1="276.42" y1="537.12" x2="282.42" y2="537.12" stroke="#d4172e" stroke-width="0.95"/>
<line x1="282.38" y1="526.53" x2="282.38" y2="538.01" stroke="#d4172e" stroke-width="0.95"/>
<line x1="279.38" y1="526.53" x2="285.38" y2="526.53" stroke="#d4172e" stroke-width="0.95"/>
<line x1="279.38" y1="538.01" x2="285.38" y2="538.01" stroke="#d4172e" stroke-width="0.95"/>
<line x1="285.34" y1="527.55" x2="285.34" y2="539.03" stroke="#d4172e" stroke-width="0.95"/>
<line x1="282.34" y1="527.55" x2="288.34" y2="527.55" stroke="#d4172e" stroke-width="0.95"/>
<line x1="282.34" y1="539.03" x2="288.34" y2="539.03" stroke="#d4172e" stroke-width="0.95"/>
<line x1="288.29" y1="529.08" x2="288.29" y2="540.56" stroke="#d4172e" stroke-width="0.95"/>
<line x1="285.29" y1="529.08" x2="291.29" y2="529.08" stroke="#d4172e" stroke-width="0.95"/>
<line x1="285.29" y1="540.56" x2="291.29" y2="540.56" stroke="#d4172e" stroke-width="0.95"/>
<line x1="291.25" y1="530.23" x2="291.25" y2="541.71" stroke="#d4172e" stroke-width="0.95"/>
<line x1="288.25" y1="530.23" x2="294.25" y2="530.23" stroke="#d4172e" stroke-width="0.95"/>
<line x1="288.25" y1="541.71" x2="294.25" y2="541.71" stroke="#d4172e" stroke-width="0.95"/>
<line x1="294.2" y1="530.86" x2="294.2" y2="542.35" stroke="#d4172e" stroke-width="0.95"/>
<line x1="291.2" y1="530.86" x2="297.2" y2="530.86" stroke="#d4172e" stroke-width="0.95"/>
<line x1="291.2" y1="542.35" x2="297.2" y2="542.35" stroke="#d4172e" stroke-width="0.95"/>
<line x1="297.16" y1="531.5" x2="297.16" y2="542.99" stroke="#d4172e" stroke-width="0.95"/>
<line x1="294.16" y1="531.5" x2="300.16" y2="531.5" stroke="#d4172e" stroke-width="0.95"/>
<line x1="294.16" y1="542.99" x2="300.16" y2="542.99" stroke="#d4172e" stroke-width="0.95"/>
<line x1="300.12" y1="531.25" x2="300.12" y2="542.73" stroke="#d4172e" stroke-width="0.95"/>
<line x1="297.12" y1="531.25" x2="303.12" y2="531.25" stroke="#d4172e" stroke-width="0.95"/>
<line x1="297.12" y1="542.73" x2="303.12" y2="542.73" stroke="#d4172e" stroke-width="0.95"/>
<line x1="303.07" y1="530.86" x2="303.07" y2="542.35" stroke="#d4172e" stroke-width="0.95"/>
<line x1="300.07" y1="530.86" x2="306.07" y2="530.86" stroke="#d4172e" stroke-width="0.95"/>
<line x1="300.07" y1="542.35" x2="306.07" y2="542.35" stroke="#d4172e" stroke-width="0.95"/>
<line x1="306.03" y1="532.91" x2="306.03" y2="544.39" stroke="#d4172e" stroke-width="0.95"/>
<line x1="303.03" y1="532.91" x2="309.03" y2="532.91" stroke="#d4172e" stroke-width="0.95"/>
<line x1="303.03" y1="544.39" x2="309.03" y2="544.39" stroke="#d4172e" stroke-width="0.95"/>
<line x1="308.98" y1="535.46" x2="308.98" y2="546.94" stroke="#d4172e" stroke-width="0.95"/>
<line x1="305.98" y1="535.46" x2="311.98" y2="535.46" stroke="#d4172e" stroke-width="0.95"/>
<line x1="305.98" y1="546.94" x2="311.98" y2="546.94" stroke="#d4172e" stroke-width="0.95"/>
<line x1="311.94" y1="537.37" x2="311.94" y2="548.86" stroke="#d4172e" stroke-width="0.95"/>
<line x1="308.94" y1="537.37" x2="314.94" y2="537.37" stroke="#d4172e" stroke-width="0.95"/>
<line x1="308.94" y1="548.86" x2="314.94" y2="548.86" stroke="#d4172e" stroke-width="0.95"/>
<line x1="314.9" y1="529.33" x2="314.9" y2="540.82" stroke="#d4172e" stroke-width="0.95"/>
<line x1="311.9" y1="529.33" x2="317.9" y2="529.33" stroke="#d4172e" stroke-width="0.95"/>
<line x1="311.9" y1="540.82" x2="317.9" y2="540.82" stroke="#d4172e" stroke-width="0.95"/>
<line x1="317.85" y1="521.93" x2="317.85" y2="533.42" stroke="#d4172e" stroke-width="0.95"/>
<line x1="314.85" y1="521.93" x2="320.85" y2="521.93" stroke="#d4172e" stroke-width="0.95"/>
<line x1="314.85" y1="533.42" x2="320.85" y2="533.42" stroke="#d4172e" stroke-width="0.95"/>
<line x1="320.81" y1="512.49" x2="320.81" y2="523.97" stroke="#d4172e" stroke-width="0.95"/>
<line x1="317.81" y1="512.49" x2="323.81" y2="512.49" stroke="#d4172e" stroke-width="0.95"/>
<line x1="317.81" y1="523.97" x2="323.81" y2="523.97" stroke="#d4172e" stroke-width="0.95"/>
<line x1="323.76" y1="499.22" x2="323.76" y2="510.7" stroke="#d4172e" stroke-width="0.95"/>
<line x1="320.76" y1="499.22" x2="326.76" y2="499.22" stroke="#d4172e" stroke-width="0.95"/>
<line x1="320.76" y1="510.7" x2="326.76" y2="510.7" stroke="#d4172e" stroke-width="0.95"/>
<line x1="326.72" y1="486.97" x2="326.72" y2="498.45" stroke="#d4172e" stroke-width="0.95"/>
<line x1="323.72" y1="486.97" x2="329.72" y2="486.97" stroke="#d4172e" stroke-width="0.95"/>
<line x1="323.72" y1="498.45" x2="329.72" y2="498.45" stroke="#d4172e" stroke-width="0.95"/>
<line x1="329.68" y1="479.06" x2="329.68" y2="490.54" stroke="#d4172e" stroke-width="0.95"/>
<line x1="326.68" y1="479.06" x2="332.68" y2="479.06" stroke="#d4172e" stroke-width="0.95"/>
<line x1="326.68" y1="490.54" x2="332.68" y2="490.54" stroke="#d4172e" stroke-width="0.95"/>
<line x1="332.63" y1="475.1" x2="332.63" y2="486.59" stroke="#d4172e" stroke-width="0.95"/>
<line x1="329.63" y1="475.1" x2="335.63" y2="475.1" stroke="#d4172e" stroke-width="0.95"/>
<line x1="329.63" y1="486.59" x2="335.63" y2="486.59" stroke="#d4172e" stroke-width="0.95"/>
<line x1="335.59" y1="475.74" x2="335.59" y2="487.23" stroke="#d4172e" stroke-width="0.95"/>
<line x1="332.59" y1="475.74" x2="338.59" y2="475.74" stroke="#d4172e" stroke-width="0.95"/>
<line x1="332.59" y1="487.23" x2="338.59" y2="487.23" stroke="#d4172e" stroke-width="0.95"/>
<line x1="338.54" y1="477.78" x2="338.54" y2="489.27" stroke="#d4172e" stroke-width="0.95"/>
<line x1="335.54" y1="477.78" x2="341.54" y2="477.78" stroke="#d4172e" stroke-width="0.95"/>
<line x1="335.54" y1="489.27" x2="341.54" y2="489.27" stroke="#d4172e" stroke-width="0.95"/>
<line x1="341.5" y1="480.46" x2="341.5" y2="491.95" stroke="#d4172e" stroke-width="0.95"/>
<line x1="338.5" y1="480.46" x2="344.5" y2="480.46" stroke="#d4172e" stroke-width="0.95"/>
<line x1="338.5" y1="491.95" x2="344.5" y2="491.95" stroke="#d4172e" stroke-width="0.95"/>
<line x1="344.46" y1="485.82" x2="344.46" y2="497.31" stroke="#d4172e" stroke-width="0.95"/>
<line x1="341.46" y1="485.82" x2="347.46" y2="485.82" stroke="#d4172e" stroke-width="0.95"/>
<line x1="341.46" y1="497.31" x2="347.46" y2="497.31" stroke="#d4172e" stroke-width="0.95"/>
<line x1="347.41" y1="493.86" x2="347.41" y2="505.34" stroke="#d4172e" stroke-width="0.95"/>
<line x1="344.41" y1="493.86" x2="350.41" y2="493.86" stroke="#d4172e" stroke-width="0.95"/>
<line x1="344.41" y1="505.34" x2="350.41" y2="505.34" stroke="#d4172e" stroke-width="0.95"/>
<line x1="350.37" y1="501.9" x2="350.37" y2="513.38" stroke="#d4172e" stroke-width="0.95"/>
<line x1="347.37" y1="501.9" x2="353.37" y2="501.9" stroke="#d4172e" stroke-width="0.95"/>
<line x1="347.37" y1="513.38" x2="353.37" y2="513.38" stroke="#d4172e" stroke-width="0.95"/>
<line x1="353.32" y1="507.39" x2="353.32" y2="518.87" stroke="#d4172e" stroke-width="0.95"/>
<line x1="350.32" y1="507.39" x2="356.32" y2="507.39" stroke="#d4172e" stroke-width="0.95"/>
<line x1="350.32" y1="518.87" x2="356.32" y2="518.87" stroke="#d4172e" stroke-width="0.95"/>
<line x1="356.28" y1="511.72" x2="356.28" y2="523.21" stroke="#d4172e" stroke-width="0.95"/>
<line x1="353.28" y1="511.72" x2="359.28" y2="511.72" stroke="#d4172e" stroke-width="0.95"/>
<line x1="353.28" y1="523.21" x2="359.28" y2="523.21" stroke="#d4172e" stroke-width="0.95"/>
<line x1="359.24" y1="516.96" x2="359.24" y2="528.44" stroke="#d4172e" stroke-width="0.95"/>
<line x1="356.24" y1="516.96" x2="362.24" y2="516.96" stroke="#d4172e" stroke-width="0.95"/>
<line x1="356.24" y1="528.44" x2="362.24" y2="528.44" stroke="#d4172e" stroke-width="0.95"/>
<line x1="362.19" y1="520.91" x2="362.19" y2="532.4" stroke="#d4172e" stroke-width="0.95"/>
<line x1="359.19" y1="520.91" x2="365.19" y2="520.91" stroke="#d4172e" stroke-width="0.95"/>
<line x1="359.19" y1="532.4" x2="365.19" y2="532.4" stroke="#d4172e" stroke-width="0.95"/>
<line x1="365.15" y1="524.87" x2="365.15" y2="536.35" stroke="#d4172e" stroke-width="0.95"/>
<line x1="362.15" y1="524.87" x2="368.15" y2="524.87" stroke="#d4172e" stroke-width="0.95"/>
<line x1="362.15" y1="536.35" x2="368.15" y2="536.35" stroke="#d4172e" stroke-width="0.95"/>
<line x1="368.1" y1="528.7" x2="368.1" y2="540.18" stroke="#d4172e" stroke-width="0.95"/>
<line x1="365.1" y1="528.7" x2="371.1" y2="528.7" stroke="#d4172e" stroke-width="0.95"/>
<line x1="365.1" y1="540.18" x2="371.1" y2="540.18" stroke="#d4172e" stroke-width="0.95"/>
<line x1="371.06" y1="532.01" x2="371.06" y2="543.5" stroke="#d4172e" stroke-width="0.95"/>
<line x1="368.06" y1="532.01" x2="374.06" y2="532.01" stroke="#d4172e" stroke-width="0.95"/>
<line x1="368.06" y1="543.5" x2="374.06" y2="543.5" stroke="#d4172e" stroke-width="0.95"/>
<line x1="374.02" y1="533.29" x2="374.02" y2="544.77" stroke="#d4172e" stroke-width="0.95"/>
<line x1="371.02" y1="533.29" x2="377.02" y2="533.29" stroke="#d4172e" stroke-width="0.95"/>
<line x1="371.02" y1="544.77" x2="377.02" y2="544.77" stroke="#d4172e" stroke-width="0.95"/>
<line x1="376.97" y1="533.93" x2="376.97" y2="545.41" stroke="#d4172e" stroke-width="0.95"/>
<line x1="373.97" y1="533.93" x2="379.97" y2="533.93" stroke="#d4172e" stroke-width="0.95"/>
<line x1="373.97" y1="545.41" x2="379.97" y2="545.41" stroke="#d4172e" stroke-width="0.95"/>
<line x1="379.93" y1="534.69" x2="379.93" y2="546.18" stroke="#d4172e" stroke-width="0.95"/>
<line x1="376.93" y1="534.69" x2="382.93" y2="534.69" stroke="#d4172e" stroke-width="0.95"/>
<line x1="376.93" y1="546.18" x2="382.93" y2="546.18" stroke="#d4172e" stroke-width="0.95"/>
<line x1="382.88" y1="535.33" x2="382.88" y2="546.81" stroke="#d4172e" stroke-width="0.95"/>
<line x1="379.88" y1="535.33" x2="385.88" y2="535.33" stroke="#d4172e" stroke-width="0.95"/>
<line x1="379.88" y1="546.81" x2="385.88" y2="546.81" stroke="#d4172e" stroke-width="0.95"/>
<line x1="385.84" y1="535.97" x2="385.84" y2="547.45" stroke="#d4172e" stroke-width="0.95"/>
<line x1="382.84" y1="535.97" x2="388.84" y2="535.97" stroke="#d4172e" stroke-width="0.95"/>
<line x1="382.84" y1="547.45" x2="388.84" y2="547.45" stroke="#d4172e" stroke-width="0.95"/>
<line x1="388.8" y1="537.24" x2="388.8" y2="548.73" stroke="#d4172e" stroke-width="0.95"/>
<line x1="385.8" y1="537.24" x2="391.8" y2="537.24" stroke="#d4172e" stroke-width="0.95"/>
<line x1="385.8" y1="548.73" x2="391.8" y2="548.73" stroke="#d4172e" stroke-width="0.95"/>
<line x1="391.75" y1="538.52" x2="391.75" y2="550" stroke="#d4172e" stroke-width="0.95"/>
<line x1="388.75" y1="538.52" x2="394.75" y2="538.52" stroke="#d4172e" stroke-width="0.95"/>
<line x1="388.75" y1="550" x2="394.75" y2="550" stroke="#d4172e" stroke-width="0.95"/>
<line x1="394.71" y1="539.92" x2="394.71" y2="551.41" stroke="#d4172e" stroke-width="0.95"/>
<line x1="391.71" y1="539.92" x2="397.71" y2="539.92" stroke="#d4172e" stroke-width="0.95"/>
<line x1="391.71" y1="551.41" x2="397.71" y2="551.41" stroke="#d4172e" stroke-width="0.95"/>
<line x1="397.66" y1="541.2" x2="397.66" y2="552.68" stroke="#d4172e" stroke-width="0.95"/>
<line x1="394.66" y1="541.2" x2="400.66" y2="541.2" stroke="#d4172e" stroke-width="0.95"/>
<line x1="394.66" y1="552.68" x2="400.66" y2="552.68" stroke="#d4172e" stroke-width="0.95"/>
<line x1="400.62" y1="543.11" x2="400.62" y2="554.6" stroke="#d4172e" stroke-width="0.95"/>
<line x1="397.62" y1="543.11" x2="403.62" y2="543.11" stroke="#d4172e" stroke-width="0.95"/>
<line x1="397.62" y1="554.6" x2="403.62" y2="554.6" stroke="#d4172e" stroke-width="0.95"/>
<polyline points="267.6,527.16 270.56,528.44 273.51,529.46 276.47,530.35 279.42,531.37 282.38,532.27 285.34,533.29 288.29,534.82 291.25,535.97 294.2,536.61 297.16,537.24 300.12,536.99 303.07,536.61 306.03,538.65 308.98,541.2 311.94,543.11 314.9,535.08 317.85,527.67 320.81,518.23 323.76,504.96 326.72,492.71 329.68,484.8 332.63,480.85 335.59,481.48 338.54,483.52 341.5,486.2 344.46,491.56 347.41,499.6 350.37,507.64 353.32,513.13 356.28,517.47 359.24,522.7 362.19,526.65 365.15,530.61 368.1,534.44 371.06,537.75 374.02,539.03 376.97,539.67 379.93,540.43 382.88,541.07 385.84,541.71 388.8,542.99 391.75,544.26 394.71,545.67 397.66,546.94 400.62,548.86" fill="none" stroke="#d4172e" stroke-width="1.15"/>
<circle cx="267.6" cy="527.16" r="0.9" fill="#8c0a1c"/>
<circle cx="270.56" cy="528.44" r="0.9" fill="#8c0a1c"/>
<circle cx="273.51" cy="529.46" r="0.9" fill="#8c0a1c"/>
<circle cx="276.47" cy="530.35" r="0.9" fill="#8c0a1c"/>
<circle cx="279.42" cy="531.37" r="0.9" fill="#8c0a1c"/>
<circle cx="282.38" cy="532.27" r="0.9" fill="#8c0a1c"/>
<circle cx="285.34" cy="533.29" r="0.9" fill="#8c0a1c"/>
<circle cx="288.29" cy="534.82" r="0.9" fill="#8c0a1c"/>
<circle cx="291.25" cy="535.97" r="0.9" fill="#8c0a1c"/>
<circle cx="294.2" cy="536.61" r="0.9" fill="#8c0a1c"/>
<circle cx="297.16" cy="537.24" r="0.9" fill="#8c0a1c"/>
<circle cx="300.12" cy="536.99" r="0.9" fill="#8c0a1c"/>
<circle cx="303.07" cy="536.61" r="0.9" fill="#8c0a1c"/>
<circle cx="306.03" cy="538.65" r="0.9" fill="#8c0a1c"/>
<circle cx="308.98" cy="541.2" r="0.9" fill="#8c0a1c"/>
<circle cx="311.94" cy="543.11" r="0.9" fill="#8c0a1c"/>
<circle cx="314.9" cy="535.08" r="0.9" fill="#8c0a1c"/>
<circle cx="317.85" cy="527.67" r="0.9" fill="#8c0a1c"/>
<circle cx="320.81" cy="518.23" r="0.9" fill="#8c0a1c"/>
<circle cx="323.76" cy="504.96" r="0.9" fill="#8c0a1c"/>
<circle cx="326.72" cy="492.71" r="0.9" fill="#8c0a1c"/>
<circle cx="329.68" cy="484.8" r="0.9" fill="#8c0a1c"/>
<circle cx="332.63" cy="480.85" r="0.9" fill="#8c0a1c"/>
<circle cx="335.59" cy="481.48" r="0.9" fill="#8c0a1c"/>
<circle cx="338.54" cy="483.52" r="0.9" fill="#8c0a1c"/>
<circle cx="341.5" cy="486.2" r="0.9" fill="#8c0a1c"/>
<circle cx="344.46" cy="491.56" r="0.9" fill="#8c0a1c"/>
<circle cx="347.41" cy="499.6" r="0.9" fill="#8c0a1c"/>
<circle cx="350.37" cy="507.64" r="0.9" fill="#8c0a1c"/>
<circle cx="353.32" cy="513.13" r="0.9" fill="#8c0a1c"/>
<circle cx="356.28" cy="517.47" r="0.9" fill="#8c0a1c"/>
<circle cx="359.24" cy="522.7" r="0.9" fill="#8c0a1c"/>
<circle cx="362.19" cy="526.65" r="0.9" fill="#8c0a1c"/>
<circle cx="365.15" cy="530.61" r="0.9" fill="#8c0a1c"/>
<circle cx="368.1" cy="534.44" r="0.9" fill="#8c0a1c"/>
<circle cx="371.06" cy="537.75" r="0.9" fill="#8c0a1c"/>
<circle cx="374.02" cy="539.03" r="0.9" fill="#8c0a1c"/>
<circle cx="376.97" cy="539.67" r="0.9" fill="#8c0a1c"/>
<circle cx="379.93" cy="540.43" r="0.9" fill="#8c0a1c"/>
<circle cx="382.88" cy="541.07" r="0.9" fill="#8c0a1c"/>
<circle cx="385.84" cy="541.71" r="0.9" fill="#8c0a1c"/>
<circle cx="388.8" cy="542.99" r="0.9" fill="#8c0a1c"/>
<circle cx="391.75" cy="544.26" r="0.9" fill="#8c0a1c"/>
<circle cx="394.71" cy="545.67" r="0.9" fill="#8c0a1c"/>
<circle cx="397.66" cy="546.94" r="0.9" fill="#8c0a1c"/>
<circle cx="400.62" cy="548.86" r="0.9" fill="#8c0a1c"/>
</g>
</svg>
</body></html>
